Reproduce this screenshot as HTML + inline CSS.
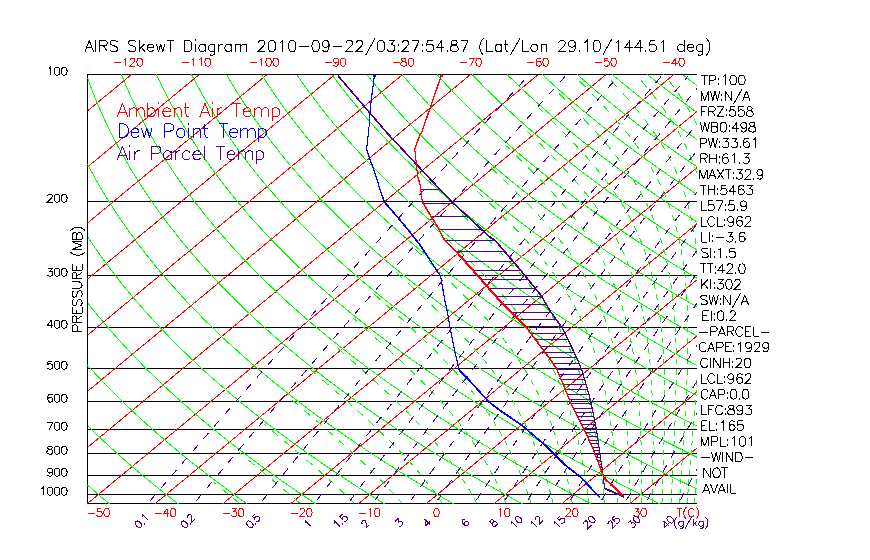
<!DOCTYPE html>
<html><head><meta charset="utf-8"><style>
html,body{margin:0;padding:0;background:#fff;}
svg{display:block;font-family:"Liberation Sans",sans-serif;}
</style></head><body>
<svg width="870" height="560" viewBox="0 0 870 560">
<rect width="870" height="560" fill="#fff"/>
<defs><clipPath id="c"><rect x="87" y="74" width="610" height="430"/></clipPath></defs>
<g clip-path="url(#c)">
<path d="M87 201.5H697M87 275.5H697M87 327.5H697M87 368.5H697M87 401.5H697M87 429.5H697M87 453.5H697M87 475.5H697M87 494.5H697M87 74.5H697M87 503.5H697M87.5 74V504" stroke="#000" stroke-width="1" fill="none" shape-rendering="crispEdges"/>
<path d="M87.5 110.91 131.52 74.5M87.5 167 199.32 74.5M87.5 223.08 267.12 74.5M87.5 279.16 334.92 74.5M87.5 335.25 402.72 74.5M87.5 391.33 470.52 74.5M87.5 447.42 538.32 74.5M87.5 503.5 606.12 74.5M154.09 504.5 673.92 74.5M221.89 504.5 697.5 111.08M289.69 504.5 697.5 167.16M357.49 504.5 697.5 223.25M425.29 504.5 697.5 279.33M493.09 504.5 697.5 335.41M560.89 504.5 697.5 391.5M628.69 504.5 697.5 447.58M696.49 504.5 697.5 503.67" stroke="#ff0000" stroke-width="1" fill="none" shape-rendering="crispEdges"/>
<path d="M87.5 485.02 89.18 486.5 91.45 488.5 93.75 490.5 96.06 492.5 98.38 494.5 100.72 496.5 103.07 498.5 105.44 500.5 107.82 502.5 110.22 504.5M87.5 425.63 88.38 426.5 90.43 428.5 92.5 430.5 94.57 432.5 96.66 434.5 98.77 436.5 100.89 438.5 103.02 440.5 105.17 442.5 107.33 444.5 109.51 446.5 111.7 448.5 113.9 450.5 116.12 452.5 118.36 454.5 120.61 456.5 122.87 458.5 125.15 460.5 127.44 462.5 129.75 464.5 132.07 466.5 134.41 468.5 136.76 470.5 139.13 472.5 141.51 474.5 143.91 476.5 146.32 478.5 148.75 480.5 151.2 482.5 153.66 484.5 156.13 486.5 158.62 488.5 161.12 490.5 163.64 492.5 166.18 494.5 168.73 496.5 171.3 498.5 173.88 500.5 176.48 502.5 179.09 504.5M87.5 365.17 88.71 366.5 90.53 368.5 92.36 370.5 94.21 372.5 96.07 374.5 97.95 376.5 99.84 378.5 101.74 380.5 103.65 382.5 105.58 384.5 107.53 386.5 109.48 388.5 111.45 390.5 113.44 392.5 115.44 394.5 117.45 396.5 119.47 398.5 121.51 400.5 123.57 402.5 125.63 404.5 127.72 406.5 129.81 408.5 131.92 410.5 134.05 412.5 136.19 414.5 138.34 416.5 140.51 418.5 142.69 420.5 144.89 422.5 147.1 424.5 149.32 426.5 151.56 428.5 153.82 430.5 156.09 432.5 158.37 434.5 160.67 436.5 162.98 438.5 165.31 440.5 167.65 442.5 170.01 444.5 172.39 446.5 174.78 448.5 177.18 450.5 179.6 452.5 182.03 454.5 184.48 456.5 186.95 458.5 189.43 460.5 191.92 462.5 194.43 464.5 196.96 466.5 199.5 468.5 202.06 470.5 204.63 472.5 207.22 474.5 209.82 476.5 212.44 478.5 215.08 480.5 217.73 482.5 220.4 484.5 223.08 486.5 225.78 488.5 228.5 490.5 231.23 492.5 233.98 494.5 236.74 496.5 239.53 498.5 242.32 500.5 245.14 502.5 247.97 504.5M87.5 302.66 88.95 304.5 90.53 306.5 92.13 308.5 93.75 310.5 95.37 312.5 97.01 314.5 98.66 316.5 100.32 318.5 102 320.5 103.68 322.5 105.38 324.5 107.1 326.5 108.83 328.5 110.57 330.5 112.32 332.5 114.09 334.5 115.87 336.5 117.66 338.5 119.47 340.5 121.28 342.5 123.12 344.5 124.96 346.5 126.82 348.5 128.7 350.5 130.58 352.5 132.48 354.5 134.4 356.5 136.32 358.5 138.26 360.5 140.22 362.5 142.19 364.5 144.17 366.5 146.16 368.5 148.17 370.5 150.2 372.5 152.23 374.5 154.29 376.5 156.35 378.5 158.43 380.5 160.53 382.5 162.63 384.5 164.76 386.5 166.89 388.5 169.04 390.5 171.21 392.5 173.39 394.5 175.58 396.5 177.79 398.5 180.01 400.5 182.25 402.5 184.5 404.5 186.77 406.5 189.05 408.5 191.35 410.5 193.66 412.5 195.99 414.5 198.33 416.5 200.68 418.5 203.06 420.5 205.44 422.5 207.84 424.5 210.26 426.5 212.69 428.5 215.14 430.5 217.6 432.5 220.08 434.5 222.57 436.5 225.08 438.5 227.6 440.5 230.14 442.5 232.7 444.5 235.27 446.5 237.85 448.5 240.46 450.5 243.07 452.5 245.71 454.5 248.36 456.5 251.02 458.5 253.7 460.5 256.4 462.5 259.11 464.5 261.84 466.5 264.59 468.5 267.35 470.5 270.13 472.5 272.92 474.5 275.74 476.5 278.56 478.5 281.41 480.5 284.27 482.5 287.14 484.5 290.04 486.5 292.95 488.5 295.88 490.5 298.82 492.5 301.78 494.5 304.76 496.5 307.75 498.5 310.76 500.5 313.79 502.5 316.84 504.5M87.5 236.58 88.77 238.5 90.1 240.5 91.45 242.5 92.81 244.5 94.18 246.5 95.56 248.5 96.96 250.5 98.36 252.5 99.78 254.5 101.21 256.5 102.66 258.5 104.11 260.5 105.58 262.5 107.06 264.5 108.55 266.5 110.05 268.5 111.57 270.5 113.1 272.5 114.64 274.5 116.19 276.5 117.76 278.5 119.34 280.5 120.93 282.5 122.53 284.5 124.15 286.5 125.77 288.5 127.42 290.5 129.07 292.5 130.74 294.5 132.42 296.5 134.11 298.5 135.82 300.5 137.54 302.5 139.27 304.5 141.01 306.5 142.77 308.5 144.54 310.5 146.32 312.5 148.12 314.5 149.93 316.5 151.76 318.5 153.59 320.5 155.44 322.5 157.31 324.5 159.19 326.5 161.08 328.5 162.98 330.5 164.9 332.5 166.83 334.5 168.78 336.5 170.74 338.5 172.71 340.5 174.7 342.5 176.7 344.5 178.71 346.5 180.74 348.5 182.78 350.5 184.84 352.5 186.91 354.5 188.99 356.5 191.09 358.5 193.21 360.5 195.33 362.5 197.47 364.5 199.63 366.5 201.8 368.5 203.98 370.5 206.18 372.5 208.4 374.5 210.63 376.5 212.87 378.5 215.13 380.5 217.4 382.5 219.68 384.5 221.99 386.5 224.3 388.5 226.63 390.5 228.98 392.5 231.34 394.5 233.72 396.5 236.11 398.5 238.52 400.5 240.94 402.5 243.37 404.5 245.83 406.5 248.29 408.5 250.78 410.5 253.27 412.5 255.79 414.5 258.32 416.5 260.86 418.5 263.42 420.5 266 422.5 268.59 424.5 271.2 426.5 273.82 428.5 276.46 430.5 279.11 432.5 281.78 434.5 284.47 436.5 287.17 438.5 289.89 440.5 292.63 442.5 295.38 444.5 298.15 446.5 300.93 448.5 303.73 450.5 306.55 452.5 309.38 454.5 312.23 456.5 315.1 458.5 317.98 460.5 320.88 462.5 323.8 464.5 326.73 466.5 329.68 468.5 332.64 470.5 335.63 472.5 338.63 474.5 341.65 476.5 344.68 478.5 347.73 480.5 350.8 482.5 353.89 484.5 356.99 486.5 360.11 488.5 363.25 490.5 366.41 492.5 369.58 494.5 372.77 496.5 375.98 498.5 379.21 500.5 382.45 502.5 385.71 504.5M87.5 164.07 87.72 164.5 88.77 166.5 89.84 168.5 90.91 170.5 91.99 172.5 93.09 174.5 94.19 176.5 95.31 178.5 96.44 180.5 97.58 182.5 98.73 184.5 99.89 186.5 101.06 188.5 102.24 190.5 103.44 192.5 104.65 194.5 105.86 196.5 107.09 198.5 108.33 200.5 109.59 202.5 110.85 204.5 112.12 206.5 113.41 208.5 114.71 210.5 116.02 212.5 117.34 214.5 118.68 216.5 120.02 218.5 121.38 220.5 122.75 222.5 124.13 224.5 125.52 226.5 126.93 228.5 128.35 230.5 129.78 232.5 131.22 234.5 132.67 236.5 134.14 238.5 135.61 240.5 137.1 242.5 138.61 244.5 140.12 246.5 141.65 248.5 143.19 250.5 144.74 252.5 146.3 254.5 147.88 256.5 149.47 258.5 151.07 260.5 152.69 262.5 154.31 264.5 155.95 266.5 157.61 268.5 159.27 270.5 160.95 272.5 162.64 274.5 164.35 276.5 166.06 278.5 167.79 280.5 169.54 282.5 171.29 284.5 173.06 286.5 174.85 288.5 176.64 290.5 178.45 292.5 180.27 294.5 182.11 296.5 183.96 298.5 185.82 300.5 187.7 302.5 189.59 304.5 191.49 306.5 193.41 308.5 195.34 310.5 197.28 312.5 199.24 314.5 201.21 316.5 203.19 318.5 205.19 320.5 207.21 322.5 209.23 324.5 211.27 326.5 213.33 328.5 215.4 330.5 217.48 332.5 219.58 334.5 221.69 336.5 223.81 338.5 225.95 340.5 228.11 342.5 230.28 344.5 232.46 346.5 234.66 348.5 236.87 350.5 239.09 352.5 241.34 354.5 243.59 356.5 245.86 358.5 248.15 360.5 250.45 362.5 252.76 364.5 255.09 366.5 257.44 368.5 259.79 370.5 262.17 372.5 264.56 374.5 266.96 376.5 269.38 378.5 271.82 380.5 274.27 382.5 276.73 384.5 279.22 386.5 281.71 388.5 284.22 390.5 286.75 392.5 289.29 394.5 291.85 396.5 294.43 398.5 297.02 400.5 299.62 402.5 302.24 404.5 304.88 406.5 307.53 408.5 310.2 410.5 312.89 412.5 315.59 414.5 318.31 416.5 321.04 418.5 323.79 420.5 326.55 422.5 329.34 424.5 332.13 426.5 334.95 428.5 337.78 430.5 340.63 432.5 343.49 434.5 346.37 436.5 349.27 438.5 352.18 440.5 355.12 442.5 358.06 444.5 361.03 446.5 364.01 448.5 367.01 450.5 370.02 452.5 373.06 454.5 376.11 456.5 379.17 458.5 382.26 460.5 385.36 462.5 388.48 464.5 391.61 466.5 394.77 468.5 397.94 470.5 401.13 472.5 404.33 474.5 407.56 476.5 410.8 478.5 414.06 480.5 417.34 482.5 420.63 484.5 423.95 486.5 427.28 488.5 430.63 490.5 433.99 492.5 437.38 494.5 440.78 496.5 444.21 498.5 447.65 500.5 451.11 502.5 454.58 504.5M87.5 77.99 87.68 78.5 88.41 80.5 89.14 82.5 89.88 84.5 90.64 86.5 91.4 88.5 92.17 90.5 92.96 92.5 93.75 94.5 94.55 96.5 95.37 98.5 96.19 100.5 97.03 102.5 97.87 104.5 98.72 106.5 99.59 108.5 100.46 110.5 101.35 112.5 102.25 114.5 103.15 116.5 104.07 118.5 105 120.5 105.93 122.5 106.88 124.5 107.84 126.5 108.81 128.5 109.79 130.5 110.78 132.5 111.78 134.5 112.8 136.5 113.82 138.5 114.85 140.5 115.9 142.5 116.95 144.5 118.02 146.5 119.1 148.5 120.19 150.5 121.29 152.5 122.4 154.5 123.52 156.5 124.65 158.5 125.8 160.5 126.95 162.5 128.12 164.5 129.3 166.5 130.48 168.5 131.68 170.5 132.9 172.5 134.12 174.5 135.35 176.5 136.6 178.5 137.86 180.5 139.13 182.5 140.41 184.5 141.7 186.5 143 188.5 144.32 190.5 145.65 192.5 146.99 194.5 148.34 196.5 149.7 198.5 151.08 200.5 152.46 202.5 153.86 204.5 155.27 206.5 156.69 208.5 158.13 210.5 159.58 212.5 161.03 214.5 162.51 216.5 163.99 218.5 165.48 220.5 166.99 222.5 168.51 224.5 170.05 226.5 171.59 228.5 173.15 230.5 174.72 232.5 176.3 234.5 177.9 236.5 179.5 238.5 181.12 240.5 182.76 242.5 184.4 244.5 186.06 246.5 187.73 248.5 189.42 250.5 191.12 252.5 192.83 254.5 194.55 256.5 196.28 258.5 198.03 260.5 199.8 262.5 201.57 264.5 203.36 266.5 205.16 268.5 206.98 270.5 208.81 272.5 210.65 274.5 212.5 276.5 214.37 278.5 216.25 280.5 218.15 282.5 220.06 284.5 221.98 286.5 223.92 288.5 225.87 290.5 227.83 292.5 229.81 294.5 231.8 296.5 233.81 298.5 235.83 300.5 237.86 302.5 239.91 304.5 241.97 306.5 244.04 308.5 246.13 310.5 248.23 312.5 250.35 314.5 252.48 316.5 254.63 318.5 256.79 320.5 258.97 322.5 261.16 324.5 263.36 326.5 265.58 328.5 267.81 330.5 270.06 332.5 272.32 334.5 274.6 336.5 276.89 338.5 279.2 340.5 281.52 342.5 283.86 344.5 286.21 346.5 288.57 348.5 290.95 350.5 293.35 352.5 295.76 354.5 298.19 356.5 300.63 358.5 303.09 360.5 305.56 362.5 308.05 364.5 310.55 366.5 313.07 368.5 315.61 370.5 318.16 372.5 320.72 374.5 323.3 376.5 325.9 378.5 328.51 380.5 331.14 382.5 333.79 384.5 336.45 386.5 339.12 388.5 341.81 390.5 344.52 392.5 347.25 394.5 349.99 396.5 352.74 398.5 355.52 400.5 358.31 402.5 361.11 404.5 363.93 406.5 366.77 408.5 369.63 410.5 372.5 412.5 375.39 414.5 378.29 416.5 381.22 418.5 384.15 420.5 387.11 422.5 390.08 424.5 393.07 426.5 396.08 428.5 399.1 430.5 402.14 432.5 405.2 434.5 408.27 436.5 411.37 438.5 414.48 440.5 417.6 442.5 420.75 444.5 423.91 446.5 427.09 448.5 430.28 450.5 433.5 452.5 436.73 454.5 439.98 456.5 443.25 458.5 446.53 460.5 449.84 462.5 453.16 464.5 456.5 466.5 459.86 468.5 463.23 470.5 466.63 472.5 470.04 474.5 473.47 476.5 476.92 478.5 480.39 480.5 483.87 482.5 487.38 484.5 490.9 486.5 494.44 488.5 498 490.5 501.58 492.5 505.18 494.5 508.8 496.5 512.43 498.5 516.09 500.5 519.76 502.5 523.46 504.5M121.34 74.5 122.15 76.5 122.98 78.5 123.81 80.5 124.66 82.5 125.51 84.5 126.38 86.5 127.25 88.5 128.14 90.5 129.04 92.5 129.94 94.5 130.86 96.5 131.79 98.5 132.73 100.5 133.67 102.5 134.63 104.5 135.6 106.5 136.59 108.5 137.58 110.5 138.58 112.5 139.59 114.5 140.62 116.5 141.65 118.5 142.7 120.5 143.75 122.5 144.82 124.5 145.9 126.5 146.99 128.5 148.09 130.5 149.2 132.5 150.32 134.5 151.45 136.5 152.6 138.5 153.75 140.5 154.92 142.5 156.1 144.5 157.29 146.5 158.49 148.5 159.7 150.5 160.93 152.5 162.16 154.5 163.41 156.5 164.67 158.5 165.94 160.5 167.22 162.5 168.51 164.5 169.82 166.5 171.13 168.5 172.46 170.5 173.8 172.5 175.15 174.5 176.52 176.5 177.89 178.5 179.28 180.5 180.68 182.5 182.09 184.5 183.51 186.5 184.95 188.5 186.4 190.5 187.86 192.5 189.33 194.5 190.81 196.5 192.31 198.5 193.82 200.5 195.34 202.5 196.87 204.5 198.42 206.5 199.98 208.5 201.55 210.5 203.13 212.5 204.73 214.5 206.33 216.5 207.96 218.5 209.59 220.5 211.24 222.5 212.9 224.5 214.57 226.5 216.25 228.5 217.95 230.5 219.66 232.5 221.39 234.5 223.12 236.5 224.87 238.5 226.64 240.5 228.41 242.5 230.2 244.5 232 246.5 233.82 248.5 235.65 250.5 237.49 252.5 239.35 254.5 241.22 256.5 243.1 258.5 245 260.5 246.91 262.5 248.83 264.5 250.77 266.5 252.72 268.5 254.68 270.5 256.66 272.5 258.65 274.5 260.66 276.5 262.68 278.5 264.71 280.5 266.76 282.5 268.82 284.5 270.9 286.5 272.99 288.5 275.09 290.5 277.21 292.5 279.35 294.5 281.49 296.5 283.65 298.5 285.83 300.5 288.02 302.5 290.22 304.5 292.44 306.5 294.68 308.5 296.93 310.5 299.19 312.5 301.47 314.5 303.76 316.5 306.07 318.5 308.39 320.5 310.73 322.5 313.08 324.5 315.45 326.5 317.83 328.5 320.23 330.5 322.64 332.5 325.07 334.5 327.51 336.5 329.97 338.5 332.44 340.5 334.93 342.5 337.43 344.5 339.95 346.5 342.49 348.5 345.04 350.5 347.61 352.5 350.19 354.5 352.79 356.5 355.4 358.5 358.03 360.5 360.68 362.5 363.34 364.5 366.01 366.5 368.71 368.5 371.42 370.5 374.14 372.5 376.88 374.5 379.64 376.5 382.42 378.5 385.21 380.5 388.01 382.5 390.84 384.5 393.68 386.5 396.53 388.5 399.4 390.5 402.29 392.5 405.2 394.5 408.12 396.5 411.06 398.5 414.02 400.5 416.99 402.5 419.98 404.5 422.99 406.5 426.01 408.5 429.06 410.5 432.11 412.5 435.19 414.5 438.28 416.5 441.39 418.5 444.52 420.5 447.67 422.5 450.83 424.5 454.01 426.5 457.21 428.5 460.42 430.5 463.66 432.5 466.91 434.5 470.18 436.5 473.46 438.5 476.77 440.5 480.09 442.5 483.43 444.5 486.79 446.5 490.17 448.5 493.56 450.5 496.97 452.5 500.41 454.5 503.86 456.5 507.32 458.5 510.81 460.5 514.32 462.5 517.84 464.5 521.38 466.5 524.95 468.5 528.53 470.5 532.13 472.5 535.74 474.5 539.38 476.5 543.04 478.5 546.71 480.5 550.41 482.5 554.12 484.5 557.85 486.5 561.61 488.5 565.38 490.5 569.17 492.5 572.98 494.5 576.81 496.5 580.66 498.5 584.53 500.5 588.42 502.5 592.33 504.5M156.41 74.5 157.34 76.5 158.27 78.5 159.22 80.5 160.17 82.5 161.14 84.5 162.12 86.5 163.1 88.5 164.1 90.5 165.11 92.5 166.13 94.5 167.16 96.5 168.21 98.5 169.26 100.5 170.32 102.5 171.4 104.5 172.48 106.5 173.58 108.5 174.69 110.5 175.81 112.5 176.94 114.5 178.08 116.5 179.23 118.5 180.39 120.5 181.57 122.5 182.76 124.5 183.95 126.5 185.16 128.5 186.38 130.5 187.61 132.5 188.86 134.5 190.11 136.5 191.38 138.5 192.66 140.5 193.95 142.5 195.25 144.5 196.56 146.5 197.88 148.5 199.22 150.5 200.57 152.5 201.93 154.5 203.3 156.5 204.68 158.5 206.08 160.5 207.49 162.5 208.91 164.5 210.34 166.5 211.78 168.5 213.24 170.5 214.71 172.5 216.19 174.5 217.68 176.5 219.18 178.5 220.7 180.5 222.23 182.5 223.77 184.5 225.33 186.5 226.89 188.5 228.47 190.5 230.06 192.5 231.67 194.5 233.29 196.5 234.92 198.5 236.56 200.5 238.21 202.5 239.88 204.5 241.56 206.5 243.26 208.5 244.96 210.5 246.68 212.5 248.42 214.5 250.16 216.5 251.92 218.5 253.69 220.5 255.48 222.5 257.28 224.5 259.09 226.5 260.91 228.5 262.75 230.5 264.6 232.5 266.47 234.5 268.35 236.5 270.24 238.5 272.15 240.5 274.07 242.5 276 244.5 277.95 246.5 279.91 248.5 281.88 250.5 283.87 252.5 285.87 254.5 287.88 256.5 289.91 258.5 291.96 260.5 294.02 262.5 296.09 264.5 298.17 266.5 300.27 268.5 302.39 270.5 304.52 272.5 306.66 274.5 308.82 276.5 310.99 278.5 313.17 280.5 315.37 282.5 317.59 284.5 319.82 286.5 322.06 288.5 324.32 290.5 326.59 292.5 328.88 294.5 331.18 296.5 333.5 298.5 335.83 300.5 338.18 302.5 340.54 304.5 342.92 306.5 345.31 308.5 347.72 310.5 350.14 312.5 352.58 314.5 355.04 316.5 357.51 318.5 359.99 320.5 362.49 322.5 365 324.5 367.53 326.5 370.08 328.5 372.64 330.5 375.22 332.5 377.81 334.5 380.42 336.5 383.04 338.5 385.69 340.5 388.34 342.5 391.01 344.5 393.7 346.5 396.41 348.5 399.13 350.5 401.86 352.5 404.62 354.5 407.38 356.5 410.17 358.5 412.97 360.5 415.79 362.5 418.62 364.5 421.48 366.5 424.34 368.5 427.23 370.5 430.13 372.5 433.05 374.5 435.98 376.5 438.93 378.5 441.9 380.5 444.88 382.5 447.89 384.5 450.9 386.5 453.94 388.5 456.99 390.5 460.06 392.5 463.15 394.5 466.26 396.5 469.38 398.5 472.52 400.5 475.68 402.5 478.85 404.5 482.04 406.5 485.25 408.5 488.48 410.5 491.73 412.5 494.99 414.5 498.27 416.5 501.57 418.5 504.89 420.5 508.22 422.5 511.58 424.5 514.95 426.5 518.34 428.5 521.74 430.5 525.17 432.5 528.61 434.5 532.08 436.5 535.56 438.5 539.06 440.5 542.58 442.5 546.11 444.5 549.67 446.5 553.24 448.5 556.84 450.5 560.45 452.5 564.08 454.5 567.73 456.5 571.4 458.5 575.09 460.5 578.8 462.5 582.52 464.5 586.27 466.5 590.04 468.5 593.82 470.5 597.63 472.5 601.45 474.5 605.29 476.5 609.16 478.5 613.04 480.5 616.94 482.5 620.87 484.5 624.81 486.5 628.77 488.5 632.75 490.5 636.76 492.5 640.78 494.5 644.82 496.5 648.89 498.5 652.97 500.5 657.08 502.5 661.2 504.5M191.48 74.5 192.52 76.5 193.56 78.5 194.62 80.5 195.69 82.5 196.77 84.5 197.86 86.5 198.96 88.5 200.07 90.5 201.19 92.5 202.33 94.5 203.47 96.5 204.63 98.5 205.79 100.5 206.97 102.5 208.16 104.5 209.36 106.5 210.58 108.5 211.8 110.5 213.04 112.5 214.28 114.5 215.54 116.5 216.81 118.5 218.09 120.5 219.39 122.5 220.69 124.5 222.01 126.5 223.34 128.5 224.68 130.5 226.03 132.5 227.39 134.5 228.77 136.5 230.16 138.5 231.56 140.5 232.97 142.5 234.39 144.5 235.83 146.5 237.28 148.5 238.74 150.5 240.21 152.5 241.69 154.5 243.19 156.5 244.7 158.5 246.22 160.5 247.75 162.5 249.3 164.5 250.86 166.5 252.43 168.5 254.01 170.5 255.61 172.5 257.22 174.5 258.84 176.5 260.47 178.5 262.12 180.5 263.78 182.5 265.45 184.5 267.14 186.5 268.84 188.5 270.55 190.5 272.27 192.5 274.01 194.5 275.76 196.5 277.52 198.5 279.3 200.5 281.09 202.5 282.89 204.5 284.71 206.5 286.54 208.5 288.38 210.5 290.24 212.5 292.11 214.5 293.99 216.5 295.89 218.5 297.8 220.5 299.72 222.5 301.66 224.5 303.61 226.5 305.58 228.5 307.56 230.5 309.55 232.5 311.55 234.5 313.57 236.5 315.61 238.5 317.66 240.5 319.72 242.5 321.8 244.5 323.89 246.5 325.99 248.5 328.11 250.5 330.24 252.5 332.39 254.5 334.55 256.5 336.73 258.5 338.92 260.5 341.13 262.5 343.35 264.5 345.58 266.5 347.83 268.5 350.09 270.5 352.37 272.5 354.66 274.5 356.97 276.5 359.29 278.5 361.63 280.5 363.98 282.5 366.35 284.5 368.73 286.5 371.13 288.5 373.55 290.5 375.97 292.5 378.42 294.5 380.88 296.5 383.35 298.5 385.84 300.5 388.34 302.5 390.86 304.5 393.4 306.5 395.95 308.5 398.52 310.5 401.1 312.5 403.7 314.5 406.31 316.5 408.94 318.5 411.59 320.5 414.25 322.5 416.93 324.5 419.62 326.5 422.33 328.5 425.06 330.5 427.8 332.5 430.56 334.5 433.33 336.5 436.12 338.5 438.93 340.5 441.75 342.5 444.59 344.5 447.45 346.5 450.32 348.5 453.21 350.5 456.12 352.5 459.04 354.5 461.98 356.5 464.94 358.5 467.91 360.5 470.9 362.5 473.91 364.5 476.94 366.5 479.98 368.5 483.04 370.5 486.11 372.5 489.21 374.5 492.32 376.5 495.45 378.5 498.59 380.5 501.76 382.5 504.94 384.5 508.13 386.5 511.35 388.5 514.58 390.5 517.84 392.5 521.11 394.5 524.39 396.5 527.7 398.5 531.02 400.5 534.36 402.5 537.72 404.5 541.1 406.5 544.49 408.5 547.91 410.5 551.34 412.5 554.79 414.5 558.26 416.5 561.75 418.5 565.25 420.5 568.78 422.5 572.32 424.5 575.88 426.5 579.46 428.5 583.06 430.5 586.68 432.5 590.32 434.5 593.98 436.5 597.65 438.5 601.35 440.5 605.06 442.5 608.8 444.5 612.55 446.5 616.32 448.5 620.11 450.5 623.92 452.5 627.76 454.5 631.61 456.5 635.48 458.5 639.37 460.5 643.28 462.5 647.21 464.5 651.16 466.5 655.12 468.5 659.11 470.5 663.12 472.5 667.15 474.5 671.2 476.5 675.28 478.5 679.37 480.5 683.48 482.5 687.61 484.5 691.76 486.5 695.94 488.5 697.5 489.25M226.56 74.5 227.7 76.5 228.86 78.5 230.03 80.5 231.21 82.5 232.4 84.5 233.6 86.5 234.81 88.5 236.03 90.5 237.27 92.5 238.52 94.5 239.78 96.5 241.05 98.5 242.33 100.5 243.62 102.5 244.93 104.5 246.24 106.5 247.57 108.5 248.91 110.5 250.26 112.5 251.63 114.5 253 116.5 254.39 118.5 255.79 120.5 257.2 122.5 258.63 124.5 260.06 126.5 261.51 128.5 262.97 130.5 264.45 132.5 265.93 134.5 267.43 136.5 268.94 138.5 270.46 140.5 271.99 142.5 273.54 144.5 275.1 146.5 276.67 148.5 278.25 150.5 279.85 152.5 281.46 154.5 283.08 156.5 284.71 158.5 286.36 160.5 288.02 162.5 289.69 164.5 291.38 166.5 293.08 168.5 294.79 170.5 296.51 172.5 298.25 174.5 300 176.5 301.77 178.5 303.54 180.5 305.33 182.5 307.14 184.5 308.95 186.5 310.78 188.5 312.62 190.5 314.48 192.5 316.35 194.5 318.23 196.5 320.13 198.5 322.04 200.5 323.97 202.5 325.9 204.5 327.86 206.5 329.82 208.5 331.8 210.5 333.79 212.5 335.8 214.5 337.82 216.5 339.85 218.5 341.9 220.5 343.97 222.5 346.04 224.5 348.13 226.5 350.24 228.5 352.36 230.5 354.49 232.5 356.64 234.5 358.8 236.5 360.98 238.5 363.17 240.5 365.37 242.5 367.59 244.5 369.83 246.5 372.08 248.5 374.34 250.5 376.62 252.5 378.91 254.5 381.22 256.5 383.54 258.5 385.88 260.5 388.23 262.5 390.6 264.5 392.99 266.5 395.38 268.5 397.8 270.5 400.23 272.5 402.67 274.5 405.13 276.5 407.6 278.5 410.09 280.5 412.6 282.5 415.12 284.5 417.65 286.5 420.2 288.5 422.77 290.5 425.35 292.5 427.95 294.5 430.57 296.5 433.2 298.5 435.84 300.5 438.5 302.5 441.18 304.5 443.88 306.5 446.59 308.5 449.31 310.5 452.05 312.5 454.81 314.5 457.59 316.5 460.38 318.5 463.19 320.5 466.01 322.5 468.85 324.5 471.71 326.5 474.58 328.5 477.47 330.5 480.38 332.5 483.3 334.5 486.24 336.5 489.2 338.5 492.17 340.5 495.16 342.5 498.17 344.5 501.2 346.5 504.24 348.5 507.3 350.5 510.38 352.5 513.47 354.5 516.58 356.5 519.71 358.5 522.85 360.5 526.02 362.5 529.2 364.5 532.4 366.5 535.61 368.5 538.85 370.5 542.1 372.5 545.37 374.5 548.66 376.5 551.96 378.5 555.29 380.5 558.63 382.5 561.99 384.5 565.36 386.5 568.76 388.5 572.17 390.5 575.61 392.5 579.06 394.5 582.53 396.5 586.02 398.5 589.52 400.5 593.05 402.5 596.59 404.5 600.15 406.5 603.73 408.5 607.33 410.5 610.95 412.5 614.59 414.5 618.25 416.5 621.92 418.5 625.62 420.5 629.33 422.5 633.07 424.5 636.82 426.5 640.59 428.5 644.39 430.5 648.2 432.5 652.03 434.5 655.88 436.5 659.75 438.5 663.64 440.5 667.55 442.5 671.48 444.5 675.43 446.5 679.4 448.5 683.39 450.5 687.4 452.5 691.43 454.5 695.48 456.5 697.5 457.49M261.63 74.5 262.89 76.5 264.15 78.5 265.43 80.5 266.72 82.5 268.02 84.5 269.34 86.5 270.66 88.5 272 90.5 273.35 92.5 274.71 94.5 276.08 96.5 277.47 98.5 278.86 100.5 280.27 102.5 281.69 104.5 283.12 106.5 284.57 108.5 286.02 110.5 287.49 112.5 288.97 114.5 290.47 116.5 291.97 118.5 293.49 120.5 295.02 122.5 296.56 124.5 298.12 126.5 299.69 128.5 301.27 130.5 302.86 132.5 304.47 134.5 306.08 136.5 307.72 138.5 309.36 140.5 311.01 142.5 312.68 144.5 314.37 146.5 316.06 148.5 317.77 150.5 319.49 152.5 321.22 154.5 322.97 156.5 324.73 158.5 326.5 160.5 328.29 162.5 330.09 164.5 331.9 166.5 333.73 168.5 335.57 170.5 337.42 172.5 339.28 174.5 341.16 176.5 343.06 178.5 344.96 180.5 346.88 182.5 348.82 184.5 350.77 186.5 352.73 188.5 354.7 190.5 356.69 192.5 358.69 194.5 360.71 196.5 362.74 198.5 364.78 200.5 366.84 202.5 368.92 204.5 371 206.5 373.1 208.5 375.22 210.5 377.35 212.5 379.49 214.5 381.65 216.5 383.82 218.5 386.01 220.5 388.21 222.5 390.42 224.5 392.66 226.5 394.9 228.5 397.16 230.5 399.43 232.5 401.72 234.5 404.03 236.5 406.35 238.5 408.68 240.5 411.03 242.5 413.39 244.5 415.77 246.5 418.16 248.5 420.57 250.5 423 252.5 425.43 254.5 427.89 256.5 430.36 258.5 432.84 260.5 435.34 262.5 437.86 264.5 440.39 266.5 442.94 268.5 445.5 270.5 448.08 272.5 450.67 274.5 453.28 276.5 455.91 278.5 458.55 280.5 461.21 282.5 463.88 284.5 466.57 286.5 469.28 288.5 472 290.5 474.73 292.5 477.49 294.5 480.26 296.5 483.04 298.5 485.85 300.5 488.67 302.5 491.5 304.5 494.35 306.5 497.22 308.5 500.11 310.5 503.01 312.5 505.93 314.5 508.86 316.5 511.82 318.5 514.79 320.5 517.77 322.5 520.77 324.5 523.79 326.5 526.83 328.5 529.89 330.5 532.96 332.5 536.05 334.5 539.15 336.5 542.28 338.5 545.42 340.5 548.58 342.5 551.75 344.5 554.95 346.5 558.16 348.5 561.39 350.5 564.63 352.5 567.9 354.5 571.18 356.5 574.48 358.5 577.8 360.5 581.13 362.5 584.49 364.5 587.86 366.5 591.25 368.5 594.66 370.5 598.09 372.5 601.53 374.5 605 376.5 608.48 378.5 611.98 380.5 615.5 382.5 619.04 384.5 622.59 386.5 626.17 388.5 629.76 390.5 633.38 392.5 637.01 394.5 640.66 396.5 644.33 398.5 648.02 400.5 651.73 402.5 655.46 404.5 659.21 406.5 662.97 408.5 666.76 410.5 670.57 412.5 674.39 414.5 678.24 416.5 682.1 418.5 685.99 420.5 689.89 422.5 693.81 424.5 697.5 426.37M296.7 74.5 298.07 76.5 299.45 78.5 300.84 80.5 302.24 82.5 303.65 84.5 305.08 86.5 306.51 88.5 307.96 90.5 309.43 92.5 310.9 94.5 312.39 96.5 313.89 98.5 315.4 100.5 316.92 102.5 318.45 104.5 320 106.5 321.56 108.5 323.14 110.5 324.72 112.5 326.32 114.5 327.93 116.5 329.55 118.5 331.19 120.5 332.84 122.5 334.5 124.5 336.18 126.5 337.86 128.5 339.56 130.5 341.28 132.5 343 134.5 344.74 136.5 346.49 138.5 348.26 140.5 350.04 142.5 351.83 144.5 353.63 146.5 355.45 148.5 357.28 150.5 359.13 152.5 360.99 154.5 362.86 156.5 364.74 158.5 366.64 160.5 368.56 162.5 370.48 164.5 372.42 166.5 374.37 168.5 376.34 170.5 378.32 172.5 380.32 174.5 382.33 176.5 384.35 178.5 386.38 180.5 388.44 182.5 390.5 184.5 392.58 186.5 394.67 188.5 396.78 190.5 398.9 192.5 401.03 194.5 403.18 196.5 405.35 198.5 407.53 200.5 409.72 202.5 411.93 204.5 414.15 206.5 416.38 208.5 418.64 210.5 420.9 212.5 423.18 214.5 425.48 216.5 427.79 218.5 430.11 220.5 432.45 222.5 434.81 224.5 437.18 226.5 439.56 228.5 441.96 230.5 444.38 232.5 446.81 234.5 449.25 236.5 451.71 238.5 454.19 240.5 456.68 242.5 459.19 244.5 461.71 246.5 464.25 248.5 466.8 250.5 469.37 252.5 471.96 254.5 474.56 256.5 477.17 258.5 479.81 260.5 482.45 262.5 485.12 264.5 487.8 266.5 490.49 268.5 493.21 270.5 495.93 272.5 498.68 274.5 501.44 276.5 504.22 278.5 507.01 280.5 509.82 282.5 512.65 284.5 515.49 286.5 518.35 288.5 521.22 290.5 524.12 292.5 527.02 294.5 529.95 296.5 532.89 298.5 535.85 300.5 538.83 302.5 541.82 304.5 544.83 306.5 547.86 308.5 550.9 310.5 553.97 312.5 557.04 314.5 560.14 316.5 563.25 318.5 566.38 320.5 569.53 322.5 572.7 324.5 575.88 326.5 579.08 328.5 582.3 330.5 585.54 332.5 588.79 334.5 592.06 336.5 595.35 338.5 598.66 340.5 601.99 342.5 605.33 344.5 608.69 346.5 612.07 348.5 615.47 350.5 618.89 352.5 622.32 354.5 625.78 356.5 629.25 358.5 632.74 360.5 636.25 362.5 639.77 364.5 643.32 366.5 646.89 368.5 650.47 370.5 654.07 372.5 657.69 374.5 661.33 376.5 664.99 378.5 668.67 380.5 672.37 382.5 676.09 384.5 679.82 386.5 683.58 388.5 687.35 390.5 691.15 392.5 694.96 394.5 697.5 395.82M331.78 74.5 333.25 76.5 334.74 78.5 336.24 80.5 337.75 82.5 339.28 84.5 340.82 86.5 342.37 88.5 343.93 90.5 345.5 92.5 347.09 94.5 348.69 96.5 350.3 98.5 351.93 100.5 353.57 102.5 355.22 104.5 356.88 106.5 358.56 108.5 360.25 110.5 361.95 112.5 363.67 114.5 365.39 116.5 367.14 118.5 368.89 120.5 370.66 122.5 372.44 124.5 374.23 126.5 376.04 128.5 377.86 130.5 379.69 132.5 381.54 134.5 383.4 136.5 385.27 138.5 387.16 140.5 389.06 142.5 390.98 144.5 392.9 146.5 394.85 148.5 396.8 150.5 398.77 152.5 400.75 154.5 402.75 156.5 404.76 158.5 406.78 160.5 408.82 162.5 410.88 164.5 412.94 166.5 415.02 168.5 417.12 170.5 419.23 172.5 421.35 174.5 423.49 176.5 425.64 178.5 427.81 180.5 429.99 182.5 432.18 184.5 434.39 186.5 436.62 188.5 438.85 190.5 441.11 192.5 443.38 194.5 445.66 196.5 447.96 198.5 450.27 200.5 452.6 202.5 454.94 204.5 457.29 206.5 459.67 208.5 462.05 210.5 464.46 212.5 466.87 214.5 469.31 216.5 471.75 218.5 474.22 220.5 476.7 222.5 479.19 224.5 481.7 226.5 484.22 228.5 486.76 230.5 489.32 232.5 491.89 234.5 494.48 236.5 497.08 238.5 499.7 240.5 502.34 242.5 504.99 244.5 507.65 246.5 510.33 248.5 513.03 250.5 515.75 252.5 518.48 254.5 521.23 256.5 523.99 258.5 526.77 260.5 529.56 262.5 532.38 264.5 535.2 266.5 538.05 268.5 540.91 270.5 543.79 272.5 546.68 274.5 549.6 276.5 552.52 278.5 555.47 280.5 558.43 282.5 561.41 284.5 564.41 286.5 567.42 288.5 570.45 290.5 573.5 292.5 576.56 294.5 579.64 296.5 582.74 298.5 585.86 300.5 588.99 302.5 592.14 304.5 595.31 306.5 598.5 308.5 601.7 310.5 604.92 312.5 608.16 314.5 611.42 316.5 614.69 318.5 617.98 320.5 621.29 322.5 624.62 324.5 627.97 326.5 631.33 328.5 634.72 330.5 638.12 332.5 641.54 334.5 644.97 336.5 648.43 338.5 651.91 340.5 655.4 342.5 658.91 344.5 662.44 346.5 665.99 348.5 669.56 350.5 673.14 352.5 676.75 354.5 680.37 356.5 684.02 358.5 687.68 360.5 691.36 362.5 695.06 364.5 697.5 365.81M366.85 74.5 368.44 76.5 370.04 78.5 371.65 80.5 373.27 82.5 374.91 84.5 376.56 86.5 378.22 88.5 379.89 90.5 381.58 92.5 383.28 94.5 385 96.5 386.72 98.5 388.46 100.5 390.22 102.5 391.98 104.5 393.76 106.5 395.55 108.5 397.36 110.5 399.18 112.5 401.01 114.5 402.86 116.5 404.72 118.5 406.59 120.5 408.47 122.5 410.37 124.5 412.29 126.5 414.21 128.5 416.15 130.5 418.11 132.5 420.08 134.5 422.06 136.5 424.05 138.5 426.06 140.5 428.08 142.5 430.12 144.5 432.17 146.5 434.24 148.5 436.32 150.5 438.41 152.5 440.52 154.5 442.64 156.5 444.78 158.5 446.93 160.5 449.09 162.5 451.27 164.5 453.46 166.5 455.67 168.5 457.89 170.5 460.13 172.5 462.38 174.5 464.65 176.5 466.93 178.5 469.23 180.5 471.54 182.5 473.86 184.5 476.2 186.5 478.56 188.5 480.93 190.5 483.32 192.5 485.72 194.5 488.13 196.5 490.56 198.5 493.01 200.5 495.47 202.5 497.95 204.5 500.44 206.5 502.95 208.5 505.47 210.5 508.01 212.5 510.56 214.5 513.13 216.5 515.72 218.5 518.32 220.5 520.94 222.5 523.57 224.5 526.22 226.5 528.89 228.5 531.57 230.5 534.26 232.5 536.98 234.5 539.71 236.5 542.45 238.5 545.21 240.5 547.99 242.5 550.78 244.5 553.59 246.5 556.42 248.5 559.26 250.5 562.12 252.5 565 254.5 567.89 256.5 570.8 258.5 573.73 260.5 576.67 262.5 579.63 264.5 582.61 266.5 585.6 268.5 588.62 270.5 591.64 272.5 594.69 274.5 597.75 276.5 600.83 278.5 603.93 280.5 607.04 282.5 610.17 284.5 613.32 286.5 616.49 288.5 619.67 290.5 622.88 292.5 626.1 294.5 629.33 296.5 632.59 298.5 635.86 300.5 639.15 302.5 642.46 304.5 645.79 306.5 649.13 308.5 652.49 310.5 655.88 312.5 659.27 314.5 662.69 316.5 666.13 318.5 669.58 320.5 673.05 322.5 676.55 324.5 680.06 326.5 683.58 328.5 687.13 330.5 690.7 332.5 694.28 334.5 697.5 336.29M401.92 74.5 403.62 76.5 405.33 78.5 407.05 80.5 408.79 82.5 410.54 84.5 412.3 86.5 414.07 88.5 415.86 90.5 417.66 92.5 419.48 94.5 421.3 96.5 423.14 98.5 425 100.5 426.87 102.5 428.75 104.5 430.64 106.5 432.55 108.5 434.47 110.5 436.41 112.5 438.36 114.5 440.32 116.5 442.3 118.5 444.29 120.5 446.29 122.5 448.31 124.5 450.34 126.5 452.39 128.5 454.45 130.5 456.52 132.5 458.61 134.5 460.71 136.5 462.83 138.5 464.96 140.5 467.11 142.5 469.27 144.5 471.44 146.5 473.63 148.5 475.83 150.5 478.05 152.5 480.28 154.5 482.53 156.5 484.79 158.5 487.07 160.5 489.36 162.5 491.66 164.5 493.98 166.5 496.32 168.5 498.67 170.5 501.04 172.5 503.42 174.5 505.81 176.5 508.22 178.5 510.65 180.5 513.09 182.5 515.55 184.5 518.02 186.5 520.5 188.5 523.01 190.5 525.52 192.5 528.06 194.5 530.61 196.5 533.17 198.5 535.75 200.5 538.35 202.5 540.96 204.5 543.59 206.5 546.23 208.5 548.89 210.5 551.56 212.5 554.26 214.5 556.96 216.5 559.69 218.5 562.43 220.5 565.18 222.5 567.95 224.5 570.74 226.5 573.55 228.5 576.37 230.5 579.21 232.5 582.06 234.5 584.93 236.5 587.82 238.5 590.72 240.5 593.64 242.5 596.58 244.5 599.54 246.5 602.51 248.5 605.49 250.5 608.5 252.5 611.52 254.5 614.56 256.5 617.62 258.5 620.69 260.5 623.78 262.5 626.89 264.5 630.02 266.5 633.16 268.5 636.32 270.5 639.5 272.5 642.69 274.5 645.91 276.5 649.14 278.5 652.39 280.5 655.65 282.5 658.94 284.5 662.24 286.5 665.56 288.5 668.9 290.5 672.26 292.5 675.63 294.5 679.02 296.5 682.44 298.5 685.87 300.5 689.31 302.5 692.78 304.5 696.26 306.5 697.5 307.21M437 74.5 438.8 76.5 440.62 78.5 442.46 80.5 444.3 82.5 446.16 84.5 448.04 86.5 449.92 88.5 451.83 90.5 453.74 92.5 455.67 94.5 457.61 96.5 459.56 98.5 461.53 100.5 463.52 102.5 465.51 104.5 467.52 106.5 469.55 108.5 471.58 110.5 473.64 112.5 475.7 114.5 477.78 116.5 479.88 118.5 481.99 120.5 484.11 122.5 486.25 124.5 488.4 126.5 490.56 128.5 492.74 130.5 494.94 132.5 497.15 134.5 499.37 136.5 501.61 138.5 503.86 140.5 506.13 142.5 508.41 144.5 510.71 146.5 513.02 148.5 515.35 150.5 517.69 152.5 520.05 154.5 522.42 156.5 524.81 158.5 527.21 160.5 529.63 162.5 532.06 164.5 534.51 166.5 536.97 168.5 539.45 170.5 541.94 172.5 544.45 174.5 546.97 176.5 549.51 178.5 552.07 180.5 554.64 182.5 557.23 184.5 559.83 186.5 562.45 188.5 565.08 190.5 567.73 192.5 570.4 194.5 573.08 196.5 575.78 198.5 578.49 200.5 581.22 202.5 583.97 204.5 586.73 206.5 589.51 208.5 592.31 210.5 595.12 212.5 597.95 214.5 600.79 216.5 603.65 218.5 606.53 220.5 609.43 222.5 612.34 224.5 615.26 226.5 618.21 228.5 621.17 230.5 624.15 232.5 627.14 234.5 630.16 236.5 633.19 238.5 636.23 240.5 639.3 242.5 642.38 244.5 645.48 246.5 648.59 248.5 651.73 250.5 654.88 252.5 658.04 254.5 661.23 256.5 664.43 258.5 667.65 260.5 670.89 262.5 674.15 264.5 677.42 266.5 680.72 268.5 684.03 270.5 687.35 272.5 690.7 274.5 694.06 276.5 697.45 278.5 697.5 278.53M472.07 74.5 473.99 76.5 475.92 78.5 477.86 80.5 479.82 82.5 481.79 84.5 483.78 86.5 485.78 88.5 487.79 90.5 489.82 92.5 491.86 94.5 493.91 96.5 495.98 98.5 498.07 100.5 500.16 102.5 502.28 104.5 504.4 106.5 506.54 108.5 508.7 110.5 510.87 112.5 513.05 114.5 515.25 116.5 517.46 118.5 519.69 120.5 521.93 122.5 524.18 124.5 526.45 126.5 528.74 128.5 531.04 130.5 533.35 132.5 535.68 134.5 538.03 136.5 540.39 138.5 542.76 140.5 545.15 142.5 547.56 144.5 549.98 146.5 552.41 148.5 554.87 150.5 557.33 152.5 559.81 154.5 562.31 156.5 564.82 158.5 567.35 160.5 569.89 162.5 572.45 164.5 575.03 166.5 577.62 168.5 580.22 170.5 582.84 172.5 585.48 174.5 588.14 176.5 590.8 178.5 593.49 180.5 596.19 182.5 598.91 184.5 601.64 186.5 604.39 188.5 607.16 190.5 609.94 192.5 612.74 194.5 615.56 196.5 618.39 198.5 621.24 200.5 624.1 202.5 626.98 204.5 629.88 206.5 632.79 208.5 635.73 210.5 638.67 212.5 641.64 214.5 644.62 216.5 647.62 218.5 650.64 220.5 653.67 222.5 656.72 224.5 659.79 226.5 662.87 228.5 665.97 230.5 669.09 232.5 672.23 234.5 675.38 236.5 678.56 238.5 681.74 240.5 684.95 242.5 688.18 244.5 691.42 246.5 694.68 248.5 697.5 250.22M507.14 74.5 509.17 76.5 511.21 78.5 513.27 80.5 515.34 82.5 517.42 84.5 519.52 86.5 521.63 88.5 523.76 90.5 525.9 92.5 528.05 94.5 530.22 96.5 532.4 98.5 534.6 100.5 536.81 102.5 539.04 104.5 541.28 106.5 543.54 108.5 545.81 110.5 548.09 112.5 550.39 114.5 552.71 116.5 555.04 118.5 557.38 120.5 559.74 122.5 562.12 124.5 564.51 126.5 566.91 128.5 569.33 130.5 571.77 132.5 574.22 134.5 576.69 136.5 579.17 138.5 581.67 140.5 584.18 142.5 586.71 144.5 589.25 146.5 591.81 148.5 594.38 150.5 596.97 152.5 599.58 154.5 602.2 156.5 604.84 158.5 607.49 160.5 610.16 162.5 612.85 164.5 615.55 166.5 618.27 168.5 621 170.5 623.75 172.5 626.52 174.5 629.3 176.5 632.1 178.5 634.91 180.5 637.74 182.5 640.59 184.5 643.46 186.5 646.34 188.5 649.24 190.5 652.15 192.5 655.08 194.5 658.03 196.5 661 198.5 663.98 200.5 666.98 202.5 669.99 204.5 673.03 206.5 676.08 208.5 679.14 210.5 682.23 212.5 685.33 214.5 688.45 216.5 691.59 218.5 694.74 220.5 697.5 222.24M542.22 74.5 544.36 76.5 546.51 78.5 548.67 80.5 550.85 82.5 553.05 84.5 555.26 86.5 557.48 88.5 559.72 90.5 561.97 92.5 564.24 94.5 566.52 96.5 568.82 98.5 571.13 100.5 573.46 102.5 575.8 104.5 578.16 106.5 580.53 108.5 582.92 110.5 585.32 112.5 587.74 114.5 590.17 116.5 592.62 118.5 595.08 120.5 597.56 122.5 600.06 124.5 602.56 126.5 605.09 128.5 607.63 130.5 610.19 132.5 612.76 134.5 615.34 136.5 617.95 138.5 620.57 140.5 623.2 142.5 625.85 144.5 628.52 146.5 631.2 148.5 633.9 150.5 636.61 152.5 639.34 154.5 642.09 156.5 644.85 158.5 647.63 160.5 650.43 162.5 653.24 164.5 656.07 166.5 658.91 168.5 661.78 170.5 664.65 172.5 667.55 174.5 670.46 176.5 673.39 178.5 676.33 180.5 679.29 182.5 682.27 184.5 685.27 186.5 688.28 188.5 691.31 190.5 694.36 192.5 697.42 194.5 697.5 194.55M577.29 74.5 579.54 76.5 581.8 78.5 584.08 80.5 586.37 82.5 588.68 84.5 591 86.5 593.33 88.5 595.69 90.5 598.05 92.5 600.43 94.5 602.83 96.5 605.24 98.5 607.67 100.5 610.11 102.5 612.57 104.5 615.04 106.5 617.53 108.5 620.03 110.5 622.55 112.5 625.09 114.5 627.64 116.5 630.2 118.5 632.78 120.5 635.38 122.5 637.99 124.5 640.62 126.5 643.26 128.5 645.92 130.5 648.6 132.5 651.29 134.5 654 136.5 656.73 138.5 659.47 140.5 662.22 142.5 665 144.5 667.79 146.5 670.59 148.5 673.41 150.5 676.25 152.5 679.11 154.5 681.98 156.5 684.87 158.5 687.77 160.5 690.7 162.5 693.63 164.5 696.59 166.5 697.5 167.11M612.36 74.5 614.72 76.5 617.1 78.5 619.48 80.5 621.89 82.5 624.31 84.5 626.74 86.5 629.19 88.5 631.65 90.5 634.13 92.5 636.63 94.5 639.14 96.5 641.66 98.5 644.2 100.5 646.76 102.5 649.33 104.5 651.92 106.5 654.52 108.5 657.14 110.5 659.78 112.5 662.43 114.5 665.1 116.5 667.78 118.5 670.48 120.5 673.2 122.5 675.93 124.5 678.68 126.5 681.44 128.5 684.22 130.5 687.02 132.5 689.83 134.5 692.66 136.5 695.51 138.5 697.5 139.89M647.44 74.5 649.91 76.5 652.39 78.5 654.89 80.5 657.4 82.5 659.93 84.5 662.48 86.5 665.04 88.5 667.62 90.5 670.21 92.5 672.82 94.5 675.44 96.5 678.08 98.5 680.74 100.5 683.41 102.5 686.1 104.5 688.8 106.5 691.52 108.5 694.26 110.5 697.01 112.5 697.5 112.86M682.51 74.5 685.09 76.5 687.68 78.5 690.29 80.5 692.92 82.5 695.56 84.5 697.5 85.96" stroke="#00ff00" stroke-width="1" fill="none" shape-rendering="crispEdges"/>
<path d="M239.2 503.1 237.28 501.53 235.36 499.97 233.44 498.4M227.65 493.68 225.71 492.1 223.78 490.52 221.85 488.94M216.04 484.18 214.1 482.59M299.7 503.1 297.88 501.53 296.06 499.97 294.23 498.4M288.69 493.68 286.83 492.1 284.96 490.52 283.09 488.94M277.42 484.18 275.52 482.59 273.61 481 271.7 479.41M265.94 474.61 264 473 262.07 471.4 260.14 469.8M254.31 464.96 252.36 463.34 250.41 461.73 248.46 460.11M242.6 455.24 240.64 453.61 238.69 451.98M354.23 503.1 352.62 501.53 351 499.97 349.38 498.4M344.41 493.68 342.72 492.1 341.03 490.52 339.32 488.94M334.14 484.18 332.38 482.59 330.62 481 328.85 479.41M323.46 474.61 321.64 473 319.82 471.4 317.98 469.8M312.43 464.96 310.56 463.34 308.68 461.73 306.8 460.11M301.1 455.24 299.18 453.61 297.27 451.98 295.35 450.35M289.54 445.43 287.6 443.79 285.65 442.15 283.7 440.5M277.83 435.56 275.86 433.9 273.9 432.24 271.93 430.59M266.02 425.6 264.05 423.93M401.75 503.1 400.41 501.53 399.05 499.97 397.68 498.4M393.47 493.68 392.04 492.1 390.59 490.52 389.13 488.94M384.67 484.18 383.15 482.59 381.61 481 380.07 479.41M375.34 474.61 373.73 473 372.12 471.4 370.49 469.8M365.51 464.96 363.82 463.34 362.12 461.73 360.41 460.11M355.2 455.24 353.44 453.61 351.67 451.98 349.89 450.35M344.47 445.43 342.64 443.79 340.8 442.15 338.95 440.5M333.35 435.56 331.46 433.9 329.57 432.24 327.67 430.59M321.93 425.6 320 423.93 318.06 422.26 316.12 420.59M310.27 415.56 308.31 413.88 306.34 412.19 304.38 410.51M298.45 405.44 296.47 403.75 294.49 402.05 292.51 400.35M442.32 503.1 441.23 501.53 440.13 499.97 439.03 498.4M435.61 493.68 434.45 492.1 433.27 490.52 432.07 488.94M428.4 484.18 427.15 482.59 425.88 481 424.6 479.41M420.66 474.61 419.32 473 417.96 471.4 416.59 469.8M412.38 464.96 410.94 463.34 409.49 461.73 408.03 460.11M403.54 455.24 402.01 453.61 400.47 451.98 398.91 450.35M394.15 445.43 392.53 443.79 390.89 442.15 389.25 440.5M384.22 435.56 382.52 433.9 380.8 432.24 379.07 430.59M373.8 425.6 372.02 423.93 370.22 422.26 368.42 420.59M362.93 415.56 361.08 413.88 359.22 412.19 357.35 410.51M351.68 405.44 349.77 403.75 347.85 402.05 345.93 400.35M340.12 395.25 338.16 393.54 336.21 391.83 334.25 390.12M328.33 384.97 326.35 383.24 324.36 381.52 322.38 379.8M316.4 374.61 314.4 372.87 312.4 371.13 310.41 369.4M476.72 503.1 475.87 501.53 475 499.97 474.13 498.4M471.43 493.68 470.5 492.1 469.57 490.52 468.62 488.94M465.7 484.18 464.69 482.59 463.68 481 462.66 479.41M459.49 474.61 458.41 473 457.31 471.4 456.21 469.8M452.79 464.96 451.62 463.34 450.43 461.73 449.23 460.11M445.54 455.24 444.28 453.61 443 451.98 441.71 450.35M437.73 445.43 436.37 443.79 435 442.15 433.61 440.5M429.34 435.56 427.88 433.9 426.41 432.24 424.92 430.59M420.36 425.6 418.81 423.93 417.24 422.26 415.66 420.59M410.81 415.56 409.16 413.88 407.5 412.19 405.82 410.51M400.7 405.44 398.96 403.75 397.21 402.05 395.45 400.35M390.08 395.25 388.26 393.54 386.44 391.83 384.6 390.12M379.01 384.97 377.13 383.24 375.23 381.52 373.33 379.8M367.57 374.61 365.63 372.87 363.69 371.13 361.74 369.4M355.84 364.17 353.86 362.41 351.88 360.66 349.89 358.91M343.9 353.64 341.9 351.88 339.9 350.11 337.89 348.35M506.01 503.1 505.34 501.53 504.67 499.97 503.99 498.4M501.89 493.68 501.17 492.1 500.44 490.52 499.7 488.94M497.42 484.18 496.63 482.59 495.84 481 495.04 479.41M492.55 474.61 491.7 473 490.84 471.4 489.97 469.8M487.26 464.96 486.34 463.34 485.4 461.73 484.44 460.11M481.5 455.24 480.49 453.61 479.47 451.98 478.44 450.35M475.24 445.43 474.14 443.79 473.03 442.15 471.9 440.5M468.43 435.56 467.24 433.9 466.03 432.24 464.81 430.59M461.04 425.6 459.75 423.93 458.45 422.26 457.13 420.59M453.06 415.56 451.67 413.88 450.26 412.19 448.83 410.51M444.46 405.44 442.96 403.75 441.45 402.05 439.92 400.35M435.24 395.25 433.64 393.54 432.03 391.83 430.4 390.12M425.42 384.97 423.73 383.24 422.02 381.52 420.3 379.8M415.04 374.61 413.26 372.87 411.46 371.13 409.65 369.4M404.15 364.17 402.29 362.41 400.42 360.66 398.54 358.91M392.83 353.64 390.9 351.88 388.97 350.11 387.03 348.35M381.15 343.03 379.18 341.25 377.2 339.47 375.22 337.7M369.23 332.34 367.22 330.55 365.22 328.75 363.21 326.96M357.16 321.56 355.13 319.75 353.11 317.95M531.16 503.1 530.65 501.53 530.14 499.97 529.61 498.4M528 493.68 527.44 492.1 526.88 490.52 526.31 488.94M524.55 484.18 523.95 482.59 523.34 481 522.72 479.41M520.8 474.61 520.14 473 519.47 471.4 518.79 469.8M516.69 464.96 515.97 463.34 515.24 461.73 514.5 460.11M512.21 455.24 511.42 453.61 510.62 451.98 509.81 450.35M507.3 445.43 506.44 443.79 505.56 442.15 504.67 440.5M501.93 435.56 500.98 433.9 500.02 432.24 499.05 430.59M496.05 425.6 495.01 423.93 493.96 422.26 492.9 420.59M489.62 415.56 488.49 413.88 487.34 412.19 486.18 410.51M482.6 405.44 481.37 403.75 480.12 402.05 478.86 400.35M474.96 395.25 473.63 393.54 472.28 391.83 470.91 390.12M466.69 384.97 465.24 383.24 463.78 381.52 462.31 379.8M457.76 374.61 456.21 372.87 454.64 371.13 453.06 369.4M448.2 364.17 446.54 362.41 444.87 360.66 443.18 358.91M438.02 353.64 436.27 351.88 434.5 350.11 432.72 348.35M427.29 343.03 425.45 341.25 423.6 339.47 421.73 337.7M416.07 332.34 414.16 330.55 412.23 328.75 410.3 326.96M404.45 321.56 402.48 319.75 400.51 317.95 398.53 316.14M392.54 310.7 390.53 308.88 388.52 307.05 386.51 305.23M380.44 299.75 378.4 297.91 376.37 296.08 374.34 294.24M553 503.1 552.61 501.53 552.22 499.97 551.82 498.4M550.6 493.68 550.18 492.1 549.75 490.52 549.32 488.94M547.98 484.18 547.52 482.59 547.06 481 546.58 479.41M545.12 474.61 544.62 473 544.11 471.4 543.59 469.8M541.99 464.96 541.44 463.34 540.88 461.73 540.31 460.11M538.55 455.24 537.95 453.61 537.33 451.98 536.71 450.35M534.78 445.43 534.11 443.79 533.43 442.15 532.75 440.5M530.62 435.56 529.88 433.9 529.14 432.24 528.38 430.59M526.04 425.6 525.23 423.93 524.41 422.26 523.58 420.59M521 415.56 520.11 413.88 519.21 412.19 518.29 410.51M515.45 405.44 514.47 403.75 513.47 402.05 512.46 400.35M509.34 395.25 508.26 393.54 507.17 391.83 506.06 390.12M502.63 384.97 501.45 383.24 500.26 381.52 499.04 379.8M495.29 374.61 494 372.87 492.7 371.13 491.37 369.4M487.29 364.17 485.88 362.41 484.47 360.66 483.03 358.91M478.6 353.64 477.09 351.88 475.55 350.11 474 348.35M469.24 343.03 467.61 341.25 465.97 339.47 464.31 337.7M459.23 332.34 457.5 330.55 455.75 328.75 453.99 326.96M448.61 321.56 446.79 319.75 444.95 317.95 443.1 316.14M437.47 310.7 435.56 308.88 433.65 307.05 431.73 305.23M425.89 299.75 423.92 297.91 421.94 296.08 419.96 294.24M413.97 288.71 411.96 286.86 409.95 285.01 407.93 283.16M401.84 277.59 399.8 275.72 397.76 273.86 395.73 271.99M572.16 503.1 571.87 501.53 571.58 499.97 571.29 498.4M570.38 493.68 570.06 492.1 569.74 490.52 569.42 488.94M568.43 484.18 568.08 482.59 567.73 481 567.38 479.41M566.29 474.61 565.91 473 565.53 471.4 565.14 469.8M563.94 464.96 563.52 463.34 563.1 461.73 562.68 460.11M561.35 455.24 560.89 453.61 560.43 451.98 559.96 450.35M558.5 445.43 557.99 443.79 557.48 442.15 556.96 440.5M555.34 435.56 554.78 433.9 554.21 432.24 553.64 430.59M551.84 425.6 551.23 423.93 550.6 422.26 549.96 420.59M547.97 415.56 547.28 413.88 546.59 412.19 545.88 410.51M543.68 405.44 542.92 403.75 542.14 402.05 541.36 400.35M538.91 395.25 538.07 393.54 537.21 391.83 536.34 390.12M533.64 384.97 532.7 383.24 531.75 381.52 530.79 379.8M527.79 374.61 526.76 372.87 525.71 371.13 524.65 369.4M521.34 364.17 520.2 362.41 519.05 360.66 517.87 358.91M514.23 353.64 512.98 351.88 511.71 350.11 510.42 348.35M506.44 343.03 505.07 341.25 503.68 339.47 502.28 337.7M497.94 332.34 496.45 330.55 494.94 328.75 493.42 326.96M488.72 321.56 487.12 319.75 485.5 317.95 483.86 316.14M478.82 310.7 477.11 308.88 475.38 307.05 473.63 305.23M468.28 299.75 466.47 297.91 464.64 296.08 462.8 294.24M457.18 288.71 455.27 286.86 453.36 285.01 451.44 283.16M445.6 277.59 443.63 275.72 441.65 273.86 439.67 271.99M433.67 266.37 431.65 264.49 429.63 262.61 427.6 260.73M421.49 255.07 419.45 253.18 417.4 251.28 415.36 249.39M589.15 503.1 588.94 501.53 588.73 499.97 588.52 498.4M587.86 493.68 587.63 492.1 587.4 490.52 587.17 488.94M586.45 484.18 586.2 482.59 585.95 481 585.69 479.41M584.89 474.61 584.62 473 584.34 471.4 584.06 469.8M583.18 464.96 582.88 463.34 582.57 461.73 582.25 460.11M581.28 455.24 580.94 453.61 580.6 451.98 580.25 450.35M579.17 445.43 578.8 443.79 578.42 442.15 578.03 440.5M576.83 435.56 576.41 433.9 575.99 432.24 575.56 430.59M574.22 425.6 573.75 423.93 573.28 422.26 572.8 420.59M571.3 415.56 570.79 413.88 570.26 412.19 569.72 410.51M568.05 405.44 567.47 403.75 566.88 402.05 566.29 400.35M564.42 395.25 563.77 393.54 563.12 391.83 562.45 390.12M560.36 384.97 559.64 383.24 558.91 381.52 558.16 379.8M555.83 374.61 555.03 372.87 554.21 371.13 553.37 369.4M550.78 364.17 549.88 362.41 548.97 360.66 548.04 358.91M545.14 353.64 544.15 351.88 543.13 350.11 542.1 348.35M538.88 343.03 537.78 341.25 536.65 339.47 535.5 337.7M531.95 332.34 530.72 330.55 529.48 328.75 528.22 326.96M524.3 321.56 522.96 319.75 521.59 317.95 520.2 316.14M515.92 310.7 514.45 308.88 512.96 307.05 511.45 305.23M506.79 299.75 505.2 297.91 503.59 296.08 501.96 294.24M496.95 288.71 495.24 286.86 493.51 285.01 491.77 283.16M486.43 277.59 484.61 275.72 482.79 273.86 480.94 271.99M475.32 266.37 473.41 264.49 471.5 262.61 469.57 260.73M463.71 255.07 461.74 253.18 459.75 251.28 457.76 249.39M451.74 243.68 449.71 241.77 447.68 239.86 445.65 237.95M439.51 232.2 437.46 230.27 435.4 228.35 433.35 226.42M604.34 503.1 604.2 501.53 604.05 499.97 603.91 498.4M603.46 493.68 603.3 492.1 603.15 490.52 602.99 488.94M602.49 484.18 602.32 482.59 602.14 481 601.97 479.41M601.41 474.61 601.22 473 601.03 471.4 600.83 469.8M600.21 464.96 600 463.34 599.78 461.73 599.56 460.11M598.87 455.24 598.63 453.61 598.39 451.98 598.14 450.35M597.37 445.43 597.1 443.79 596.83 442.15 596.55 440.5M595.69 435.56 595.39 433.9 595.08 432.24 594.77 430.59M593.79 425.6 593.46 423.93 593.11 422.26 592.76 420.59M591.66 415.56 591.28 413.88 590.9 412.19 590.5 410.51M589.27 405.44 588.84 403.75 588.4 402.05 587.96 400.35M586.57 395.25 586.08 393.54 585.59 391.83 585.09 390.12M583.52 384.97 582.98 383.24 582.42 381.52 581.86 379.8M580.09 374.61 579.48 372.87 578.85 371.13 578.22 369.4M576.23 364.17 575.54 362.41 574.84 360.66 574.12 358.91M571.88 353.64 571.11 351.88 570.31 350.11 569.51 348.35M567 343.03 566.13 341.25 565.24 339.47 564.34 337.7M561.52 332.34 560.54 330.55 559.55 328.75 558.54 326.96M555.39 321.56 554.3 319.75 553.2 317.95 552.07 316.14M548.57 310.7 547.36 308.88 546.13 307.05 544.88 305.23M541 299.75 539.67 297.91 538.31 296.08 536.93 294.24M532.67 288.71 531.21 286.86 529.72 285.01 528.22 283.16M523.57 277.59 521.98 275.72 520.36 273.86 518.73 271.99M513.71 266.37 512 264.49 510.27 262.61 508.52 260.73M503.16 255.07 501.34 253.18 499.5 251.28 497.65 249.39M492 243.68 490.08 241.77 488.15 239.86 486.22 237.95M480.33 232.2 478.34 230.27 476.34 228.35 474.34 226.42M468.28 220.63 466.24 218.69 464.2 216.75 462.16 214.8M455.99 208.96 453.93 207.01 451.86 205.05M618.04 503.1 617.95 501.53 617.87 499.97 617.78 498.4M617.5 493.68 617.4 492.1 617.3 490.52 617.2 488.94M616.89 484.18 616.78 482.59 616.67 481 616.56 479.41M616.2 474.61 616.08 473 615.96 471.4 615.83 469.8M615.43 464.96 615.29 463.34 615.15 461.73 615 460.11M614.55 455.24 614.39 453.61 614.23 451.98 614.06 450.35M613.54 445.43 613.36 443.79 613.18 442.15 612.99 440.5M612.4 435.56 612.19 433.9 611.98 432.24 611.77 430.59M611.09 425.6 610.86 423.93 610.62 422.26 610.37 420.59M609.6 415.56 609.33 413.88 609.06 412.19 608.78 410.51M607.9 405.44 607.59 403.75 607.28 402.05 606.96 400.35M605.96 395.25 605.61 393.54 605.25 391.83 604.89 390.12M603.75 384.97 603.35 383.24 602.94 381.52 602.53 379.8M601.23 374.61 600.77 372.87 600.31 371.13 599.84 369.4M598.35 364.17 597.84 362.41 597.31 360.66 596.77 358.91M595.09 353.64 594.5 351.88 593.9 350.11 593.29 348.35M591.37 343.03 590.71 341.25 590.03 339.47 589.34 337.7M587.16 332.34 586.41 330.55 585.64 328.75 584.85 326.96M582.4 321.56 581.54 319.75 580.67 317.95 579.79 316.14M577.02 310.7 576.06 308.88 575.08 307.05 574.08 305.23M570.96 299.75 569.88 297.91 568.79 296.08 567.67 294.24M564.18 288.71 562.98 286.86 561.75 285.01 560.51 283.16M556.63 277.59 555.3 275.72 553.94 273.86 552.56 271.99M548.29 266.37 546.81 264.49 545.32 262.61 543.81 260.73M539.14 255.07 537.53 253.18 535.91 251.28 534.27 249.39M529.21 243.68 527.48 241.77 525.73 239.86 523.97 237.95M518.56 232.2 516.72 230.27 514.87 228.35 513 226.42M507.3 220.63 505.36 218.69 503.42 216.75 501.47 214.8M495.52 208.96 493.52 207.01 491.51 205.05 489.49 203.09M483.39 197.2 481.34 195.23 479.28 193.26 477.23 191.29M630.48 503.1 630.44 501.53 630.4 499.97 630.36 498.4M630.22 493.68 630.18 492.1 630.13 490.52 630.08 488.94M629.92 484.18 629.86 482.59 629.8 481 629.75 479.41M629.56 474.61 629.49 473 629.42 471.4 629.35 469.8M629.13 464.96 629.05 463.34 628.97 461.73 628.89 460.11M628.63 455.24 628.54 453.61 628.44 451.98 628.34 450.35M628.04 445.43 627.93 443.79 627.81 442.15 627.7 440.5M627.34 435.56 627.21 433.9 627.08 432.24 626.94 430.59M626.51 425.6 626.36 423.93 626.21 422.26 626.05 420.59M625.55 415.56 625.37 413.88 625.19 412.19 625 410.51M624.42 405.44 624.21 403.75 624 402.05 623.78 400.35M623.1 395.25 622.86 393.54 622.62 391.83 622.36 390.12M621.57 384.97 621.29 383.24 621.01 381.52 620.71 379.8M619.79 374.61 619.47 372.87 619.14 371.13 618.8 369.4M617.74 364.17 617.36 362.41 616.98 360.66 616.59 358.91M615.36 353.64 614.93 351.88 614.49 350.11 614.04 348.35M612.63 343.03 612.13 341.25 611.63 339.47 611.11 337.7M609.49 332.34 608.92 330.55 608.34 328.75 607.74 326.96M605.88 321.56 605.23 319.75 604.57 317.95 603.89 316.14M601.76 310.7 601.02 308.88 600.26 307.05 599.48 305.23M597.06 299.75 596.21 297.91 595.35 296.08 594.47 294.24M591.72 288.71 590.76 286.86 589.78 285.01 588.79 283.16M585.67 277.59 584.59 275.72 583.49 273.86 582.37 271.99M578.87 266.37 577.66 264.49 576.42 262.61 575.17 260.73M571.26 255.07 569.91 253.18 568.54 251.28 567.15 249.39M562.82 243.68 561.33 241.77 559.82 239.86 558.29 237.95M553.56 232.2 551.93 230.27 550.28 228.35 548.62 226.42M543.49 220.63 541.74 218.69 539.97 216.75 538.18 214.8M532.7 208.96 530.83 207.01 528.95 205.05 527.06 203.09M521.28 197.2 519.33 195.23 517.36 193.26 515.38 191.29M509.38 185.35 507.36 183.37 505.33 181.38 503.29 179.39M497.13 173.41 495.07 171.4 493 169.4 490.93 167.4M641.86 503.1 641.86 501.53 641.85 499.97 641.85 498.4M641.84 493.68 641.83 492.1 641.82 490.52 641.81 488.94M641.78 484.18 641.77 482.59 641.76 481 641.75 479.41M641.7 474.61 641.68 473 641.66 471.4 641.64 469.8M641.57 464.96 641.54 463.34 641.51 461.73 641.48 460.11M641.38 455.24 641.34 453.61 641.3 451.98 641.26 450.35M641.13 445.43 641.08 443.79 641.02 442.15 640.97 440.5M640.79 435.56 640.73 433.9 640.66 432.24 640.6 430.59M640.37 425.6 640.29 423.93 640.21 422.26 640.12 420.59M639.84 415.56 639.74 413.88 639.64 412.19 639.53 410.51M639.18 405.44 639.06 403.75 638.93 402.05 638.8 400.35M638.38 395.25 638.23 393.54 638.08 391.83 637.92 390.12M637.41 384.97 637.23 383.24 637.05 381.52 636.86 379.8M636.25 374.61 636.03 372.87 635.81 371.13 635.59 369.4M634.86 364.17 634.61 362.41 634.35 360.66 634.08 358.91M633.23 353.64 632.93 351.88 632.62 350.11 632.3 348.35M631.3 343.03 630.95 341.25 630.59 339.47 630.21 337.7M629.04 332.34 628.63 330.55 628.21 328.75 627.78 326.96M626.41 321.56 625.93 319.75 625.44 317.95 624.94 316.14M623.35 310.7 622.79 308.88 622.23 307.05 621.64 305.23M619.81 299.75 619.17 297.91 618.51 296.08 617.84 294.24M615.72 288.71 614.99 286.86 614.23 285.01 613.46 283.16M611.03 277.59 610.19 275.72 609.32 273.86 608.44 271.99M605.67 266.37 604.7 264.49 603.72 262.61 602.71 260.73M599.57 255.07 598.47 253.18 597.36 251.28 596.22 249.39M592.67 243.68 591.44 241.77 590.18 239.86 588.91 237.95M584.93 232.2 583.56 230.27 582.16 228.35 580.74 226.42M576.33 220.63 574.81 218.69 573.27 216.75 571.71 214.8M566.87 208.96 565.21 207.01 563.53 205.05 561.84 203.09M556.6 197.2 554.82 195.23 553.01 193.26 551.19 191.29M545.61 185.35 543.71 183.37 541.8 181.38 539.88 179.39M534.01 173.41 532.02 171.4 530.03 169.4 528.03 167.4M521.95 161.37 519.9 159.35 517.85 157.33 515.8 155.31M509.59 149.23 507.51 147.2 505.43 145.16M652.32 503.1 652.35 501.53 652.38 499.97 652.41 498.4M652.5 493.68 652.52 492.1 652.55 490.52 652.58 488.94M652.66 484.18 652.68 482.59 652.71 481 652.73 479.41M652.8 474.61 652.82 473 652.84 471.4 652.86 469.8M652.92 464.96 652.93 463.34 652.95 461.73 652.96 460.11M653 455.24 653.01 453.61 653.01 451.98 653.02 450.35M653.03 445.43 653.03 443.79 653.03 442.15 653.03 440.5M653.01 435.56 653 433.9 652.99 432.24 652.97 430.59M652.92 425.6 652.9 423.93 652.87 422.26 652.85 420.59M652.75 415.56 652.72 413.88 652.68 412.19 652.63 410.51M652.49 405.44 652.43 403.75 652.38 402.05 652.32 400.35M652.11 395.25 652.04 393.54 651.96 391.83 651.88 390.12M651.61 384.97 651.51 383.24 651.41 381.52 651.3 379.8M650.96 374.61 650.83 372.87 650.7 371.13 650.56 369.4M650.13 364.17 649.97 362.41 649.81 360.66 649.64 358.91M649.1 353.64 648.9 351.88 648.7 350.11 648.5 348.35M647.84 343.03 647.6 341.25 647.36 339.47 647.11 337.7M646.31 332.34 646.03 330.55 645.74 328.75 645.44 326.96M644.49 321.56 644.15 319.75 643.8 317.95 643.44 316.14M642.31 310.7 641.91 308.88 641.5 307.05 641.08 305.23M639.74 299.75 639.27 297.91 638.79 296.08 638.29 294.24M636.73 288.71 636.17 286.86 635.61 285.01 635.03 283.16M633.2 277.59 632.56 275.72 631.9 273.86 631.23 271.99M629.1 266.37 628.36 264.49 627.59 262.61 626.81 260.73M624.36 255.07 623.5 253.18 622.62 251.28 621.73 249.39M618.91 243.68 617.92 241.77 616.92 239.86 615.89 237.95M612.68 232.2 611.56 230.27 610.41 228.35 609.25 226.42M605.61 220.63 604.34 218.69 603.06 216.75 601.75 214.8M597.66 208.96 596.25 207.01 594.81 205.05 593.35 203.09M588.82 197.2 587.26 195.23 585.67 193.26 584.07 191.29M579.1 185.35 577.4 183.37 575.68 181.38 573.93 179.39M568.57 173.41 566.74 171.4 564.89 169.4 563.03 167.4M557.33 161.37 555.39 159.35 553.44 157.33 551.48 155.31M545.51 149.23 543.5 147.2 541.47 145.16 539.44 143.13M533.29 137 531.22 134.95 529.15 132.9 527.07 130.85M661.98 503.1 662.04 501.53 662.1 499.97 662.16 498.4M662.33 493.68 662.39 492.1 662.45 490.52 662.5 488.94M662.68 484.18 662.73 482.59 662.79 481 662.85 479.41M663.02 474.61 663.07 473 663.13 471.4 663.18 469.8M663.34 464.96 663.39 463.34 663.45 461.73 663.5 460.11M663.65 455.24 663.7 453.61 663.74 451.98 663.79 450.35M663.93 445.43 663.97 443.79 664.01 442.15 664.05 440.5M664.17 435.56 664.2 433.9 664.24 432.24 664.27 430.59M664.36 425.6 664.39 423.93 664.41 422.26 664.44 420.59M664.5 415.56 664.51 413.88 664.53 412.19 664.54 410.51M664.56 405.44 664.57 403.75 664.57 402.05 664.57 400.35M664.55 395.25 664.54 393.54 664.52 391.83 664.5 390.12M664.43 384.97 664.4 383.24 664.37 381.52 664.33 379.8M664.2 374.61 664.15 372.87 664.1 371.13 664.04 369.4M663.83 364.17 663.76 362.41 663.68 360.66 663.59 358.91M663.31 353.64 663.21 351.88 663.1 350.11 662.98 348.35M662.61 343.03 662.47 341.25 662.32 339.47 662.18 337.7M661.69 332.34 661.51 330.55 661.33 328.75 661.14 326.96M660.53 321.56 660.31 319.75 660.08 317.95 659.85 316.14M659.09 310.7 658.82 308.88 658.54 307.05 658.25 305.23M657.33 299.75 657 297.91 656.67 296.08 656.32 294.24M655.21 288.71 654.81 286.86 654.41 285.01 653.99 283.16M652.66 277.59 652.19 275.72 651.71 273.86 651.22 271.99M649.64 266.37 649.09 264.49 648.52 262.61 647.93 260.73M646.08 255.07 645.43 253.18 644.76 251.28 644.07 249.39M641.91 243.68 641.15 241.77 640.37 239.86 639.57 237.95M637.05 232.2 636.17 230.27 635.27 228.35 634.35 226.42M631.44 220.63 630.43 218.69 629.39 216.75 628.33 214.8M625 208.96 623.85 207.01 622.66 205.05 621.46 203.09M617.69 197.2 616.38 195.23 615.04 193.26 613.68 191.29M609.45 185.35 607.99 183.37 606.5 181.38 604.99 179.39M600.29 173.41 598.68 171.4 597.04 169.4 595.38 167.4M590.25 161.37 588.49 159.35 586.72 157.33 584.92 155.31M579.4 149.23 577.52 147.2 575.63 145.16 573.72 143.13M567.88 137 565.9 134.95 563.91 132.9 561.91 130.85M555.84 124.67 553.79 122.6 551.73 120.54 549.67 118.47M543.45 112.24 541.36 110.16 539.27 108.08M670.95 503.1 671.03 501.53 671.11 499.97 671.2 498.4M671.45 493.68 671.53 492.1 671.61 490.52 671.7 488.94M671.95 484.18 672.03 482.59 672.12 481 672.2 479.41M672.46 474.61 672.54 473 672.63 471.4 672.71 469.8M672.97 464.96 673.05 463.34 673.13 461.73 673.22 460.11M673.46 455.24 673.55 453.61 673.63 451.98 673.71 450.35M673.95 445.43 674.03 443.79 674.11 442.15 674.18 440.5M674.41 435.56 674.49 433.9 674.56 432.24 674.63 430.59M674.85 425.6 674.92 423.93 674.98 422.26 675.05 420.59M675.24 415.56 675.3 413.88 675.36 412.19 675.42 410.51M675.59 405.44 675.64 403.75 675.69 402.05 675.74 400.35M675.88 395.25 675.92 393.54 675.96 391.83 675.99 390.12M676.09 384.97 676.12 383.24 676.14 381.52 676.16 379.8M676.22 374.61 676.23 372.87 676.24 371.13 676.24 369.4M676.24 364.17 676.23 362.41 676.22 360.66 676.2 358.91M676.14 353.64 676.11 351.88 676.07 350.11 676.03 348.35M675.89 343.03 675.84 341.25 675.78 339.47 675.71 337.7M675.48 332.34 675.4 330.55 675.31 328.75 675.21 326.96M674.88 321.56 674.76 319.75 674.63 317.95 674.5 316.14M674.05 310.7 673.89 308.88 673.72 307.05 673.55 305.23M672.97 299.75 672.76 297.91 672.54 296.08 672.32 294.24M671.59 288.71 671.33 286.86 671.05 285.01 670.77 283.16M669.87 277.59 669.54 275.72 669.21 273.86 668.86 271.99M667.75 266.37 667.36 264.49 666.95 262.61 666.53 260.73M665.19 255.07 664.71 253.18 664.22 251.28 663.72 249.39M662.11 243.68 661.55 241.77 660.96 239.86 660.36 237.95M658.46 232.2 657.79 230.27 657.1 228.35 656.39 226.42M654.15 220.63 653.36 218.69 652.55 216.75 651.73 214.8M649.11 208.96 648.19 207.01 647.25 205.05 646.29 203.09M643.26 197.2 642.2 195.23 641.12 193.26 640.01 191.29M636.54 185.35 635.33 183.37 634.09 181.38 632.83 179.39M628.89 173.41 627.52 171.4 626.12 169.4 624.7 167.4M620.28 161.37 618.75 159.35 617.2 157.33 615.62 155.31M610.73 149.23 609.05 147.2 607.35 145.16 605.62 143.13M600.31 137 598.49 134.95 596.65 132.9 594.79 130.85M589.11 124.67 587.17 122.6 585.22 120.54 583.26 118.47M577.28 112.24 575.26 110.16 573.23 108.08 571.19 105.99M565.02 99.72 562.94 97.62 560.86 95.52 558.78 93.42M679.31 503.1 679.41 501.53 679.51 499.97 679.62 498.4M679.93 493.68 680.04 492.1 680.14 490.52 680.25 488.94M680.57 484.18 680.68 482.59 680.79 481 680.9 479.41M681.23 474.61 681.34 473 681.45 471.4 681.56 469.8M681.89 464.96 682 463.34 682.11 461.73 682.22 460.11M682.55 455.24 682.67 453.61 682.78 451.98 682.89 450.35M683.22 445.43 683.33 443.79 683.44 442.15 683.55 440.5M683.87 435.56 683.98 433.9 684.09 432.24 684.2 430.59M684.51 425.6 684.62 423.93 684.72 422.26 684.83 420.59M685.13 415.56 685.23 413.88 685.33 412.19 685.43 410.51M685.72 405.44 685.81 403.75 685.9 402.05 685.99 400.35M686.26 395.25 686.35 393.54 686.43 391.83 686.51 390.12M686.75 384.97 686.83 383.24 686.9 381.52 686.98 379.8M687.18 374.61 687.25 372.87 687.31 371.13 687.37 369.4M687.53 364.17 687.58 362.41 687.63 360.66 687.67 358.91M687.79 353.64 687.82 351.88 687.85 350.11 687.88 348.35M687.94 343.03 687.95 341.25 687.96 339.47 687.96 337.7M687.95 332.34 687.94 330.55 687.92 328.75 687.9 326.96M687.82 321.56 687.78 319.75 687.73 317.95 687.68 316.14M687.5 310.7 687.43 308.88 687.35 307.05 687.27 305.23M686.98 299.75 686.87 297.91 686.75 296.08 686.63 294.24M686.22 288.71 686.07 286.86 685.91 285.01 685.74 283.16M685.18 277.59 684.98 275.72 684.77 273.86 684.55 271.99M683.83 266.37 683.56 264.49 683.29 262.61 683.01 260.73M682.1 255.07 681.77 253.18 681.43 251.28 681.08 249.39M679.95 243.68 679.55 241.77 679.13 239.86 678.7 237.95M677.32 232.2 676.83 230.27 676.33 228.35 675.8 226.42M674.14 220.63 673.55 218.69 672.94 216.75 672.32 214.8M670.33 208.96 669.63 207.01 668.91 205.05 668.16 203.09M665.81 197.2 664.98 195.23 664.14 193.26 663.26 191.29M660.51 185.35 659.54 183.37 658.55 181.38 657.54 179.39M654.34 173.41 653.22 171.4 652.08 169.4 650.91 167.4M647.24 161.37 645.96 159.35 644.66 157.33 643.33 155.31M639.17 149.23 637.73 147.2 636.26 145.16 634.76 143.13M630.11 137 628.51 134.95 626.88 132.9 625.23 130.85M620.11 124.67 618.36 122.6 616.58 120.54 614.78 118.47M609.26 112.24 607.37 110.16 605.47 108.08 603.55 105.99M597.69 99.72 595.7 97.62 593.7 95.52 591.68 93.42M585.57 87.09 583.51 84.98 581.44 82.86 579.37 80.74M573.11 74.37 571.01 72.23M687.12 503.1 687.24 501.53 687.36 499.97 687.49 498.4M687.86 493.68 687.98 492.1 688.11 490.52 688.23 488.94M688.62 484.18 688.75 482.59 688.88 481 689.01 479.41M689.4 474.61 689.53 473 689.66 471.4 689.8 469.8M690.2 464.96 690.33 463.34 690.47 461.73 690.6 460.11M691.01 455.24 691.14 453.61 691.28 451.98 691.42 450.35M691.83 445.43 691.96 443.79 692.1 442.15 692.24 440.5M692.65 435.56 692.78 433.9 692.92 432.24 693.06 430.59M693.47 425.6 693.6 423.93 693.74 422.26 693.87 420.59M694.27 415.56 694.41 413.88 694.54 412.19 694.67 410.51M695.06 405.44 695.19 403.75 695.32 402.05 695.45 400.35M695.83 395.25 695.96 393.54 696.08 391.83 696.2 390.12M696.56 384.97 696.68 383.24 696.8 381.52 696.91 379.8M697.25 374.61 697.36 372.87 697.47 371.13 697.57 369.4M697.18 255.07 696.97 253.18 696.76 251.28 696.54 249.39M695.81 243.68 695.54 241.77 695.27 239.86 694.98 237.95M694.04 232.2 693.7 230.27 693.35 228.35 692.99 226.42M691.81 220.63 691.39 218.69 690.96 216.75 690.51 214.8M689.06 208.96 688.54 207.01 688.01 205.05 687.46 203.09M685.7 197.2 685.08 195.23 684.44 193.26 683.78 191.29M681.67 185.35 680.92 183.37 680.15 181.38 679.37 179.39M676.86 173.41 675.98 171.4 675.07 169.4 674.15 167.4M671.21 161.37 670.18 159.35 669.12 157.33 668.04 155.31M664.63 149.23 663.43 147.2 662.22 145.16 660.97 143.13M657.06 137 655.7 134.95 654.31 132.9 652.9 130.85M648.48 124.67 646.95 122.6 645.4 120.54 643.82 118.47M638.91 112.24 637.22 110.16 635.5 108.08 633.76 105.99M628.4 99.72 626.57 97.62 624.71 95.52 622.84 93.42M617.1 87.09 615.14 84.98 613.18 82.86 611.2 80.74M605.16 74.37 603.12 72.23 601.07 70.1 599.02 67.97M694.45 503.1 694.59 501.53 694.73 499.97 694.87 498.4M695.29 493.68 695.43 492.1 695.57 490.52 695.72 488.94M696.15 484.18 696.3 482.59 696.45 481 696.6 479.41M697.04 474.61 697.2 473 697.35 471.4 697.5 469.8M696.77 173.41 696.1 171.4 695.41 169.4 694.7 167.4M692.42 161.37 691.62 159.35 690.79 157.33 689.94 155.31M687.24 149.23 686.29 147.2 685.32 145.16 684.31 143.13M681.14 137 680.03 134.95 678.89 132.9 677.73 130.85M674.05 124.67 672.77 122.6 671.46 120.54 670.12 118.47M665.93 112.24 664.47 110.16 662.99 108.08 661.47 105.99M656.76 99.72 655.14 97.62 653.48 95.52 651.81 93.42M646.61 87.09 644.83 84.98 643.02 82.86 641.2 80.74M635.58 74.37 633.66 72.23 631.73 70.1 629.78 67.97M696.88 124.67 695.84 122.6 694.78 120.54 693.69 118.47M690.23 112.24 689.02 110.16 687.79 108.08 686.52 105.99M682.54 99.72 681.15 97.62 679.73 95.52 678.28 93.42M673.76 87.09 672.2 84.98 670.6 82.86 668.98 80.74M663.95 74.37 662.22 72.23 660.46 70.1 658.68 67.97" stroke="#00ff00" stroke-width="1" fill="none" shape-rendering="crispEdges"/>
<path d="M150.26 500.62 150.37 500.5 153.79 496.5 155.46 494.54M160.86 488.24 164.07 484.5 166.07 482.17M171.48 475.87 174.37 472.5 176.69 469.8M182.11 463.52 184.71 460.5 187.33 457.46M192.75 451.17 195.06 448.5 197.99 445.12M203.42 438.84 205.45 436.5 208.66 432.8M214.09 426.53 215.85 424.5 219.33 420.5 219.34 420.49M224.79 414.22 226.29 412.5 229.77 408.5 230.04 408.19M235.49 401.93 236.75 400.5 240.24 396.5 240.75 395.91M246.22 389.66 247.23 388.5 250.73 384.5 251.48 383.64M256.95 377.39 257.73 376.5 261.24 372.5 262.23 371.38M267.7 365.14 268.26 364.5 271.78 360.5 272.98 359.13M278.47 352.9 278.82 352.5 282.34 348.5 283.75 346.9M289.24 340.67 289.39 340.5 292.93 336.5 294.54 334.67M300.03 328.45 303.53 324.5 305.34 322.46M310.84 316.25 314.17 312.5 316.15 310.27M321.66 304.06 324.82 300.5 326.97 298.08M332.49 291.88 335.5 288.5 337.81 285.9M343.33 279.71 346.2 276.5 348.66 273.74M354.19 267.55 356.92 264.5 359.52 261.59M365.06 255.4 367.66 252.5 370.4 249.45M375.94 243.27 378.43 240.5 381.29 237.32M386.84 231.14 389.21 228.5 392.19 225.2M397.74 219.03 400.02 216.5 403.1 213.09M408.66 206.93 410.85 204.5 414.02 200.99M419.59 194.83 421.7 192.5 424.96 188.9M430.53 182.75 432.57 180.5 435.91 176.83M441.49 170.68 443.47 168.5 446.87 164.76M452.45 158.62 454.38 156.5 457.84 152.7M463.43 146.57 465.31 144.5 468.82 140.66M474.41 134.53 476.27 132.5 479.81 128.62M485.41 122.5 487.24 120.5 490.81 116.6M496.42 110.48 498.23 108.5 501.83 104.58M507.44 98.47 509.25 96.5 512.85 92.58M518.47 86.47 520.28 84.5 523.89 80.58M196.47 500.58 196.53 500.5 199.86 496.5 201.58 494.42M206.89 488.05 209.85 484.5 212.02 481.9M217.34 475.53 219.87 472.5 222.47 469.39M227.8 463.03 229.92 460.5 232.94 456.9M238.28 450.54 239.99 448.5 243.36 444.5 243.43 444.42M248.77 438.07 250.1 436.5 253.47 432.5 253.93 431.96M259.29 425.62 260.23 424.5 263.62 420.5 264.45 419.51M269.82 413.18 270.39 412.5 273.79 408.5 274.99 407.08M280.37 400.75 280.58 400.5 283.98 396.5 285.55 394.66M290.93 388.34 294.2 384.5 296.12 382.25M301.51 375.94 304.45 372.5 306.71 369.86M312.11 363.56 314.73 360.5 317.32 357.48M322.72 351.18 325.03 348.5 327.94 345.12M333.35 338.83 335.36 336.5 338.58 332.77M344 326.48 345.71 324.5 349.17 320.5 349.23 320.43M354.66 314.15 356.09 312.5 359.56 308.5 359.9 308.11M365.34 301.84 366.49 300.5 369.97 296.5 370.58 295.79M376.03 289.53 376.92 288.5 380.4 284.5 381.28 283.5M386.73 277.24 387.38 276.5 390.87 272.5 391.99 271.21M397.45 264.96 397.85 264.5 401.35 260.5 402.72 258.94M408.19 252.69 408.36 252.5 411.86 248.5 413.46 246.68M418.93 240.44 422.39 236.5 424.21 234.43M429.7 228.2 432.95 224.5 434.98 222.19M440.47 215.97 443.53 212.5 445.77 209.97M451.26 203.75 454.14 200.5 456.56 197.76M462.07 191.54 464.76 188.5 467.37 185.56M472.88 179.35 475.41 176.5 478.2 173.37M483.71 167.17 486.09 164.5 489.03 161.19M494.55 155 496.78 152.5 499.88 149.03M505.41 142.84 507.5 140.5 510.74 136.87M516.28 130.69 518.24 128.5 521.62 124.73M527.16 118.55 529 116.5 532.5 112.6M538.05 106.43 539.78 104.5 543.38 100.5 543.4 100.48M548.96 94.31 550.59 92.5 554.2 88.5 554.31 88.37M559.87 82.21 561.42 80.5 565.03 76.5M262.53 500.51 262.53 500.5 265.71 496.5 267.51 494.25M272.68 487.75 275.28 484.5 277.67 481.5M282.85 475.02 284.87 472.5 287.86 468.78M293.05 462.3 294.5 460.5 297.72 456.5 298.06 456.07M303.27 449.6 304.16 448.5 307.39 444.5 308.29 443.38M313.51 436.92 313.85 436.5 317.09 432.5 318.55 430.7M323.77 424.26 326.83 420.5 328.82 418.05M334.06 411.61 336.59 408.5 339.11 405.41M344.36 398.98 346.39 396.5 349.42 392.79M354.68 386.37 356.21 384.5 359.5 380.5 359.76 380.18M365.03 373.77 366.07 372.5 369.36 368.5 370.11 367.59M375.39 361.19 375.96 360.5 379.26 356.5 380.49 355.02M385.77 348.62 385.88 348.5 389.19 344.5 390.88 342.46M396.18 336.07 399.14 332.5 401.29 329.92M406.6 323.54 409.13 320.5 411.72 317.39M417.04 311.02 419.14 308.5 422.17 304.88M427.5 298.52 429.19 296.5 432.54 292.5 432.63 292.39M437.97 286.03 439.26 284.5 442.62 280.5 443.12 279.91M448.46 273.56 449.36 272.5 452.73 268.5 453.62 267.44M458.98 261.1 459.48 260.5 462.86 256.5 464.14 254.99M469.5 248.66 469.64 248.5 473.03 244.5 474.68 242.55M480.05 236.23 483.22 232.5 485.23 230.13M490.61 223.81 493.43 220.5 495.8 217.72M501.19 211.41 503.68 208.5 506.39 205.33M511.79 199.02 513.95 196.5 516.99 192.95M522.4 186.65 524.24 184.5 527.61 180.58M533.02 174.29 534.57 172.5 538.01 168.5 538.24 168.23M543.67 161.95 544.91 160.5 548.37 156.5 548.89 155.89M554.32 149.61 555.29 148.5 558.75 144.5 559.56 143.56M565 137.29 565.68 136.5 569.15 132.5 570.24 131.25M575.68 124.99 576.11 124.5 579.59 120.5 580.94 118.95M586.39 112.69 586.55 112.5 590.04 108.5 591.64 106.66M597.1 100.41 600.52 96.5 602.37 94.39M607.84 88.14 611.03 84.5 613.11 82.13M316.7 500.45 319.72 496.5 321.56 494.09M326.61 487.5 328.91 484.5 331.48 481.16M336.54 474.58 338.15 472.5 341.23 468.5 341.43 468.25M346.5 461.68 347.41 460.5 350.51 456.5 351.4 455.35M356.49 448.8 356.72 448.5 359.83 444.5 361.4 442.48M366.5 435.93 369.18 432.5 371.43 429.63M376.54 423.09 378.57 420.5 381.48 416.79M386.6 410.27 387.99 408.5 391.14 404.5 391.55 403.98M396.69 397.46 397.45 396.5 400.61 392.5 401.65 391.18M406.8 384.68 406.94 384.5 410.11 380.5 411.77 378.41M416.93 371.91 419.64 368.5 421.91 365.65M427.09 359.16 429.21 356.5 432.08 352.91M437.27 346.43 438.81 344.5 442.02 340.5 442.27 340.19M447.47 333.72 448.45 332.5 451.66 328.5 452.48 327.48M457.69 321.02 458.11 320.5 461.34 316.5 462.72 314.8M467.94 308.34 471.05 304.5 472.97 302.13M478.2 295.68 480.79 292.5 483.25 289.47M488.49 283.04 490.56 280.5 493.55 276.84M498.8 270.41 500.36 268.5 503.64 264.5 503.86 264.22M509.13 257.8 510.19 256.5 513.48 252.5 514.2 251.62M519.47 245.21 520.06 244.5 523.35 240.5 524.56 239.03M529.84 232.63 529.95 232.5 533.25 228.5 534.94 226.46M540.23 220.07 543.18 216.5 545.33 213.91M550.63 207.52 553.14 204.5 555.75 201.37M561.06 194.99 563.13 192.5 566.18 188.85M571.5 182.48 573.15 180.5 576.5 176.5 576.63 176.34M581.96 169.98 583.2 168.5 586.56 164.5 587.1 163.85M592.44 157.49 593.28 156.5 596.64 152.5 597.59 151.37M602.94 145.02 603.38 144.5 606.75 140.5 608.1 138.91M613.45 132.57 613.51 132.5 616.89 128.5 618.62 126.46M623.99 120.12 627.06 116.5 629.16 114.02M634.54 107.7 637.25 104.5 639.72 101.6M645.1 95.29 647.48 92.5 650.29 89.2M655.68 82.89 657.72 80.5 660.88 76.81M350.23 500.41 353.14 496.5 355.01 493.99M359.98 487.34 362.1 484.5 364.77 480.94M369.75 474.3 371.11 472.5 374.12 468.5 374.56 467.91M379.56 461.28 380.15 460.5 383.17 456.5 384.38 454.9M389.39 448.28 392.26 444.5 394.23 441.91M399.26 435.3 401.39 432.5 404.11 428.94M409.15 422.35 410.56 420.5 413.62 416.5 414.01 415.99M419.06 409.41 419.76 408.5 422.84 404.5 423.94 403.07M429.01 396.49 432.09 392.5 433.9 390.16M438.98 383.6 441.38 380.5 443.88 377.28M448.97 370.72 450.7 368.5 453.82 364.5 453.89 364.41M458.99 357.87 460.06 356.5 463.19 352.5 463.92 351.56M469.04 345.03 469.46 344.5 472.59 340.5 473.98 338.74M479.11 332.21 482.03 328.5 484.06 325.93M489.2 319.42 491.51 316.5 494.17 313.14M499.32 306.64 501.02 304.5 504.19 300.5 504.3 300.37M509.46 293.88 510.56 292.5 513.75 288.5 514.45 287.62M519.63 281.13 520.13 280.5 523.33 276.5 524.62 274.88M529.81 268.41 532.95 264.5 534.82 262.17M540.02 255.7 542.6 252.5 545.04 249.47M550.25 243.01 552.28 240.5 555.28 236.79M560.51 230.34 562 228.5 565.24 224.5 565.55 224.13M570.78 217.68 571.74 216.5 575 212.5 575.83 211.48M581.07 205.05 581.52 204.5 584.79 200.5 586.13 198.85M591.39 192.42 594.6 188.5 596.46 186.24M601.72 179.82 604.45 176.5 606.8 173.64M612.08 167.23 614.33 164.5 617.17 161.06M622.45 154.66 624.24 152.5 627.55 148.5 627.55 148.49M632.85 142.1 634.17 140.5 637.49 136.5 637.95 135.95M643.26 129.56 644.14 128.5 647.47 124.5 648.38 123.41M653.69 117.04 654.14 116.5 657.48 112.5 658.82 110.89M664.14 104.53 664.16 104.5 667.51 100.5 669.27 98.39M674.61 92.03 677.57 88.5 679.75 85.91M685.09 79.55 687.66 76.5M374.9 500.38 377.73 496.5 379.62 493.92M384.53 487.22 386.52 484.5 389.26 480.77M394.18 474.09 395.35 472.5 398.3 468.5 398.93 467.65M403.87 460.98 404.22 460.5 407.19 456.5 408.63 454.55M413.58 447.89 416.11 444.5 418.36 441.48M423.33 434.83 425.07 432.5 428.07 428.5 428.13 428.42M433.11 421.79 434.07 420.5 437.08 416.5 437.92 415.39M442.91 408.77 443.11 408.5 446.14 404.5 447.74 402.38M452.75 395.77 455.23 392.5 457.59 389.4M462.61 382.79 464.36 380.5 467.41 376.5 467.46 376.43M472.5 369.83 473.52 368.5 476.59 364.5 477.37 363.48M482.42 356.9 482.72 356.5 485.8 352.5 487.3 350.56M492.36 343.98 495.05 340.5 497.25 337.65M502.33 331.09 504.34 328.5 507.24 324.77M512.33 318.21 513.66 316.5 516.78 312.5 517.25 311.9M522.35 305.36 523.02 304.5 526.15 300.5 527.28 299.06M532.4 292.52 532.41 292.5 535.55 288.5 537.34 286.23M542.47 279.7 544.99 276.5 547.42 273.42M552.56 266.91 554.47 264.5 557.53 260.63M562.68 254.13 563.97 252.5 567.15 248.5 567.66 247.86M572.82 241.37 573.51 240.5 576.7 236.5 577.81 235.11M582.99 228.62 583.09 228.5 586.29 224.5 587.99 222.38M593.18 215.9 595.91 212.5 598.18 209.66M603.39 203.19 605.56 200.5 608.4 196.96M613.62 190.51 615.24 188.5 618.47 184.5 618.65 184.28M623.87 177.83 624.95 176.5 628.2 172.5 628.91 171.62M634.14 165.18 634.7 164.5 637.95 160.5 639.19 158.97M644.44 152.54 644.47 152.5 647.74 148.5 649.5 146.34M654.75 139.92 657.55 136.5 659.82 133.73M665.09 127.32 667.4 124.5 670.17 121.14M675.44 114.73 677.28 112.5 680.53 108.56M685.82 102.16 687.19 100.5 690.5 96.5 690.92 95.99M696.21 89.6 697.12 88.5 697.5 88.05M410.97 500.34 413.69 496.5 415.6 493.81M420.41 487.04 422.22 484.5 425.05 480.53M429.88 473.78 430.79 472.5 433.66 468.5 434.54 467.27M439.38 460.53 439.4 460.5 442.29 456.5 444.06 454.04M448.92 447.32 450.96 444.5 453.61 440.84M458.49 434.12 459.67 432.5 462.59 428.5 463.2 427.66M468.1 420.95 468.43 420.5 471.35 416.5 472.82 414.5M477.73 407.81 480.17 404.5 482.48 401.36M487.4 394.68 489.02 392.5 491.98 388.5 492.16 388.25M497.1 381.59 497.91 380.5 500.88 376.5 501.87 375.16M506.83 368.51 506.84 368.5 509.82 364.5 511.62 362.1M516.59 355.45 518.81 352.5 521.4 349.05M526.38 342.42 527.83 340.5 530.85 336.5 531.2 336.03M536.2 329.41 536.89 328.5 539.92 324.5 541.03 323.03M546.05 316.42 549.03 312.5 550.89 310.05M555.93 303.45 558.18 300.5 560.78 297.1M565.83 290.51 567.37 288.5 570.44 284.5 570.7 284.16M575.76 277.58 576.59 276.5 579.67 272.5 580.64 271.24M585.71 264.67 585.85 264.5 588.94 260.5 590.61 258.35M595.7 251.79 598.25 248.5 600.6 245.47M605.7 238.92 607.59 236.5 610.62 232.61M615.74 226.08 616.97 224.5 620.1 220.5 620.67 219.78M625.79 213.25 626.38 212.5 629.53 208.5 630.74 206.96M635.88 200.44 638.98 196.5 640.83 194.16M645.98 187.65 648.48 184.5 650.95 181.38M656.11 174.88 658 172.5 661.09 168.62M666.26 162.13 667.56 160.5 670.75 156.5 671.25 155.88M676.44 149.39 677.15 148.5 680.36 144.5 681.44 143.15M686.63 136.68 686.78 136.5 689.99 132.5 691.65 130.44M696.85 123.98 697.5 123.18M437.53 500.3 440.16 496.5 442.08 493.73M446.81 486.91 448.49 484.5 451.28 480.5 451.39 480.34M456.14 473.54 456.87 472.5 459.67 468.5 460.73 466.99M465.5 460.2 468.11 456.5 470.11 453.66M474.91 446.88 476.59 444.5 479.43 440.5 479.53 440.36M484.34 433.59 485.12 432.5 487.97 428.5 488.99 427.08M493.82 420.33 496.56 416.5 498.48 413.83M503.32 407.09 505.19 404.5 508 400.6M512.87 393.87 513.86 392.5 516.76 388.5 517.56 387.4M522.44 380.68 522.57 380.5 525.49 376.5 527.15 374.22M532.05 367.52 534.26 364.5 536.78 361.06M541.69 354.37 543.07 352.5 546.01 348.5 546.43 347.93M551.36 341.25 551.92 340.5 554.88 336.5 556.12 334.82M561.07 328.15 563.78 324.5 565.84 321.73M570.8 315.08 572.73 312.5 575.59 308.67M580.56 302.03 581.71 300.5 584.71 296.5 585.37 295.63M590.36 289 590.73 288.5 593.75 284.5 595.17 282.61M600.18 275.99 602.82 272.5 605.01 269.61M610.03 263 611.93 260.5 614.87 256.64M619.91 250.04 621.08 248.5 624.14 244.5 624.77 243.68M629.81 237.09 630.27 236.5 633.34 232.5 634.68 230.75M639.74 224.17 642.57 220.5 644.63 217.83M649.7 211.26 651.84 208.5 654.6 204.94M659.69 198.38 661.15 196.5 664.26 192.5 664.6 192.06M669.7 185.52 670.49 184.5 673.61 180.5 674.62 179.21M679.73 172.67 679.87 172.5 683 168.5 684.67 166.37M689.79 159.85 692.42 156.5 694.74 153.56M476.36 500.26 478.86 496.5 480.8 493.6M485.42 486.71 486.9 484.5 489.6 480.5 489.89 480.07M494.53 473.19 494.99 472.5 497.7 468.5 499.01 466.57M503.68 459.7 505.86 456.5 508.18 453.09M512.87 446.24 514.06 444.5 516.81 440.5 517.4 439.64M522.1 432.8 522.31 432.5 525.07 428.5 526.65 426.22M531.37 419.4 533.38 416.5 535.94 412.83M540.68 406.02 541.74 404.5 544.54 400.5 545.27 399.46M550.03 392.66 550.15 392.5 552.96 388.5 554.63 386.12M559.42 379.34 561.42 376.5 564.04 372.81M568.84 366.04 569.93 364.5 572.78 360.5 573.47 359.52M578.3 352.76 578.48 352.5 581.34 348.5 582.95 346.26M587.79 339.51 589.95 336.5 592.46 333.02M597.32 326.29 598.61 324.5 601.5 320.5 602 319.8M606.88 313.08 607.3 312.5 610.21 308.5 611.58 306.61M616.47 299.91 618.96 296.5 621.19 293.45M626.1 286.75 627.75 284.5 630.69 280.5 630.83 280.31M635.76 273.62 636.59 272.5 639.54 268.5 640.51 267.19M645.45 260.52 645.46 260.5 648.43 256.5 650.21 254.09M655.17 247.43 657.35 244.5 659.95 241.02M664.92 234.37 666.32 232.5 669.32 228.5 669.72 227.97M674.7 221.33 675.32 220.5 678.33 216.5 679.51 214.94M684.51 208.31 687.39 204.5 689.33 201.93M694.35 195.32 696.49 192.5 697.5 191.17M504.93 500.22 507.35 496.5 509.29 493.51M513.83 486.56 515.17 484.5 517.79 480.5 518.21 479.86M522.76 472.93 523.04 472.5 525.68 468.5 527.17 466.25M531.75 459.33 533.62 456.5 536.17 452.66M540.78 445.76 541.62 444.5 544.29 440.5 545.22 439.11M549.85 432.21 552.35 428.5 554.32 425.58M558.97 418.7 560.46 416.5 563.17 412.5 563.45 412.08M568.12 405.22 568.61 404.5 571.34 400.5 572.63 398.61M577.32 391.76 579.56 388.5 581.85 385.17M586.56 378.33 587.83 376.5 590.59 372.5 591.11 371.75M595.84 364.93 596.14 364.5 598.92 360.5 600.41 358.36M605.16 351.56 607.3 348.5 609.75 345M614.51 338.21 615.72 336.5 618.53 332.5 619.12 331.67M623.91 324.89 624.18 324.5 627.01 320.5 628.53 318.36M633.34 311.59 635.54 308.5 637.98 305.08M642.8 298.32 644.1 296.5 646.97 292.5 647.46 291.82M652.3 285.08 652.71 284.5 655.59 280.5 656.98 278.58M661.83 271.86 664.26 268.5 666.53 265.38M671.4 258.66 672.97 256.5 675.89 252.5 676.11 252.19M681 245.49 681.72 244.5 684.65 240.5 685.73 239.03M690.64 232.34 693.46 228.5 695.38 225.89M527.7 500.19 530.04 496.5 531.98 493.44M536.45 486.44 537.68 484.5 540.24 480.5 540.76 479.7M545.24 472.72 545.38 472.5 547.96 468.5 549.58 465.99M554.09 459.03 555.73 456.5 558.33 452.5 558.45 452.32M562.99 445.37 563.55 444.5 566.17 440.5 567.37 438.67M571.93 431.74 574.06 428.5 576.33 425.06M580.92 418.14 582 416.5 584.66 412.5 585.34 411.48M589.95 404.57 590 404.5 592.67 400.5 594.4 397.92M599.03 391.03 600.73 388.5 603.43 384.5 603.5 384.4M608.14 377.52 608.84 376.5 611.55 372.5 612.64 370.9M617.31 364.04 619.72 360.5 621.82 357.43M626.51 350.59 627.94 348.5 630.69 344.5 631.04 343.99M635.75 337.16 636.21 336.5 638.97 332.5 640.3 330.58M645.03 323.76 647.3 320.5 649.6 317.2M654.35 310.39 655.68 308.5 658.48 304.5 658.94 303.84M663.71 297.04 664.1 296.5 666.91 292.5 668.32 290.5M673.11 283.72 675.39 280.5 677.73 277.2M682.54 270.43 683.92 268.5 686.77 264.5 687.18 263.92M692.01 257.16 692.48 256.5 695.35 252.5 696.67 250.66M546.68 500.17 548.96 496.5 550.91 493.37M555.31 486.34 556.46 484.5 558.97 480.5 559.56 479.56M563.99 472.54 564.01 472.5 566.54 468.5 568.27 465.78M572.72 458.77 574.17 456.5 576.72 452.5 577.02 452.03M581.5 445.04 581.84 444.5 584.42 440.5 585.83 438.31M590.33 431.34 592.17 428.5 594.68 424.62M599.21 417.67 599.97 416.5 602.58 412.5 603.58 410.97M608.13 404.03 610.45 400.5 612.53 397.35M617.1 390.42 618.37 388.5 621.03 384.5 621.52 383.75M626.12 376.84 626.35 376.5 629.01 372.5 630.56 370.19M635.18 363.29 637.05 360.5 639.64 356.65M644.28 349.77 645.14 348.5 647.85 344.5 648.77 343.14M653.43 336.28 656 332.5 657.93 329.67M662.62 322.81 664.2 320.5 666.95 316.5 667.14 316.22M671.85 309.38 672.45 308.5 675.21 304.5 676.39 302.79M681.11 295.97 683.52 292.5 685.68 289.4M690.42 282.59 691.88 280.5 694.67 276.5 695 276.03M570.4 500.13 572.6 496.5 574.55 493.29M578.86 486.21 579.91 484.5 582.36 480.5 583.04 479.38M587.39 472.31 589.74 468.5 591.59 465.51M595.97 458.45 597.18 456.5 599.67 452.5 600.2 451.66M604.6 444.63 604.68 444.5 607.19 440.5 608.86 437.85M613.28 430.83 614.76 428.5 617.3 424.5 617.57 424.08M622.02 417.07 622.39 416.5 624.94 412.5 626.33 410.33M630.81 403.34 632.64 400.5 635.14 396.62M639.65 389.65 640.39 388.5 642.98 384.5 644 382.94M648.53 375.98 650.8 372.5 652.91 369.29M657.46 362.35 658.68 360.5 661.31 356.5 661.86 355.67M666.44 348.74 666.6 348.5 669.25 344.5 670.86 342.08M675.46 335.17 677.24 332.5 679.91 328.52M684.53 321.62 685.28 320.5 687.97 316.5 689 314.98M693.64 308.11 696.08 304.5 697.5 302.41M601.72 500.09 603.82 496.5 605.76 493.19M609.97 486.04 610.88 484.5 613.24 480.5 614.04 479.15M618.28 472.01 620.38 468.5 622.39 465.15M626.66 458.03 627.57 456.5 629.99 452.5 630.79 451.18M635.09 444.08 637.26 440.5 639.24 437.24M643.57 430.16 644.59 428.5 647.05 424.5 647.76 423.34M652.12 416.28 654.46 412.5 656.33 409.48M660.72 402.43 661.92 400.5 664.42 396.5 664.96 395.65M669.37 388.62 669.44 388.5 671.96 384.5 673.63 381.85M678.07 374.84 679.56 372.5 682.1 368.5 682.36 368.09M686.83 361.09 687.21 360.5 689.77 356.5 691.15 354.35M695.63 347.37 697.49 344.5 697.5 344.48M626.59 500.06 628.61 496.5 630.54 493.11M634.66 485.9 635.46 484.5 637.76 480.5 638.64 478.96M642.79 471.77 644.69 468.5 646.81 464.86M650.99 457.69 651.69 456.5 654.03 452.5 655.04 450.79M659.26 443.64 661.11 440.5 663.34 436.76M667.58 429.62 668.25 428.5 670.65 424.5 671.69 422.76M675.97 415.65 677.87 412.5 680.1 408.8M684.41 401.7 685.14 400.5 687.58 396.5 688.58 394.87M692.91 387.8 694.94 384.5 697.1 380.98M647.25 500.03 649.2 496.5 651.12 493.04M655.16 485.78 655.88 484.5 658.12 480.5 659.07 478.81M663.15 471.57 664.89 468.5 667.09 464.61M671.2 457.4 671.72 456.5 674.01 452.5 675.18 450.46M679.32 443.27 680.93 440.5 683.24 436.5 683.33 436.35M687.51 429.17 687.9 428.5 690.24 424.5 691.55 422.27M695.76 415.12 697.3 412.5 697.5 412.17M680.42 499.99 682.27 496.5 684.17 492.92M688.08 485.6 688.67 484.5 690.82 480.5 691.87 478.55M695.82 471.25 697.31 468.5 697.5 468.15" stroke="#50008c" stroke-width="1" fill="none" shape-rendering="crispEdges"/>
</g>
<path d="M602.7 473.5H603.0M601.5 470.5H602.5M600.3 467.5H602.0M599.0 464.5H601.5M597.8 460.5H601.0M596.5 457.5H600.5M595.2 454.5H600.0M593.9 450.5H599.5M592.6 447.5H599.0M590.9 443.5H598.5M589.2 440.5H598.0M587.5 436.5H597.5M585.7 432.5H596.9M583.9 428.5H596.3M581.9 424.5H595.5M579.9 420.5H594.7M577.8 416.5H593.9M575.7 412.5H593.1M573.5 408.5H592.3M571.3 403.5H591.4M569.3 399.5H590.3M567.4 394.5H589.0M565.5 389.5H587.6M563.5 384.5H586.2M561.3 379.5H584.8M559.1 374.5H583.3M556.9 369.5H581.4M553.3 363.5H579.2M549.3 357.5H576.8M545.0 352.5H574.1M540.5 346.5H571.3M535.8 339.5H568.2M530.9 333.5H564.9M525.7 326.5H561.3M518.7 319.5H556.4M511.4 312.5H551.2M503.7 304.5H546.6M496.2 296.5H542.0M488.9 288.5H535.6M481.3 279.5H528.6M473.2 270.5H521.2M464.8 261.5H513.1M455.7 251.5H504.5M445.0 240.5H495.3M438.9 229.5H481.5M431.6 216.5H468.4M423.7 203.5H454.4M420.9 189.5H440.7" stroke="#50008c" stroke-width="1" fill="none" shape-rendering="crispEdges"/>
<path d="M337.6 74.8 386.6 132 440.3 189.3 452.8 202.2 490 236.7 495.2 240 520 269 541.1 295 550 310.3 562 327.2 570.1 343.3 577.9 360 582.8 372.4 588.3 391.7 591 401.4 596.6 430 600.1 454.9 603.1 474.3 604.6 487.8 624.1 496.4M337.6 75.8 386.6 133 440.3 190.3 452.8 203.2 490 237.7 495.2 241 520 270 541.1 296 550 311.3 562 328.2 570.1 344.3 577.9 361 582.8 373.4 588.3 392.7 591 402.4 596.6 431 600.1 455.9 603.1 475.3 604.6 488.8 624.1 497.4" stroke="#50008c" stroke-width="1" fill="none" stroke-linejoin="round" shape-rendering="crispEdges"/>
<path d="M374.5 74.5 371.4 98.2 370 113.4 368.6 132 367.7 138.3 366.6 148.6 369.3 156.9 375.5 174.1 380.3 190 384.5 201.6 397.6 216.7 411.4 233.3 420.3 245 440.7 275.9 444.8 300 447.7 312.7 450.1 327.2 455.6 355 457.5 361.3 458.5 368.75 469.4 380 488.8 401.3 500 410 521.3 424.4 544.8 444.4 564.3 463.9 580.7 476.6 599.4 496.7M374.5 75.5 371.4 99.2 370 114.4 368.6 133 367.7 139.3 366.6 149.6 369.3 157.9 375.5 175.1 380.3 191 384.5 202.6 397.6 217.7 411.4 234.3 420.3 246 440.7 276.9 444.8 301 447.7 313.7 450.1 328.2 455.6 356 457.5 362.3 458.5 369.75 469.4 381 488.8 402.3 500 411 521.3 425.4 544.8 445.4 564.3 464.9 580.7 477.6 599.4 497.7" stroke="#0000ff" stroke-width="1" fill="none" stroke-linejoin="round" shape-rendering="crispEdges"/>
<path d="M441.5 74.5 431.4 103.7 421.7 132 419.7 134.8 414.8 148.6 415.9 159 417.6 175.5 420.3 185 422.4 201.6 430.7 215.3 437.6 226.4 444.8 240 456.6 251.7 499.3 300 526.6 327.2 543.5 349.8 551 360 556.6 368.3 564.8 387.6 570.3 401.4 584.1 429 592.7 447.4 602.4 472.8 604.6 478 622.6 495.3M441.5 75.5 431.4 104.7 421.7 133 419.7 135.8 414.8 149.6 415.9 160 417.6 176.5 420.3 186 422.4 202.6 430.7 216.3 437.6 227.4 444.8 241 456.6 252.7 499.3 301 526.6 328.2 543.5 350.8 551 361 556.6 369.3 564.8 388.6 570.3 402.4 584.1 430 592.7 448.4 602.4 473.8 604.6 479 622.6 496.3" stroke="#ff0000" stroke-width="1" fill="none" stroke-linejoin="round" shape-rendering="crispEdges"/>
<path d="M440 75h3v2h-3z" fill="#ff0000"/><path d="M373 75h3v2h-3z" fill="#0000ff" shape-rendering="crispEdges"/>
<path d="M456.89 251.5 457.6 252.2 500.3 300.5 500.3 300.5" stroke="#ff0000" stroke-width="1" fill="none" shape-rendering="crispEdges"/>
<path d="M604.75 476.5 605.6 478.5 623.6 495.8" stroke="#ff0000" stroke-width="1" fill="none" shape-rendering="crispEdges"/>
<path d="M89.24 40.47L85.00 51.60M89.24 40.47L93.48 51.60M86.59 47.89L91.89 47.89M95.77 40.47L95.77 51.60M99.85 40.47L99.85 51.60M99.85 40.47L104.62 40.47L106.21 41.00L106.74 41.53L107.27 42.59L107.27 43.65L106.74 44.71L106.21 45.24L104.62 45.77L99.85 45.77M103.56 45.77L107.27 51.60M117.45 42.06L116.39 41.00L114.80 40.47L112.68 40.47L111.09 41.00L110.03 42.06L110.03 43.12L110.56 44.18L111.09 44.71L112.15 45.24L115.33 46.30L116.39 46.83L116.92 47.36L117.45 48.42L117.45 50.01L116.39 51.07L114.80 51.60L112.68 51.60L111.09 51.07L110.03 50.01M135.81 42.06L134.75 41.00L133.16 40.47L131.04 40.47L129.45 41.00L128.39 42.06L128.39 43.12L128.92 44.18L129.45 44.71L130.51 45.24L133.69 46.30L134.75 46.83L135.28 47.36L135.81 48.42L135.81 50.01L134.75 51.07L133.16 51.60L131.04 51.60L129.45 51.07L128.39 50.01M139.12 40.47L139.12 51.60M144.42 44.18L139.12 49.48M141.24 47.36L144.95 51.60M147.26 47.36L153.62 47.36L153.62 46.30L153.09 45.24L152.56 44.71L151.50 44.18L149.91 44.18L148.85 44.71L147.79 45.77L147.26 47.36L147.26 48.42L147.79 50.01L148.85 51.07L149.91 51.60L151.50 51.60L152.56 51.07L153.62 50.01M156.44 44.18L158.56 51.60M160.68 44.18L158.56 51.60M160.68 44.18L162.80 51.60M164.92 44.18L162.80 51.60M170.31 40.47L170.31 51.60M166.60 40.47L174.02 40.47M184.51 40.47L184.51 51.60M184.51 40.47L188.22 40.47L189.81 41.00L190.87 42.06L191.40 43.12L191.93 44.71L191.93 47.36L191.40 48.95L190.87 50.01L189.81 51.07L188.22 51.60L184.51 51.60M195.22 44.18L195.22 51.60M205.13 44.18L205.13 51.60M205.13 45.77L204.07 44.71L203.01 44.18L201.42 44.18L200.36 44.71L199.30 45.77L198.77 47.36L198.77 48.42L199.30 50.01L200.36 51.07L201.42 51.60L203.01 51.60L204.07 51.07L205.13 50.01M214.82 44.18L214.82 52.66L214.29 54.25L213.76 54.78L212.70 55.31L211.11 55.31L210.05 54.78M214.82 45.77L213.76 44.71L212.70 44.18L211.11 44.18L210.05 44.71L208.99 45.77L208.46 47.36L208.46 48.42L208.99 50.01L210.05 51.07L211.11 51.60L212.70 51.60L213.76 51.07L214.82 50.01M218.68 44.18L218.68 51.60M218.68 47.36L219.21 45.77L220.27 44.71L221.33 44.18L222.92 44.18M231.14 44.18L231.14 51.60M231.14 45.77L230.08 44.71L229.02 44.18L227.43 44.18L226.37 44.71L225.31 45.77L224.78 47.36L224.78 48.42L225.31 50.01L226.37 51.07L227.43 51.60L229.02 51.60L230.08 51.07L231.14 50.01M235.00 44.18L235.00 51.60M235.00 46.30L236.59 44.71L237.65 44.18L239.24 44.18L240.30 44.71L240.83 46.30L240.83 51.60M240.83 46.30L242.42 44.71L243.48 44.18L245.07 44.18L246.13 44.71L246.66 46.30L246.66 51.60M258.46 43.12L258.46 42.59L258.99 41.53L259.52 41.00L260.58 40.47L262.70 40.47L263.76 41.00L264.29 41.53L264.82 42.59L264.82 43.65L264.29 44.71L263.23 46.30L257.93 51.60L265.35 51.60M271.31 40.47L269.72 41.00L268.66 42.59L268.13 45.24L268.13 46.83L268.66 49.48L269.72 51.07L271.31 51.60L272.37 51.60L273.96 51.07L275.02 49.48L275.55 46.83L275.55 45.24L275.02 42.59L273.96 41.00L272.37 40.47L271.31 40.47M279.92 42.59L280.98 42.06L282.57 40.47L282.57 51.60M291.71 40.47L290.12 41.00L289.06 42.59L288.53 45.24L288.53 46.83L289.06 49.48L290.12 51.07L291.71 51.60L292.77 51.60L294.36 51.07L295.42 49.48L295.95 46.83L295.95 45.24L295.42 42.59L294.36 41.00L292.77 40.47L291.71 40.47M299.26 46.83L308.80 46.83M315.17 40.47L313.58 41.00L312.52 42.59L311.99 45.24L311.99 46.83L312.52 49.48L313.58 51.07L315.17 51.60L316.23 51.60L317.82 51.07L318.88 49.48L319.41 46.83L319.41 45.24L318.88 42.59L317.82 41.00L316.23 40.47L315.17 40.47M329.08 44.18L328.55 45.77L327.49 46.83L325.90 47.36L325.37 47.36L323.78 46.83L322.72 45.77L322.19 44.18L322.19 43.65L322.72 42.06L323.78 41.00L325.37 40.47L325.90 40.47L327.49 41.00L328.55 42.06L329.08 44.18L329.08 46.83L328.55 49.48L327.49 51.07L325.90 51.60L324.84 51.60L323.25 51.07L322.72 50.01M332.92 46.83L342.46 46.83M346.18 43.12L346.18 42.59L346.71 41.53L347.24 41.00L348.30 40.47L350.42 40.47L351.48 41.00L352.01 41.53L352.54 42.59L352.54 43.65L352.01 44.71L350.95 46.30L345.65 51.60L353.07 51.60M356.38 43.12L356.38 42.59L356.91 41.53L357.44 41.00L358.50 40.47L360.62 40.47L361.68 41.00L362.21 41.53L362.74 42.59L362.74 43.65L362.21 44.71L361.15 46.30L355.85 51.60L363.27 51.60M375.06 38.35L365.52 55.31M380.45 40.47L378.86 41.00L377.80 42.59L377.27 45.24L377.27 46.83L377.80 49.48L378.86 51.07L380.45 51.60L381.51 51.60L383.10 51.07L384.16 49.48L384.69 46.83L384.69 45.24L384.16 42.59L383.10 41.00L381.51 40.47L380.45 40.47M388.53 40.47L394.36 40.47L391.18 44.71L392.77 44.71L393.83 45.24L394.36 45.77L394.89 47.36L394.89 48.42L394.36 50.01L393.30 51.07L391.71 51.60L390.12 51.60L388.53 51.07L388.00 50.54L387.47 49.48M402.28 43.12L402.28 42.59L402.81 41.53L403.34 41.00L404.40 40.47L406.52 40.47L407.58 41.00L408.11 41.53L408.64 42.59L408.64 43.65L408.11 44.71L407.05 46.30L401.75 51.60L409.17 51.60M419.37 40.47L414.07 51.60M411.95 40.47L419.37 40.47M432.59 40.47L427.29 40.47L426.76 45.24L427.29 44.71L428.88 44.18L430.47 44.18L432.06 44.71L433.12 45.77L433.65 47.36L433.65 48.42L433.12 50.01L432.06 51.07L430.47 51.60L428.88 51.60L427.29 51.07L426.76 50.54L426.23 49.48M441.73 40.47L436.43 47.89L444.38 47.89M441.73 40.47L441.73 51.60M453.36 40.47L451.77 41.00L451.24 42.06L451.24 43.12L451.77 44.18L452.83 44.71L454.95 45.24L456.54 45.77L457.60 46.83L458.13 47.89L458.13 49.48L457.60 50.54L457.07 51.07L455.48 51.60L453.36 51.60L451.77 51.07L450.71 50.54L450.18 49.48L450.18 47.89L450.71 46.83L451.77 45.77L453.36 45.24L455.48 44.71L456.54 44.18L457.07 43.12L457.07 42.06L456.54 41.00L454.95 40.47L453.36 40.47M468.33 40.47L463.03 51.60M460.91 40.47L468.33 40.47M483.51 38.35L482.45 39.41L481.39 41.00L480.33 43.12L479.80 45.77L479.80 47.89L480.33 50.54L481.39 52.66L482.45 54.25L483.51 55.31M486.94 40.47L486.94 51.60M486.94 51.60L493.30 51.60M501.44 44.18L501.44 51.60M501.44 45.77L500.38 44.71L499.32 44.18L497.73 44.18L496.67 44.71L495.61 45.77L495.08 47.36L495.08 48.42L495.61 50.01L496.67 51.07L497.73 51.60L499.32 51.60L500.38 51.07L501.44 50.01M505.83 40.47L505.83 49.48L506.36 51.07L507.42 51.60L508.48 51.60M504.24 44.18L507.95 44.18M519.90 38.35L510.36 55.31M522.64 40.47L522.64 51.60M522.64 51.60L529.00 51.60M533.43 44.18L532.37 44.71L531.31 45.77L530.78 47.36L530.78 48.42L531.31 50.01L532.37 51.07L533.43 51.60L535.02 51.60L536.08 51.07L537.14 50.01L537.67 48.42L537.67 47.36L537.14 45.77L536.08 44.71L535.02 44.18L533.43 44.18M541.00 44.18L541.00 51.60M541.00 46.30L542.59 44.71L543.65 44.18L545.24 44.18L546.30 44.71L546.83 46.30L546.83 51.60M558.85 43.12L558.85 42.59L559.38 41.53L559.91 41.00L560.97 40.47L563.09 40.47L564.15 41.00L564.68 41.53L565.21 42.59L565.21 43.65L564.68 44.71L563.62 46.30L558.32 51.60L565.74 51.60M575.41 44.18L574.88 45.77L573.82 46.83L572.23 47.36L571.70 47.36L570.11 46.83L569.05 45.77L568.52 44.18L568.52 43.65L569.05 42.06L570.11 41.00L571.70 40.47L572.23 40.47L573.82 41.00L574.88 42.06L575.41 44.18L575.41 46.83L574.88 49.48L573.82 51.07L572.23 51.60L571.17 51.60L569.58 51.07L569.05 50.01M584.39 42.59L585.45 42.06L587.04 40.47L587.04 51.60M596.18 40.47L594.59 41.00L593.53 42.59L593.00 45.24L593.00 46.83L593.53 49.48L594.59 51.07L596.18 51.60L597.24 51.60L598.83 51.07L599.89 49.48L600.42 46.83L600.42 45.24L599.89 42.59L598.83 41.00L597.24 40.47L596.18 40.47M612.21 38.35L602.67 55.31M616.01 42.59L617.07 42.06L618.66 40.47L618.66 51.60M629.92 40.47L624.62 47.89L632.57 47.89M629.92 40.47L629.92 51.60M640.12 40.47L634.82 47.89L642.77 47.89M640.12 40.47L640.12 51.60M655.46 40.47L650.16 40.47L649.63 45.24L650.16 44.71L651.75 44.18L653.34 44.18L654.93 44.71L655.99 45.77L656.52 47.36L656.52 48.42L655.99 50.01L654.93 51.07L653.34 51.60L651.75 51.60L650.16 51.07L649.63 50.54L649.10 49.48M660.89 42.59L661.95 42.06L663.54 40.47L663.54 51.60M684.02 40.47L684.02 51.60M684.02 45.77L682.96 44.71L681.90 44.18L680.31 44.18L679.25 44.71L678.19 45.77L677.66 47.36L677.66 48.42L678.19 50.01L679.25 51.07L680.31 51.60L681.90 51.60L682.96 51.07L684.02 50.01M687.35 47.36L693.71 47.36L693.71 46.30L693.18 45.24L692.65 44.71L691.59 44.18L690.00 44.18L688.94 44.71L687.88 45.77L687.35 47.36L687.35 48.42L687.88 50.01L688.94 51.07L690.00 51.60L691.59 51.60L692.65 51.07L693.71 50.01M702.89 44.18L702.89 52.66L702.36 54.25L701.83 54.78L700.77 55.31L699.18 55.31L698.12 54.78M702.89 45.77L701.83 44.71L700.77 44.18L699.18 44.18L698.12 44.71L697.06 45.77L696.53 47.36L696.53 48.42L697.06 50.01L698.12 51.07L699.18 51.60L700.77 51.60L701.83 51.07L702.89 50.01M706.22 38.35L707.28 39.41L708.34 41.00L709.40 43.12L709.93 45.77L709.93 47.89L709.40 50.54L708.34 52.66L707.28 54.25L706.22 55.31M48.55 68.57L49.33 68.18L50.50 67.01L50.50 75.20M56.80 67.01L55.63 67.40L54.85 68.57L54.46 70.52L54.46 71.69L54.85 73.64L55.63 74.81L56.80 75.20L57.58 75.20L58.75 74.81L59.53 73.64L59.92 71.69L59.92 70.52L59.53 68.57L58.75 67.40L57.58 67.01L56.80 67.01M63.88 67.01L62.71 67.40L61.93 68.57L61.54 70.52L61.54 71.69L61.93 73.64L62.71 74.81L63.88 75.20L64.66 75.20L65.83 74.81L66.61 73.64L67.00 71.69L67.00 70.52L66.61 68.57L65.83 67.40L64.66 67.01L63.88 67.01M47.77 195.96L47.77 195.57L48.16 194.79L48.55 194.40L49.33 194.01L50.89 194.01L51.67 194.40L52.06 194.79L52.45 195.57L52.45 196.35L52.06 197.13L51.28 198.30L47.38 202.20L52.84 202.20M56.80 194.01L55.63 194.40L54.85 195.57L54.46 197.52L54.46 198.69L54.85 200.64L55.63 201.81L56.80 202.20L57.58 202.20L58.75 201.81L59.53 200.64L59.92 198.69L59.92 197.52L59.53 195.57L58.75 194.40L57.58 194.01L56.80 194.01M63.88 194.01L62.71 194.40L61.93 195.57L61.54 197.52L61.54 198.69L61.93 200.64L62.71 201.81L63.88 202.20L64.66 202.20L65.83 201.81L66.61 200.64L67.00 198.69L67.00 197.52L66.61 195.57L65.83 194.40L64.66 194.01L63.88 194.01M48.16 268.01L52.45 268.01L50.11 271.13L51.28 271.13L52.06 271.52L52.45 271.91L52.84 273.08L52.84 273.86L52.45 275.03L51.67 275.81L50.50 276.20L49.33 276.20L48.16 275.81L47.77 275.42L47.38 274.64M56.80 268.01L55.63 268.40L54.85 269.57L54.46 271.52L54.46 272.69L54.85 274.64L55.63 275.81L56.80 276.20L57.58 276.20L58.75 275.81L59.53 274.64L59.92 272.69L59.92 271.52L59.53 269.57L58.75 268.40L57.58 268.01L56.80 268.01M63.88 268.01L62.71 268.40L61.93 269.57L61.54 271.52L61.54 272.69L61.93 274.64L62.71 275.81L63.88 276.20L64.66 276.20L65.83 275.81L66.61 274.64L67.00 272.69L67.00 271.52L66.61 269.57L65.83 268.40L64.66 268.01L63.88 268.01M51.28 320.01L47.38 325.47L53.23 325.47M51.28 320.01L51.28 328.20M56.80 320.01L55.63 320.40L54.85 321.57L54.46 323.52L54.46 324.69L54.85 326.64L55.63 327.81L56.80 328.20L57.58 328.20L58.75 327.81L59.53 326.64L59.92 324.69L59.92 323.52L59.53 321.57L58.75 320.40L57.58 320.01L56.80 320.01M63.88 320.01L62.71 320.40L61.93 321.57L61.54 323.52L61.54 324.69L61.93 326.64L62.71 327.81L63.88 328.20L64.66 328.20L65.83 327.81L66.61 326.64L67.00 324.69L67.00 323.52L66.61 321.57L65.83 320.40L64.66 320.01L63.88 320.01M52.06 361.01L48.16 361.01L47.77 364.52L48.16 364.13L49.33 363.74L50.50 363.74L51.67 364.13L52.45 364.91L52.84 366.08L52.84 366.86L52.45 368.03L51.67 368.81L50.50 369.20L49.33 369.20L48.16 368.81L47.77 368.42L47.38 367.64M56.80 361.01L55.63 361.40L54.85 362.57L54.46 364.52L54.46 365.69L54.85 367.64L55.63 368.81L56.80 369.20L57.58 369.20L58.75 368.81L59.53 367.64L59.92 365.69L59.92 364.52L59.53 362.57L58.75 361.40L57.58 361.01L56.80 361.01M63.88 361.01L62.71 361.40L61.93 362.57L61.54 364.52L61.54 365.69L61.93 367.64L62.71 368.81L63.88 369.20L64.66 369.20L65.83 368.81L66.61 367.64L67.00 365.69L67.00 364.52L66.61 362.57L65.83 361.40L64.66 361.01L63.88 361.01M52.45 395.18L52.06 394.40L50.89 394.01L50.11 394.01L48.94 394.40L48.16 395.57L47.77 397.52L47.77 399.47L48.16 401.03L48.94 401.81L50.11 402.20L50.50 402.20L51.67 401.81L52.45 401.03L52.84 399.86L52.84 399.47L52.45 398.30L51.67 397.52L50.50 397.13L50.11 397.13L48.94 397.52L48.16 398.30L47.77 399.47M56.80 394.01L55.63 394.40L54.85 395.57L54.46 397.52L54.46 398.69L54.85 400.64L55.63 401.81L56.80 402.20L57.58 402.20L58.75 401.81L59.53 400.64L59.92 398.69L59.92 397.52L59.53 395.57L58.75 394.40L57.58 394.01L56.80 394.01M63.88 394.01L62.71 394.40L61.93 395.57L61.54 397.52L61.54 398.69L61.93 400.64L62.71 401.81L63.88 402.20L64.66 402.20L65.83 401.81L66.61 400.64L67.00 398.69L67.00 397.52L66.61 395.57L65.83 394.40L64.66 394.01L63.88 394.01M52.84 422.01L48.94 430.20M47.38 422.01L52.84 422.01M56.80 422.01L55.63 422.40L54.85 423.57L54.46 425.52L54.46 426.69L54.85 428.64L55.63 429.81L56.80 430.20L57.58 430.20L58.75 429.81L59.53 428.64L59.92 426.69L59.92 425.52L59.53 423.57L58.75 422.40L57.58 422.01L56.80 422.01M63.88 422.01L62.71 422.40L61.93 423.57L61.54 425.52L61.54 426.69L61.93 428.64L62.71 429.81L63.88 430.20L64.66 430.20L65.83 429.81L66.61 428.64L67.00 426.69L67.00 425.52L66.61 423.57L65.83 422.40L64.66 422.01L63.88 422.01M49.33 446.01L48.16 446.40L47.77 447.18L47.77 447.96L48.16 448.74L48.94 449.13L50.50 449.52L51.67 449.91L52.45 450.69L52.84 451.47L52.84 452.64L52.45 453.42L52.06 453.81L50.89 454.20L49.33 454.20L48.16 453.81L47.38 453.42L46.99 452.64L46.99 451.47L47.38 450.69L48.16 449.91L49.33 449.52L50.89 449.13L51.67 448.74L52.06 447.96L52.06 447.18L51.67 446.40L50.50 446.01L49.33 446.01M56.80 446.01L55.63 446.40L54.85 447.57L54.46 449.52L54.46 450.69L54.85 452.64L55.63 453.81L56.80 454.20L57.58 454.20L58.75 453.81L59.53 452.64L59.92 450.69L59.92 449.52L59.53 447.57L58.75 446.40L57.58 446.01L56.80 446.01M63.88 446.01L62.71 446.40L61.93 447.57L61.54 449.52L61.54 450.69L61.93 452.64L62.71 453.81L63.88 454.20L64.66 454.20L65.83 453.81L66.61 452.64L67.00 450.69L67.00 449.52L66.61 447.57L65.83 446.40L64.66 446.01L63.88 446.01M52.45 470.74L52.06 471.91L51.28 472.69L50.11 473.08L49.72 473.08L48.55 472.69L47.77 471.91L47.38 470.74L47.38 470.35L47.77 469.18L48.55 468.40L49.72 468.01L50.11 468.01L51.28 468.40L52.06 469.18L52.45 470.74L52.45 472.69L52.06 474.64L51.28 475.81L50.11 476.20L49.33 476.20L48.16 475.81L47.77 475.03M56.80 468.01L55.63 468.40L54.85 469.57L54.46 471.52L54.46 472.69L54.85 474.64L55.63 475.81L56.80 476.20L57.58 476.20L58.75 475.81L59.53 474.64L59.92 472.69L59.92 471.52L59.53 469.57L58.75 468.40L57.58 468.01L56.80 468.01M63.88 468.01L62.71 468.40L61.93 469.57L61.54 471.52L61.54 472.69L61.93 474.64L62.71 475.81L63.88 476.20L64.66 476.20L65.83 475.81L66.61 474.64L67.00 472.69L67.00 471.52L66.61 469.57L65.83 468.40L64.66 468.01L63.88 468.01M41.47 488.57L42.25 488.18L43.42 487.01L43.42 495.20M49.72 487.01L48.55 487.40L47.77 488.57L47.38 490.52L47.38 491.69L47.77 493.64L48.55 494.81L49.72 495.20L50.50 495.20L51.67 494.81L52.45 493.64L52.84 491.69L52.84 490.52L52.45 488.57L51.67 487.40L50.50 487.01L49.72 487.01M56.80 487.01L55.63 487.40L54.85 488.57L54.46 490.52L54.46 491.69L54.85 493.64L55.63 494.81L56.80 495.20L57.58 495.20L58.75 494.81L59.53 493.64L59.92 491.69L59.92 490.52L59.53 488.57L58.75 487.40L57.58 487.01L56.80 487.01M63.88 487.01L62.71 487.40L61.93 488.57L61.54 490.52L61.54 491.69L61.93 493.64L62.71 494.81L63.88 495.20L64.66 495.20L65.83 494.81L66.61 493.64L67.00 491.69L67.00 490.52L66.61 488.57L65.83 487.40L64.66 487.01L63.88 487.01M704.32 75.24L704.32 84.90M701.10 75.24L707.54 75.24M709.36 75.24L709.36 84.90M709.36 75.24L713.50 75.24L714.88 75.70L715.34 76.16L715.80 77.08L715.80 78.46L715.34 79.38L714.88 79.84L713.50 80.30L709.36 80.30M722.75 77.08L723.67 76.62L725.05 75.24L725.05 84.90M732.73 75.24L731.35 75.70L730.43 77.08L729.97 79.38L729.97 80.76L730.43 83.06L731.35 84.44L732.73 84.90L733.65 84.90L735.03 84.44L735.95 83.06L736.41 80.76L736.41 79.38L735.95 77.08L735.03 75.70L733.65 75.24L732.73 75.24M741.33 75.24L739.95 75.70L739.03 77.08L738.57 79.38L738.57 80.76L739.03 83.06L739.95 84.44L741.33 84.90L742.25 84.90L743.63 84.44L744.55 83.06L745.01 80.76L745.01 79.38L744.55 77.08L743.63 75.70L742.25 75.24L741.33 75.24M701.10 90.95L701.10 100.61M701.10 90.95L704.78 100.61M708.46 90.95L704.78 100.61M708.46 90.95L708.46 100.61M710.50 90.95L712.80 100.61M715.10 90.95L712.80 100.61M715.10 90.95L717.40 100.61M719.70 90.95L717.40 100.61M725.18 90.95L725.18 100.61M725.18 90.95L731.62 100.61M731.62 90.95L731.62 100.61M742.00 89.11L733.72 103.83M746.40 90.95L742.72 100.61M746.40 90.95L750.08 100.61M744.10 97.39L748.70 97.39M701.10 106.66L701.10 116.32M701.10 106.66L707.08 106.66M701.10 111.26L704.78 111.26M708.84 106.66L708.84 116.32M708.84 106.66L712.98 106.66L714.36 107.12L714.82 107.58L715.28 108.50L715.28 109.42L714.82 110.34L714.36 110.80L712.98 111.26L708.84 111.26M712.06 111.26L715.28 116.32M723.85 106.66L717.41 116.32M717.41 106.66L723.85 106.66M717.41 116.32L723.85 116.32M734.97 106.66L730.37 106.66L729.91 110.80L730.37 110.34L731.75 109.88L733.13 109.88L734.51 110.34L735.43 111.26L735.89 112.64L735.89 113.56L735.43 114.94L734.51 115.86L733.13 116.32L731.75 116.32L730.37 115.86L729.91 115.40L729.45 114.48M743.57 106.66L738.97 106.66L738.51 110.80L738.97 110.34L740.35 109.88L741.73 109.88L743.11 110.34L744.03 111.26L744.49 112.64L744.49 113.56L744.03 114.94L743.11 115.86L741.73 116.32L740.35 116.32L738.97 115.86L738.51 115.40L738.05 114.48M748.95 106.66L747.57 107.12L747.11 108.04L747.11 108.96L747.57 109.88L748.49 110.34L750.33 110.80L751.71 111.26L752.63 112.18L753.09 113.10L753.09 114.48L752.63 115.40L752.17 115.86L750.79 116.32L748.95 116.32L747.57 115.86L746.65 115.40L746.19 114.48L746.19 113.10L746.65 112.18L747.57 111.26L748.95 110.80L750.79 110.34L751.71 109.88L752.17 108.96L752.17 108.04L751.71 107.12L750.33 106.66L748.95 106.66M700.30 122.37L702.60 132.03M704.90 122.37L702.60 132.03M704.90 122.37L707.20 132.03M709.50 122.37L707.20 132.03M711.54 122.37L711.54 132.03M711.54 122.37L715.68 122.37L717.06 122.83L717.52 123.29L717.98 124.21L717.98 125.13L717.52 126.05L717.06 126.51L715.68 126.97M711.54 126.97L715.68 126.97L717.06 127.43L717.52 127.89L717.98 128.81L717.98 130.19L717.52 131.11L717.06 131.57L715.68 132.03L711.54 132.03M722.87 122.37L721.49 122.83L720.57 124.21L720.11 126.51L720.11 127.89L720.57 130.19L721.49 131.57L722.87 132.03L723.79 132.03L725.17 131.57L726.09 130.19L726.55 127.89L726.55 126.51L726.09 124.21L725.17 122.83L723.79 122.37L722.87 122.37M736.75 122.37L732.15 128.81L739.05 128.81M736.75 122.37L736.75 132.03M746.73 125.59L746.27 126.97L745.35 127.89L743.97 128.35L743.51 128.35L742.13 127.89L741.21 126.97L740.75 125.59L740.75 125.13L741.21 123.75L742.13 122.83L743.51 122.37L743.97 122.37L745.35 122.83L746.27 123.75L746.73 125.59L746.73 127.89L746.27 130.19L745.35 131.57L743.97 132.03L743.05 132.03L741.67 131.57L741.21 130.65M751.65 122.37L750.27 122.83L749.81 123.75L749.81 124.67L750.27 125.59L751.19 126.05L753.03 126.51L754.41 126.97L755.33 127.89L755.79 128.81L755.79 130.19L755.33 131.11L754.87 131.57L753.49 132.03L751.65 132.03L750.27 131.57L749.35 131.11L748.89 130.19L748.89 128.81L749.35 127.89L750.27 126.97L751.65 126.51L753.49 126.05L754.41 125.59L754.87 124.67L754.87 123.75L754.41 122.83L753.03 122.37L751.65 122.37M700.20 138.08L700.20 147.74M700.20 138.08L704.34 138.08L705.72 138.54L706.18 139.00L706.64 139.92L706.64 141.30L706.18 142.22L705.72 142.68L704.34 143.14L700.20 143.14M708.31 138.08L710.61 147.74M712.91 138.08L710.61 147.74M712.91 138.08L715.21 147.74M717.51 138.08L715.21 147.74M723.45 138.08L728.51 138.08L725.75 141.76L727.13 141.76L728.05 142.22L728.51 142.68L728.97 144.06L728.97 144.98L728.51 146.36L727.59 147.28L726.21 147.74L724.83 147.74L723.45 147.28L722.99 146.82L722.53 145.90M732.05 138.08L737.11 138.08L734.35 141.76L735.73 141.76L736.65 142.22L737.11 142.68L737.57 144.06L737.57 144.98L737.11 146.36L736.19 147.28L734.81 147.74L733.43 147.74L732.05 147.28L731.59 146.82L731.13 145.90M749.15 139.46L748.69 138.54L747.31 138.08L746.39 138.08L745.01 138.54L744.09 139.92L743.63 142.22L743.63 144.52L744.09 146.36L745.01 147.28L746.39 147.74L746.85 147.74L748.23 147.28L749.15 146.36L749.61 144.98L749.61 144.52L749.15 143.14L748.23 142.22L746.85 141.76L746.39 141.76L745.01 142.22L744.09 143.14L743.63 144.52M753.15 139.92L754.07 139.46L755.45 138.08L755.45 147.74M700.70 153.79L700.70 163.45M700.70 153.79L704.84 153.79L706.22 154.25L706.68 154.71L707.14 155.63L707.14 156.55L706.68 157.47L706.22 157.93L704.84 158.39L700.70 158.39M703.92 158.39L707.14 163.45M709.73 153.79L709.73 163.45M716.17 153.79L716.17 163.45M709.73 158.39L716.17 158.39M728.15 155.17L727.69 154.25L726.31 153.79L725.39 153.79L724.01 154.25L723.09 155.63L722.63 157.93L722.63 160.23L723.09 162.07L724.01 162.99L725.39 163.45L725.85 163.45L727.23 162.99L728.15 162.07L728.61 160.69L728.61 160.23L728.15 158.85L727.23 157.93L725.85 157.47L725.39 157.47L724.01 157.93L723.09 158.85L722.63 160.23M732.15 155.63L733.07 155.17L734.45 153.79L734.45 163.45M743.73 153.79L748.79 153.79L746.03 157.47L747.41 157.47L748.33 157.93L748.79 158.39L749.25 159.77L749.25 160.69L748.79 162.07L747.87 162.99L746.49 163.45L745.11 163.45L743.73 162.99L743.27 162.53L742.81 161.61M699.70 169.50L699.70 179.16M699.70 169.50L703.38 179.16M707.06 169.50L703.38 179.16M707.06 169.50L707.06 179.16M712.32 169.50L708.64 179.16M712.32 169.50L716.00 179.16M710.02 175.94L714.62 175.94M717.30 169.50L723.74 179.16M723.74 169.50L717.30 179.16M728.20 169.50L728.20 179.16M724.98 169.50L731.42 169.50M737.14 169.50L742.20 169.50L739.44 173.18L740.82 173.18L741.74 173.64L742.20 174.10L742.66 175.48L742.66 176.40L742.20 177.78L741.28 178.70L739.90 179.16L738.52 179.16L737.14 178.70L736.68 178.24L736.22 177.32M745.28 171.80L745.28 171.34L745.74 170.42L746.20 169.96L747.12 169.50L748.96 169.50L749.88 169.96L750.34 170.42L750.80 171.34L750.80 172.26L750.34 173.18L749.42 174.56L744.82 179.16L751.26 179.16M762.84 172.72L762.38 174.10L761.46 175.02L760.08 175.48L759.62 175.48L758.24 175.02L757.32 174.10L756.86 172.72L756.86 172.26L757.32 170.88L758.24 169.96L759.62 169.50L760.08 169.50L761.46 169.96L762.38 170.88L762.84 172.72L762.84 175.02L762.38 177.32L761.46 178.70L760.08 179.16L759.16 179.16L757.78 178.70L757.32 177.78M703.12 185.21L703.12 194.87M699.90 185.21L706.34 185.21M708.16 185.21L708.16 194.87M714.60 185.21L714.60 194.87M708.16 189.81L714.60 189.81M726.12 185.21L721.52 185.21L721.06 189.35L721.52 188.89L722.90 188.43L724.28 188.43L725.66 188.89L726.58 189.81L727.04 191.19L727.04 192.11L726.58 193.49L725.66 194.41L724.28 194.87L722.90 194.87L721.52 194.41L721.06 193.95L720.60 193.03M733.80 185.21L729.20 191.65L736.10 191.65M733.80 185.21L733.80 194.87M743.78 186.59L743.32 185.67L741.94 185.21L741.02 185.21L739.64 185.67L738.72 187.05L738.26 189.35L738.26 191.65L738.72 193.49L739.64 194.41L741.02 194.87L741.48 194.87L742.86 194.41L743.78 193.49L744.24 192.11L744.24 191.65L743.78 190.27L742.86 189.35L741.48 188.89L741.02 188.89L739.64 189.35L738.72 190.27L738.26 191.65M747.32 185.21L752.38 185.21L749.62 188.89L751.00 188.89L751.92 189.35L752.38 189.81L752.84 191.19L752.84 192.11L752.38 193.49L751.46 194.41L750.08 194.87L748.70 194.87L747.32 194.41L746.86 193.95L746.40 193.03M701.00 200.92L701.00 210.58M701.00 210.58L706.52 210.58M713.37 200.92L708.77 200.92L708.31 205.06L708.77 204.60L710.15 204.14L711.53 204.14L712.91 204.60L713.83 205.52L714.29 206.90L714.29 207.82L713.83 209.20L712.91 210.12L711.53 210.58L710.15 210.58L708.77 210.12L708.31 209.66L707.85 208.74M722.89 200.92L718.29 210.58M716.45 200.92L722.89 200.92M734.01 200.92L729.41 200.92L728.95 205.06L729.41 204.60L730.79 204.14L732.17 204.14L733.55 204.60L734.47 205.52L734.93 206.90L734.93 207.82L734.47 209.20L733.55 210.12L732.17 210.58L730.79 210.58L729.41 210.12L728.95 209.66L728.49 208.74M746.51 204.14L746.05 205.52L745.13 206.44L743.75 206.90L743.29 206.90L741.91 206.44L740.99 205.52L740.53 204.14L740.53 203.68L740.99 202.30L741.91 201.38L743.29 200.92L743.75 200.92L745.13 201.38L746.05 202.30L746.51 204.14L746.51 206.44L746.05 208.74L745.13 210.12L743.75 210.58L742.83 210.58L741.45 210.12L740.99 209.20M701.00 216.63L701.00 226.29M701.00 226.29L706.52 226.29M714.75 218.93L714.29 218.01L713.37 217.09L712.45 216.63L710.61 216.63L709.69 217.09L708.77 218.01L708.31 218.93L707.85 220.31L707.85 222.61L708.31 223.99L708.77 224.91L709.69 225.83L710.61 226.29L712.45 226.29L713.37 225.83L714.29 224.91L714.75 223.99M717.34 216.63L717.34 226.29M717.34 226.29L722.86 226.29M733.61 219.85L733.15 221.23L732.23 222.15L730.85 222.61L730.39 222.61L729.01 222.15L728.09 221.23L727.63 219.85L727.63 219.39L728.09 218.01L729.01 217.09L730.39 216.63L730.85 216.63L732.23 217.09L733.15 218.01L733.61 219.85L733.61 222.15L733.15 224.45L732.23 225.83L730.85 226.29L729.93 226.29L728.55 225.83L728.09 224.91M742.21 218.01L741.75 217.09L740.37 216.63L739.45 216.63L738.07 217.09L737.15 218.47L736.69 220.77L736.69 223.07L737.15 224.91L738.07 225.83L739.45 226.29L739.91 226.29L741.29 225.83L742.21 224.91L742.67 223.53L742.67 223.07L742.21 221.69L741.29 220.77L739.91 220.31L739.45 220.31L738.07 220.77L737.15 221.69L736.69 223.07M745.29 218.93L745.29 218.47L745.75 217.55L746.21 217.09L747.13 216.63L748.97 216.63L749.89 217.09L750.35 217.55L750.81 218.47L750.81 219.39L750.35 220.31L749.43 221.69L744.83 226.29L751.27 226.29M701.70 232.34L701.70 242.00M701.70 242.00L707.22 242.00M709.01 232.34L709.01 242.00M715.89 237.86L724.17 237.86M727.53 232.34L732.59 232.34L729.83 236.02L731.21 236.02L732.13 236.48L732.59 236.94L733.05 238.32L733.05 239.24L732.59 240.62L731.67 241.54L730.29 242.00L728.91 242.00L727.53 241.54L727.07 241.08L726.61 240.16M744.63 233.72L744.17 232.80L742.79 232.34L741.87 232.34L740.49 232.80L739.57 234.18L739.11 236.48L739.11 238.78L739.57 240.62L740.49 241.54L741.87 242.00L742.33 242.00L743.71 241.54L744.63 240.62L745.09 239.24L745.09 238.78L744.63 237.40L743.71 236.48L742.33 236.02L741.87 236.02L740.49 236.48L739.57 237.40L739.11 238.78M708.14 249.43L707.22 248.51L705.84 248.05L704.00 248.05L702.62 248.51L701.70 249.43L701.70 250.35L702.16 251.27L702.62 251.73L703.54 252.19L706.30 253.11L707.22 253.57L707.68 254.03L708.14 254.95L708.14 256.33L707.22 257.25L705.84 257.71L704.00 257.71L702.62 257.25L701.70 256.33M710.76 248.05L710.76 257.71M718.56 249.89L719.48 249.43L720.86 248.05L720.86 257.71M734.74 248.05L730.14 248.05L729.68 252.19L730.14 251.73L731.52 251.27L732.90 251.27L734.28 251.73L735.20 252.65L735.66 254.03L735.66 254.95L735.20 256.33L734.28 257.25L732.90 257.71L731.52 257.71L730.14 257.25L729.68 256.79L729.22 255.87M703.22 263.76L703.22 273.42M700.00 263.76L706.44 263.76M710.10 263.76L710.10 273.42M706.88 263.76L713.32 263.76M722.72 263.76L718.12 270.20L725.02 270.20M722.72 263.76L722.72 273.42M727.18 266.06L727.18 265.60L727.64 264.68L728.10 264.22L729.02 263.76L730.86 263.76L731.78 264.22L732.24 264.68L732.70 265.60L732.70 266.52L732.24 267.44L731.32 268.82L726.72 273.42L733.16 273.42M741.52 263.76L740.14 264.22L739.22 265.60L738.76 267.90L738.76 269.28L739.22 271.58L740.14 272.96L741.52 273.42L742.44 273.42L743.82 272.96L744.74 271.58L745.20 269.28L745.20 267.90L744.74 265.60L743.82 264.22L742.44 263.76L741.52 263.76M701.70 279.47L701.70 289.13M708.14 279.47L701.70 285.91M704.00 283.61L708.14 289.13M710.73 279.47L710.73 289.13M718.07 279.47L723.13 279.47L720.37 283.15L721.75 283.15L722.67 283.61L723.13 284.07L723.59 285.45L723.59 286.37L723.13 287.75L722.21 288.67L720.83 289.13L719.45 289.13L718.07 288.67L717.61 288.21L717.15 287.29M728.51 279.47L727.13 279.93L726.21 281.31L725.75 283.61L725.75 284.99L726.21 287.29L727.13 288.67L728.51 289.13L729.43 289.13L730.81 288.67L731.73 287.29L732.19 284.99L732.19 283.61L731.73 281.31L730.81 279.93L729.43 279.47L728.51 279.47M734.81 281.77L734.81 281.31L735.27 280.39L735.73 279.93L736.65 279.47L738.49 279.47L739.41 279.93L739.87 280.39L740.33 281.31L740.33 282.23L739.87 283.15L738.95 284.53L734.35 289.13L740.79 289.13M707.24 296.56L706.32 295.64L704.94 295.18L703.10 295.18L701.72 295.64L700.80 296.56L700.80 297.48L701.26 298.40L701.72 298.86L702.64 299.32L705.40 300.24L706.32 300.70L706.78 301.16L707.24 302.08L707.24 303.46L706.32 304.38L704.94 304.84L703.10 304.84L701.72 304.38L700.80 303.46M708.94 295.18L711.24 304.84M713.54 295.18L711.24 304.84M713.54 295.18L715.84 304.84M718.14 295.18L715.84 304.84M723.62 295.18L723.62 304.84M723.62 295.18L730.06 304.84M730.06 295.18L730.06 304.84M740.44 293.34L732.16 308.06M744.84 295.18L741.16 304.84M744.84 295.18L748.52 304.84M742.54 301.62L747.14 301.62M702.90 310.89L702.90 320.55M702.90 310.89L708.88 310.89M702.90 315.49L706.58 315.49M702.90 320.55L708.88 320.55M711.07 310.89L711.07 320.55M720.25 310.89L718.87 311.35L717.95 312.73L717.49 315.03L717.49 316.41L717.95 318.71L718.87 320.09L720.25 320.55L721.17 320.55L722.55 320.09L723.47 318.71L723.93 316.41L723.93 315.03L723.47 312.73L722.55 311.35L721.17 310.89L720.25 310.89M729.99 313.19L729.99 312.73L730.45 311.81L730.91 311.35L731.83 310.89L733.67 310.89L734.59 311.35L735.05 311.81L735.51 312.73L735.51 313.65L735.05 314.57L734.13 315.95L729.53 320.55L735.97 320.55M699.40 332.12L707.68 332.12M710.58 326.60L710.58 336.26M710.58 326.60L714.72 326.60L716.10 327.06L716.56 327.52L717.02 328.44L717.02 329.82L716.56 330.74L716.10 331.20L714.72 331.66L710.58 331.66M721.91 326.60L718.23 336.26M721.91 326.60L725.59 336.26M719.61 333.04L724.21 333.04M727.35 326.60L727.35 336.26M727.35 326.60L731.49 326.60L732.87 327.06L733.33 327.52L733.79 328.44L733.79 329.36L733.33 330.28L732.87 330.74L731.49 331.20L727.35 331.20M730.57 331.20L733.79 336.26M742.82 328.90L742.36 327.98L741.44 327.06L740.52 326.60L738.68 326.60L737.76 327.06L736.84 327.98L736.38 328.90L735.92 330.28L735.92 332.58L736.38 333.96L736.84 334.88L737.76 335.80L738.68 336.26L740.52 336.26L741.44 335.80L742.36 334.88L742.82 333.96M745.41 326.60L745.41 336.26M745.41 326.60L751.39 326.60M745.41 331.20L749.09 331.20M745.41 336.26L751.39 336.26M753.58 326.60L753.58 336.26M753.58 336.26L759.10 336.26M760.89 332.12L769.17 332.12M706.30 344.61L705.84 343.69L704.92 342.77L704.00 342.31L702.16 342.31L701.24 342.77L700.32 343.69L699.86 344.61L699.40 345.99L699.40 348.29L699.86 349.67L700.32 350.59L701.24 351.51L702.16 351.97L704.00 351.97L704.92 351.51L705.84 350.59L706.30 349.67M711.19 342.31L707.51 351.97M711.19 342.31L714.87 351.97M708.89 348.75L713.49 348.75M716.63 342.31L716.63 351.97M716.63 342.31L720.77 342.31L722.15 342.77L722.61 343.23L723.07 344.15L723.07 345.53L722.61 346.45L722.15 346.91L720.77 347.37L716.63 347.37M725.66 342.31L725.66 351.97M725.66 342.31L731.64 342.31M725.66 346.91L729.34 346.91M725.66 351.97L731.64 351.97M738.19 344.15L739.11 343.69L740.49 342.31L740.49 351.97M751.39 345.53L750.93 346.91L750.01 347.83L748.63 348.29L748.17 348.29L746.79 347.83L745.87 346.91L745.41 345.53L745.41 345.07L745.87 343.69L746.79 342.77L748.17 342.31L748.63 342.31L750.01 342.77L750.93 343.69L751.39 345.53L751.39 347.83L750.93 350.13L750.01 351.51L748.63 351.97L747.71 351.97L746.33 351.51L745.87 350.59M754.47 344.61L754.47 344.15L754.93 343.23L755.39 342.77L756.31 342.31L758.15 342.31L759.07 342.77L759.53 343.23L759.99 344.15L759.99 345.07L759.53 345.99L758.61 347.37L754.01 351.97L760.45 351.97M768.59 345.53L768.13 346.91L767.21 347.83L765.83 348.29L765.37 348.29L763.99 347.83L763.07 346.91L762.61 345.53L762.61 345.07L763.07 343.69L763.99 342.77L765.37 342.31L765.83 342.31L767.21 342.77L768.13 343.69L768.59 345.53L768.59 347.83L768.13 350.13L767.21 351.51L765.83 351.97L764.91 351.97L763.53 351.51L763.07 350.59M707.70 360.32L707.24 359.40L706.32 358.48L705.40 358.02L703.56 358.02L702.64 358.48L701.72 359.40L701.26 360.32L700.80 361.70L700.80 364.00L701.26 365.38L701.72 366.30L702.64 367.22L703.56 367.68L705.40 367.68L706.32 367.22L707.24 366.30L707.70 365.38M710.29 358.02L710.29 367.68M713.73 358.02L713.73 367.68M713.73 358.02L720.17 367.68M720.17 358.02L720.17 367.68M723.19 358.02L723.19 367.68M729.63 358.02L729.63 367.68M723.19 362.62L729.63 362.62M736.09 360.32L736.09 359.86L736.55 358.94L737.01 358.48L737.93 358.02L739.77 358.02L740.69 358.48L741.15 358.94L741.61 359.86L741.61 360.78L741.15 361.70L740.23 363.08L735.63 367.68L742.07 367.68M746.99 358.02L745.61 358.48L744.69 359.86L744.23 362.16L744.23 363.54L744.69 365.84L745.61 367.22L746.99 367.68L747.91 367.68L749.29 367.22L750.21 365.84L750.67 363.54L750.67 362.16L750.21 359.86L749.29 358.48L747.91 358.02L746.99 358.02M701.10 373.73L701.10 383.39M701.10 383.39L706.62 383.39M714.85 376.03L714.39 375.11L713.47 374.19L712.55 373.73L710.71 373.73L709.79 374.19L708.87 375.11L708.41 376.03L707.95 377.41L707.95 379.71L708.41 381.09L708.87 382.01L709.79 382.93L710.71 383.39L712.55 383.39L713.47 382.93L714.39 382.01L714.85 381.09M717.44 373.73L717.44 383.39M717.44 383.39L722.96 383.39M733.71 376.95L733.25 378.33L732.33 379.25L730.95 379.71L730.49 379.71L729.11 379.25L728.19 378.33L727.73 376.95L727.73 376.49L728.19 375.11L729.11 374.19L730.49 373.73L730.95 373.73L732.33 374.19L733.25 375.11L733.71 376.95L733.71 379.25L733.25 381.55L732.33 382.93L730.95 383.39L730.03 383.39L728.65 382.93L728.19 382.01M742.31 375.11L741.85 374.19L740.47 373.73L739.55 373.73L738.17 374.19L737.25 375.57L736.79 377.87L736.79 380.17L737.25 382.01L738.17 382.93L739.55 383.39L740.01 383.39L741.39 382.93L742.31 382.01L742.77 380.63L742.77 380.17L742.31 378.79L741.39 377.87L740.01 377.41L739.55 377.41L738.17 377.87L737.25 378.79L736.79 380.17M745.39 376.03L745.39 375.57L745.85 374.65L746.31 374.19L747.23 373.73L749.07 373.73L749.99 374.19L750.45 374.65L750.91 375.57L750.91 376.49L750.45 377.41L749.53 378.79L744.93 383.39L751.37 383.39M708.00 391.74L707.54 390.82L706.62 389.90L705.70 389.44L703.86 389.44L702.94 389.90L702.02 390.82L701.56 391.74L701.10 393.12L701.10 395.42L701.56 396.80L702.02 397.72L702.94 398.64L703.86 399.10L705.70 399.10L706.62 398.64L707.54 397.72L708.00 396.80M712.89 389.44L709.21 399.10M712.89 389.44L716.57 399.10M710.59 395.88L715.19 395.88M718.33 389.44L718.33 399.10M718.33 389.44L722.47 389.44L723.85 389.90L724.31 390.36L724.77 391.28L724.77 392.66L724.31 393.58L723.85 394.04L722.47 394.50L718.33 394.50M733.10 389.44L731.72 389.90L730.80 391.28L730.34 393.58L730.34 394.96L730.80 397.26L731.72 398.64L733.10 399.10L734.02 399.10L735.40 398.64L736.32 397.26L736.78 394.96L736.78 393.58L736.32 391.28L735.40 389.90L734.02 389.44L733.10 389.44M745.14 389.44L743.76 389.90L742.84 391.28L742.38 393.58L742.38 394.96L742.84 397.26L743.76 398.64L745.14 399.10L746.06 399.10L747.44 398.64L748.36 397.26L748.82 394.96L748.82 393.58L748.36 391.28L747.44 389.90L746.06 389.44L745.14 389.44M701.10 405.15L701.10 414.81M701.10 414.81L706.62 414.81M708.41 405.15L708.41 414.81M708.41 405.15L714.39 405.15M708.41 409.75L712.09 409.75M722.59 407.45L722.13 406.53L721.21 405.61L720.29 405.15L718.45 405.15L717.53 405.61L716.61 406.53L716.15 407.45L715.69 408.83L715.69 411.13L716.15 412.51L716.61 413.43L717.53 414.35L718.45 414.81L720.29 414.81L721.21 414.35L722.13 413.43L722.59 412.51M730.46 405.15L729.08 405.61L728.62 406.53L728.62 407.45L729.08 408.37L730.00 408.83L731.84 409.29L733.22 409.75L734.14 410.67L734.60 411.59L734.60 412.97L734.14 413.89L733.68 414.35L732.30 414.81L730.46 414.81L729.08 414.35L728.16 413.89L727.70 412.97L727.70 411.59L728.16 410.67L729.08 409.75L730.46 409.29L732.30 408.83L733.22 408.37L733.68 407.45L733.68 406.53L733.22 405.61L731.84 405.15L730.46 405.15M742.74 408.37L742.28 409.75L741.36 410.67L739.98 411.13L739.52 411.13L738.14 410.67L737.22 409.75L736.76 408.37L736.76 407.91L737.22 406.53L738.14 405.61L739.52 405.15L739.98 405.15L741.36 405.61L742.28 406.53L742.74 408.37L742.74 410.67L742.28 412.97L741.36 414.35L739.98 414.81L739.06 414.81L737.68 414.35L737.22 413.43M746.28 405.15L751.34 405.15L748.58 408.83L749.96 408.83L750.88 409.29L751.34 409.75L751.80 411.13L751.80 412.05L751.34 413.43L750.42 414.35L749.04 414.81L747.66 414.81L746.28 414.35L745.82 413.89L745.36 412.97M701.50 420.86L701.50 430.52M701.50 420.86L707.48 420.86M701.50 425.46L705.18 425.46M701.50 430.52L707.48 430.52M709.67 420.86L709.67 430.52M709.67 430.52L715.19 430.52M721.34 422.70L722.26 422.24L723.64 420.86L723.64 430.52M734.54 422.24L734.08 421.32L732.70 420.86L731.78 420.86L730.40 421.32L729.48 422.70L729.02 425.00L729.02 427.30L729.48 429.14L730.40 430.06L731.78 430.52L732.24 430.52L733.62 430.06L734.54 429.14L735.00 427.76L735.00 427.30L734.54 425.92L733.62 425.00L732.24 424.54L731.78 424.54L730.40 425.00L729.48 425.92L729.02 427.30M742.68 420.86L738.08 420.86L737.62 425.00L738.08 424.54L739.46 424.08L740.84 424.08L742.22 424.54L743.14 425.46L743.60 426.84L743.60 427.76L743.14 429.14L742.22 430.06L740.84 430.52L739.46 430.52L738.08 430.06L737.62 429.60L737.16 428.68M701.00 436.57L701.00 446.23M701.00 436.57L704.68 446.23M708.36 436.57L704.68 446.23M708.36 436.57L708.36 446.23M711.32 436.57L711.32 446.23M711.32 436.57L715.46 436.57L716.84 437.03L717.30 437.49L717.76 438.41L717.76 439.79L717.30 440.71L716.84 441.17L715.46 441.63L711.32 441.63M720.35 436.57L720.35 446.23M720.35 446.23L725.87 446.23M732.02 438.41L732.94 437.95L734.32 436.57L734.32 446.23M742.00 436.57L740.62 437.03L739.70 438.41L739.24 440.71L739.24 442.09L739.70 444.39L740.62 445.77L742.00 446.23L742.92 446.23L744.30 445.77L745.22 444.39L745.68 442.09L745.68 440.71L745.22 438.41L744.30 437.03L742.92 436.57L742.00 436.57M749.22 438.41L750.14 437.95L751.52 436.57L751.52 446.23M701.30 457.80L709.58 457.80M711.56 452.28L713.86 461.94M716.16 452.28L713.86 461.94M716.16 452.28L718.46 461.94M720.76 452.28L718.46 461.94M722.80 452.28L722.80 461.94M726.24 452.28L726.24 461.94M726.24 452.28L732.68 461.94M732.68 452.28L732.68 461.94M735.70 452.28L735.70 461.94M735.70 452.28L738.92 452.28L740.30 452.74L741.22 453.66L741.68 454.58L742.14 455.96L742.14 458.26L741.68 459.64L741.22 460.56L740.30 461.48L738.92 461.94L735.70 461.94M744.73 457.80L753.01 457.80M703.90 467.99L703.90 477.65M703.90 467.99L710.34 477.65M710.34 467.99L710.34 477.65M715.66 467.99L714.74 468.45L713.82 469.37L713.36 470.29L712.90 471.67L712.90 473.97L713.36 475.35L713.82 476.27L714.74 477.19L715.66 477.65L717.50 477.65L718.42 477.19L719.34 476.27L719.80 475.35L720.26 473.97L720.26 471.67L719.80 470.29L719.34 469.37L718.42 468.45L717.50 467.99L715.66 467.99M724.66 467.99L724.66 477.65M721.44 467.99L727.88 467.99M706.28 483.70L702.60 493.36M706.28 483.70L709.96 493.36M703.98 490.14L708.58 490.14M710.34 483.70L714.02 493.36M717.70 483.70L714.02 493.36M721.76 483.70L718.08 493.36M721.76 483.70L725.44 493.36M719.46 490.14L724.06 490.14M727.20 483.70L727.20 493.36M730.64 483.70L730.64 493.36M730.64 493.36L736.16 493.36M72.34 331.26L82.00 331.26M72.34 331.26L72.34 327.12L72.80 325.74L73.26 325.28L74.18 324.82L75.56 324.82L76.48 325.28L76.94 325.74L77.40 327.12L77.40 331.26M72.34 322.34L82.00 322.34M72.34 322.34L72.34 318.20L72.80 316.81L73.26 316.36L74.18 315.90L75.10 315.90L76.02 316.36L76.48 316.81L76.94 318.20L76.94 322.34M76.94 319.12L82.00 315.90M72.34 313.41L82.00 313.41M72.34 313.41L72.34 307.43M76.94 313.41L76.94 309.73M82.00 313.41L82.00 307.43M73.72 299.36L72.80 300.28L72.34 301.66L72.34 303.50L72.80 304.88L73.72 305.80L74.64 305.80L75.56 305.34L76.02 304.88L76.48 303.96L77.40 301.20L77.86 300.28L78.32 299.81L79.24 299.36L80.62 299.36L81.54 300.28L82.00 301.66L82.00 303.50L81.54 304.88L80.62 305.80M73.72 290.86L72.80 291.78L72.34 293.16L72.34 295.00L72.80 296.38L73.72 297.30L74.64 297.30L75.56 296.84L76.02 296.38L76.48 295.46L77.40 292.70L77.86 291.78L78.32 291.32L79.24 290.86L80.62 290.86L81.54 291.78L82.00 293.16L82.00 295.00L81.54 296.38L80.62 297.30M72.34 288.34L79.24 288.34L80.62 287.88L81.54 286.96L82.00 285.58L82.00 284.66L81.54 283.28L80.62 282.36L79.24 281.90L72.34 281.90M72.34 278.99L82.00 278.99M72.34 278.99L72.34 274.85L72.80 273.47L73.26 273.00L74.18 272.55L75.10 272.55L76.02 273.00L76.48 273.47L76.94 274.85L76.94 278.99M76.94 275.77L82.00 272.55M72.34 270.06L82.00 270.06M72.34 270.06L72.34 264.08M76.94 270.06L76.94 266.38M82.00 270.06L82.00 264.08M70.50 251.97L71.42 252.89L72.80 253.81L74.64 254.73L76.94 255.19L78.78 255.19L81.08 254.73L82.92 253.81L84.30 252.89L85.22 251.97M72.34 249.24L82.00 249.24M72.34 249.24L82.00 245.56M72.34 241.88L82.00 245.56M72.34 241.88L82.00 241.88M72.34 239.04L82.00 239.04M72.34 239.04L72.34 234.90L72.80 233.52L73.26 233.06L74.18 232.60L75.10 232.60L76.02 233.06L76.48 233.52L76.94 234.90M76.94 239.04L76.94 234.90L77.40 233.52L77.86 233.06L78.78 232.60L80.16 232.60L81.08 233.06L81.54 233.52L82.00 234.90L82.00 239.04M70.50 230.57L71.42 229.65L72.80 228.73L74.64 227.81L76.94 227.35L78.78 227.35L81.08 227.81L82.92 228.73L84.30 229.65L85.22 230.57" stroke="#000000" stroke-width="1" fill="none" shape-rendering="crispEdges"/>
<path d="M114.00 62.69L121.02 62.69M123.98 59.57L124.76 59.18L125.93 58.01L125.93 66.20M130.28 59.96L130.28 59.57L130.67 58.79L131.06 58.40L131.84 58.01L133.40 58.01L134.18 58.40L134.57 58.79L134.96 59.57L134.96 60.35L134.57 61.13L133.79 62.30L129.89 66.20L135.35 66.20M139.31 58.01L138.14 58.40L137.36 59.57L136.97 61.52L136.97 62.69L137.36 64.64L138.14 65.81L139.31 66.20L140.09 66.20L141.26 65.81L142.04 64.64L142.43 62.69L142.43 61.52L142.04 59.57L141.26 58.40L140.09 58.01L139.31 58.01M182.00 62.69L189.02 62.69M191.98 59.57L192.76 59.18L193.93 58.01L193.93 66.20M199.06 59.57L199.84 59.18L201.01 58.01L201.01 66.20M207.31 58.01L206.14 58.40L205.36 59.57L204.97 61.52L204.97 62.69L205.36 64.64L206.14 65.81L207.31 66.20L208.09 66.20L209.26 65.81L210.04 64.64L210.43 62.69L210.43 61.52L210.04 59.57L209.26 58.40L208.09 58.01L207.31 58.01M250.00 62.69L257.02 62.69M259.98 59.57L260.76 59.18L261.93 58.01L261.93 66.20M268.23 58.01L267.06 58.40L266.28 59.57L265.89 61.52L265.89 62.69L266.28 64.64L267.06 65.81L268.23 66.20L269.01 66.20L270.18 65.81L270.96 64.64L271.35 62.69L271.35 61.52L270.96 59.57L270.18 58.40L269.01 58.01L268.23 58.01M275.31 58.01L274.14 58.40L273.36 59.57L272.97 61.52L272.97 62.69L273.36 64.64L274.14 65.81L275.31 66.20L276.09 66.20L277.26 65.81L278.04 64.64L278.43 62.69L278.43 61.52L278.04 59.57L277.26 58.40L276.09 58.01L275.31 58.01M324.50 62.69L331.52 62.69M338.38 60.74L337.99 61.91L337.21 62.69L336.04 63.08L335.65 63.08L334.48 62.69L333.70 61.91L333.31 60.74L333.31 60.35L333.70 59.18L334.48 58.40L335.65 58.01L336.04 58.01L337.21 58.40L337.99 59.18L338.38 60.74L338.38 62.69L337.99 64.64L337.21 65.81L336.04 66.20L335.26 66.20L334.09 65.81L333.70 65.03M342.73 58.01L341.56 58.40L340.78 59.57L340.39 61.52L340.39 62.69L340.78 64.64L341.56 65.81L342.73 66.20L343.51 66.20L344.68 65.81L345.46 64.64L345.85 62.69L345.85 61.52L345.46 59.57L344.68 58.40L343.51 58.01L342.73 58.01M392.50 62.69L399.52 62.69M403.26 58.01L402.09 58.40L401.70 59.18L401.70 59.96L402.09 60.74L402.87 61.13L404.43 61.52L405.60 61.91L406.38 62.69L406.77 63.47L406.77 64.64L406.38 65.42L405.99 65.81L404.82 66.20L403.26 66.20L402.09 65.81L401.31 65.42L400.92 64.64L400.92 63.47L401.31 62.69L402.09 61.91L403.26 61.52L404.82 61.13L405.60 60.74L405.99 59.96L405.99 59.18L405.60 58.40L404.43 58.01L403.26 58.01M410.73 58.01L409.56 58.40L408.78 59.57L408.39 61.52L408.39 62.69L408.78 64.64L409.56 65.81L410.73 66.20L411.51 66.20L412.68 65.81L413.46 64.64L413.85 62.69L413.85 61.52L413.46 59.57L412.68 58.40L411.51 58.01L410.73 58.01M460.00 62.69L467.02 62.69M474.27 58.01L470.37 66.20M468.81 58.01L474.27 58.01M478.23 58.01L477.06 58.40L476.28 59.57L475.89 61.52L475.89 62.69L476.28 64.64L477.06 65.81L478.23 66.20L479.01 66.20L480.18 65.81L480.96 64.64L481.35 62.69L481.35 61.52L480.96 59.57L480.18 58.40L479.01 58.01L478.23 58.01M527.00 62.69L534.02 62.69M540.88 59.18L540.49 58.40L539.32 58.01L538.54 58.01L537.37 58.40L536.59 59.57L536.20 61.52L536.20 63.47L536.59 65.03L537.37 65.81L538.54 66.20L538.93 66.20L540.10 65.81L540.88 65.03L541.27 63.86L541.27 63.47L540.88 62.30L540.10 61.52L538.93 61.13L538.54 61.13L537.37 61.52L536.59 62.30L536.20 63.47M545.23 58.01L544.06 58.40L543.28 59.57L542.89 61.52L542.89 62.69L543.28 64.64L544.06 65.81L545.23 66.20L546.01 66.20L547.18 65.81L547.96 64.64L548.35 62.69L548.35 61.52L547.96 59.57L547.18 58.40L546.01 58.01L545.23 58.01M595.00 62.69L602.02 62.69M608.49 58.01L604.59 58.01L604.20 61.52L604.59 61.13L605.76 60.74L606.93 60.74L608.10 61.13L608.88 61.91L609.27 63.08L609.27 63.86L608.88 65.03L608.10 65.81L606.93 66.20L605.76 66.20L604.59 65.81L604.20 65.42L603.81 64.64M613.23 58.01L612.06 58.40L611.28 59.57L610.89 61.52L610.89 62.69L611.28 64.64L612.06 65.81L613.23 66.20L614.01 66.20L615.18 65.81L615.96 64.64L616.35 62.69L616.35 61.52L615.96 59.57L615.18 58.40L614.01 58.01L613.23 58.01M663.00 62.69L670.02 62.69M675.71 58.01L671.81 63.47L677.66 63.47M675.71 58.01L675.71 66.20M681.23 58.01L680.06 58.40L679.28 59.57L678.89 61.52L678.89 62.69L679.28 64.64L680.06 65.81L681.23 66.20L682.01 66.20L683.18 65.81L683.96 64.64L684.35 62.69L684.35 61.52L683.96 59.57L683.18 58.40L682.01 58.01L681.23 58.01M88.00 513.19L95.02 513.19M101.49 508.51L97.59 508.51L97.20 512.02L97.59 511.63L98.76 511.24L99.93 511.24L101.10 511.63L101.88 512.41L102.27 513.58L102.27 514.36L101.88 515.53L101.10 516.31L99.93 516.70L98.76 516.70L97.59 516.31L97.20 515.92L96.81 515.14M106.23 508.51L105.06 508.90L104.28 510.07L103.89 512.02L103.89 513.19L104.28 515.14L105.06 516.31L106.23 516.70L107.01 516.70L108.18 516.31L108.96 515.14L109.35 513.19L109.35 512.02L108.96 510.07L108.18 508.90L107.01 508.51L106.23 508.51M154.50 513.19L161.52 513.19M167.21 508.51L163.31 513.97L169.16 513.97M167.21 508.51L167.21 516.70M172.73 508.51L171.56 508.90L170.78 510.07L170.39 512.02L170.39 513.19L170.78 515.14L171.56 516.31L172.73 516.70L173.51 516.70L174.68 516.31L175.46 515.14L175.85 513.19L175.85 512.02L175.46 510.07L174.68 508.90L173.51 508.51L172.73 508.51M222.50 513.19L229.52 513.19M232.09 508.51L236.38 508.51L234.04 511.63L235.21 511.63L235.99 512.02L236.38 512.41L236.77 513.58L236.77 514.36L236.38 515.53L235.60 516.31L234.43 516.70L233.26 516.70L232.09 516.31L231.70 515.92L231.31 515.14M240.73 508.51L239.56 508.90L238.78 510.07L238.39 512.02L238.39 513.19L238.78 515.14L239.56 516.31L240.73 516.70L241.51 516.70L242.68 516.31L243.46 515.14L243.85 513.19L243.85 512.02L243.46 510.07L242.68 508.90L241.51 508.51L240.73 508.51M290.70 513.19L297.72 513.19M299.90 510.46L299.90 510.07L300.29 509.29L300.68 508.90L301.46 508.51L303.02 508.51L303.80 508.90L304.19 509.29L304.58 510.07L304.58 510.85L304.19 511.63L303.41 512.80L299.51 516.70L304.97 516.70M308.93 508.51L307.76 508.90L306.98 510.07L306.59 512.02L306.59 513.19L306.98 515.14L307.76 516.31L308.93 516.70L309.71 516.70L310.88 516.31L311.66 515.14L312.05 513.19L312.05 512.02L311.66 510.07L310.88 508.90L309.71 508.51L308.93 508.51M358.60 513.19L365.62 513.19M368.58 510.07L369.36 509.68L370.53 508.51L370.53 516.70M376.83 508.51L375.66 508.90L374.88 510.07L374.49 512.02L374.49 513.19L374.88 515.14L375.66 516.31L376.83 516.70L377.61 516.70L378.78 516.31L379.56 515.14L379.95 513.19L379.95 512.02L379.56 510.07L378.78 508.90L377.61 508.51L376.83 508.51M436.14 508.51L434.97 508.90L434.19 510.07L433.80 512.02L433.80 513.19L434.19 515.14L434.97 516.31L436.14 516.70L436.92 516.70L438.09 516.31L438.87 515.14L439.26 513.19L439.26 512.02L438.87 510.07L438.09 508.90L436.92 508.51L436.14 508.51M498.60 510.07L499.38 509.68L500.55 508.51L500.55 516.70M506.85 508.51L505.68 508.90L504.90 510.07L504.51 512.02L504.51 513.19L504.90 515.14L505.68 516.31L506.85 516.70L507.63 516.70L508.80 516.31L509.58 515.14L509.97 513.19L509.97 512.02L509.58 510.07L508.80 508.90L507.63 508.51L506.85 508.51M565.89 510.46L565.89 510.07L566.28 509.29L566.67 508.90L567.45 508.51L569.01 508.51L569.79 508.90L570.18 509.29L570.57 510.07L570.57 510.85L570.18 511.63L569.40 512.80L565.50 516.70L570.96 516.70M574.92 508.51L573.75 508.90L572.97 510.07L572.58 512.02L572.58 513.19L572.97 515.14L573.75 516.31L574.92 516.70L575.70 516.70L576.87 516.31L577.65 515.14L578.04 513.19L578.04 512.02L577.65 510.07L576.87 508.90L575.70 508.51L574.92 508.51M634.58 508.51L638.87 508.51L636.53 511.63L637.70 511.63L638.48 512.02L638.87 512.41L639.26 513.58L639.26 514.36L638.87 515.53L638.09 516.31L636.92 516.70L635.75 516.70L634.58 516.31L634.19 515.92L633.80 515.14M643.22 508.51L642.05 508.90L641.27 510.07L640.88 512.02L640.88 513.19L641.27 515.14L642.05 516.31L643.22 516.70L644.00 516.70L645.17 516.31L645.95 515.14L646.34 513.19L646.34 512.02L645.95 510.07L645.17 508.90L644.00 508.51L643.22 508.51M679.73 508.51L679.73 516.70M677.00 508.51L682.46 508.51M686.56 506.95L685.78 507.73L685.00 508.90L684.22 510.46L683.83 512.41L683.83 513.97L684.22 515.92L685.00 517.48L685.78 518.65L686.56 519.43M694.25 510.46L693.86 509.68L693.08 508.90L692.30 508.51L690.74 508.51L689.96 508.90L689.18 509.68L688.79 510.46L688.40 511.63L688.40 513.58L688.79 514.75L689.18 515.53L689.96 516.31L690.74 516.70L692.30 516.70L693.08 516.31L693.86 515.53L694.25 514.75M695.83 506.95L696.61 507.73L697.39 508.90L698.17 510.46L698.56 512.41L698.56 513.97L698.17 515.92L697.39 517.48L696.61 518.65L695.83 519.43M122.48 103.29L117.30 116.90M122.48 103.29L127.67 116.90M119.24 112.36L125.72 112.36M129.86 107.83L129.86 116.90M129.86 110.42L131.81 108.48L133.10 107.83L135.05 107.83L136.34 108.48L136.99 110.42L136.99 116.90M136.99 110.42L138.94 108.48L140.23 107.83L142.18 107.83L143.47 108.48L144.12 110.42L144.12 116.90M147.56 103.29L147.56 116.90M147.56 109.77L148.86 108.48L150.16 107.83L152.10 107.83L153.40 108.48L154.69 109.77L155.34 111.72L155.34 113.01L154.69 114.96L153.40 116.25L152.10 116.90L150.16 116.90L148.86 116.25L147.56 114.96M158.77 107.83L158.77 116.90M162.85 111.72L170.62 111.72L170.62 110.42L169.97 109.12L169.33 108.48L168.03 107.83L166.09 107.83L164.79 108.48L163.49 109.77L162.85 111.72L162.85 113.01L163.49 114.96L164.79 116.25L166.09 116.90L168.03 116.90L169.33 116.25L170.62 114.96M174.11 107.83L174.11 116.90M174.11 110.42L176.06 108.48L177.35 107.83L179.30 107.83L180.59 108.48L181.24 110.42L181.24 116.90M185.97 103.29L185.97 114.31L186.62 116.25L187.92 116.90L189.21 116.90M184.03 107.83L188.56 107.83M205.08 103.29L199.90 116.90M205.08 103.29L210.27 116.90M201.84 112.36L208.32 112.36M212.46 107.83L212.46 116.90M217.18 107.83L217.18 116.90M217.18 111.72L217.83 109.77L219.13 108.48L220.42 107.83L222.37 107.83M236.89 103.29L236.89 116.90M232.35 103.29L241.42 103.29M243.09 111.72L250.86 111.72L250.86 110.42L250.21 109.12L249.57 108.48L248.27 107.83L246.33 107.83L245.03 108.48L243.73 109.77L243.09 111.72L243.09 113.01L243.73 114.96L245.03 116.25L246.33 116.90L248.27 116.90L249.57 116.25L250.86 114.96M254.35 107.83L254.35 116.90M254.35 110.42L256.30 108.48L257.59 107.83L259.54 107.83L260.83 108.48L261.48 110.42L261.48 116.90M261.48 110.42L263.43 108.48L264.72 107.83L266.67 107.83L267.96 108.48L268.61 110.42L268.61 116.90M272.05 107.83L272.05 121.44M272.05 109.77L273.35 108.48L274.65 107.83L276.59 107.83L277.89 108.48L279.18 109.77L279.83 111.72L279.83 113.01L279.18 114.96L277.89 116.25L276.59 116.90L274.65 116.90L273.35 116.25L272.05 114.96" stroke="#ff0000" stroke-width="1" fill="none" shape-rendering="crispEdges"/>
<path d="M119.30 123.89L119.30 137.50M119.30 123.89L123.84 123.89L125.78 124.54L127.08 125.84L127.72 127.13L128.37 129.08L128.37 132.32L127.72 134.26L127.08 135.56L125.78 136.85L123.84 137.50L119.30 137.50M131.04 132.32L138.82 132.32L138.82 131.02L138.17 129.72L137.52 129.08L136.23 128.43L134.28 128.43L132.99 129.08L131.69 130.37L131.04 132.32L131.04 133.61L131.69 135.56L132.99 136.85L134.28 137.50L136.23 137.50L137.52 136.85L138.82 135.56M141.66 128.43L144.25 137.50M146.85 128.43L144.25 137.50M146.85 128.43L149.44 137.50M152.03 128.43L149.44 137.50M164.73 123.89L164.73 137.50M164.73 123.89L170.56 123.89L172.51 124.54L173.15 125.19L173.80 126.48L173.80 128.43L173.15 129.72L172.51 130.37L170.56 131.02L164.73 131.02M179.71 128.43L178.42 129.08L177.12 130.37L176.47 132.32L176.47 133.61L177.12 135.56L178.42 136.85L179.71 137.50L181.66 137.50L182.95 136.85L184.25 135.56L184.90 133.61L184.90 132.32L184.25 130.37L182.95 129.08L181.66 128.43L179.71 128.43M188.33 128.43L188.33 137.50M193.05 128.43L193.05 137.50M193.05 131.02L194.99 129.08L196.29 128.43L198.23 128.43L199.53 129.08L200.18 131.02L200.18 137.50M204.91 123.89L204.91 134.91L205.56 136.85L206.85 137.50L208.15 137.50M202.96 128.43L207.50 128.43M223.37 123.89L223.37 137.50M218.84 123.89L227.91 123.89M229.57 132.32L237.35 132.32L237.35 131.02L236.70 129.72L236.05 129.08L234.76 128.43L232.81 128.43L231.52 129.08L230.22 130.37L229.57 132.32L229.57 133.61L230.22 135.56L231.52 136.85L232.81 137.50L234.76 137.50L236.05 136.85L237.35 135.56M240.84 128.43L240.84 137.50M240.84 131.02L242.78 129.08L244.08 128.43L246.02 128.43L247.32 129.08L247.97 131.02L247.97 137.50M247.97 131.02L249.91 129.08L251.21 128.43L253.15 128.43L254.45 129.08L255.10 131.02L255.10 137.50M258.54 128.43L258.54 142.04M258.54 130.37L259.84 129.08L261.13 128.43L263.08 128.43L264.37 129.08L265.67 130.37L266.32 132.32L266.32 133.61L265.67 135.56L264.37 136.85L263.08 137.50L261.13 137.50L259.84 136.85L258.54 135.56" stroke="#0000ff" stroke-width="1" fill="none" shape-rendering="crispEdges"/>
<path d="M122.48 146.29L117.30 159.90M122.48 146.29L127.67 159.90M119.24 155.36L125.72 155.36M129.86 150.83L129.86 159.90M134.58 150.83L134.58 159.90M134.58 154.72L135.23 152.77L136.53 151.48L137.82 150.83L139.77 150.83M151.69 146.29L151.69 159.90M151.69 146.29L157.53 146.29L159.47 146.94L160.12 147.59L160.77 148.88L160.77 150.83L160.12 152.12L159.47 152.77L157.53 153.42L151.69 153.42M171.21 150.83L171.21 159.90M171.21 152.77L169.92 151.48L168.62 150.83L166.68 150.83L165.38 151.48L164.08 152.77L163.44 154.72L163.44 156.01L164.08 157.96L165.38 159.25L166.68 159.90L168.62 159.90L169.92 159.25L171.21 157.96M175.29 150.83L175.29 159.90M175.29 154.72L175.94 152.77L177.24 151.48L178.53 150.83L180.48 150.83M190.09 152.77L188.80 151.48L187.50 150.83L185.56 150.83L184.26 151.48L182.96 152.77L182.32 154.72L182.32 156.01L182.96 157.96L184.26 159.25L185.56 159.90L187.50 159.90L188.80 159.25L190.09 157.96M192.94 154.72L200.71 154.72L200.71 153.42L200.06 152.12L199.42 151.48L198.12 150.83L196.18 150.83L194.88 151.48L193.58 152.77L192.94 154.72L192.94 156.01L193.58 157.96L194.88 159.25L196.18 159.90L198.12 159.90L199.42 159.25L200.71 157.96M204.20 146.29L204.20 159.90M220.96 146.29L220.96 159.90M216.42 146.29L225.49 146.29M227.16 154.72L234.93 154.72L234.93 153.42L234.28 152.12L233.64 151.48L232.34 150.83L230.40 150.83L229.10 151.48L227.80 152.77L227.16 154.72L227.16 156.01L227.80 157.96L229.10 159.25L230.40 159.90L232.34 159.90L233.64 159.25L234.93 157.96M238.42 150.83L238.42 159.90M238.42 153.42L240.37 151.48L241.66 150.83L243.61 150.83L244.90 151.48L245.55 153.42L245.55 159.90M245.55 153.42L247.50 151.48L248.79 150.83L250.74 150.83L252.03 151.48L252.68 153.42L252.68 159.90M256.12 150.83L256.12 164.44M256.12 152.77L257.42 151.48L258.72 150.83L260.66 150.83L261.96 151.48L263.25 152.77L263.90 154.72L263.90 156.01L263.25 157.96L261.96 159.25L260.66 159.90L258.72 159.90L257.42 159.25L256.12 157.96M676.86 517.10L676.13 517.83L675.40 518.93L674.67 520.39L674.30 522.22L674.30 523.69L674.67 525.52L675.40 526.98L676.13 528.08L676.86 528.81M683.16 521.13L683.16 526.98L682.79 528.08L682.42 528.45L681.69 528.81L680.59 528.81L679.86 528.45M683.16 522.22L682.42 521.49L681.69 521.13L680.59 521.13L679.86 521.49L679.13 522.22L678.76 523.32L678.76 524.05L679.13 525.15L679.86 525.88L680.59 526.25L681.69 526.25L682.42 525.88L683.16 525.15M691.54 517.10L684.95 528.81M693.27 518.56L693.27 526.25M696.93 521.13L693.27 524.79M694.74 523.32L697.30 526.25M703.17 521.13L703.17 526.98L702.80 528.08L702.43 528.45L701.70 528.81L700.60 528.81L699.87 528.45M703.17 522.22L702.43 521.49L701.70 521.13L700.60 521.13L699.87 521.49L699.14 522.22L698.77 523.32L698.77 524.05L699.14 525.15L699.87 525.88L700.60 526.25L701.70 526.25L702.43 525.88L703.17 525.15M705.33 517.10L706.06 517.83L706.79 518.93L707.52 520.39L707.89 522.22L707.89 523.69L707.52 525.52L706.79 526.98L706.06 528.08L705.33 528.81M135.57 521.93L135.07 522.94L135.32 524.20L136.33 525.71L137.09 526.47L138.60 527.48L139.86 527.73L140.87 527.23L141.38 526.72L141.88 525.71L141.63 524.45L140.62 522.94L139.86 522.18L138.35 521.17L137.09 520.92L136.08 521.42L135.57 521.93M142.36 517.16L142.61 516.40L142.61 514.89L147.91 520.19M181.57 521.93L181.07 522.94L181.32 524.20L182.33 525.71L183.09 526.47L184.60 527.48L185.86 527.73L186.87 527.23L187.38 526.72L187.88 525.71L187.63 524.45L186.62 522.94L185.86 522.18L184.35 521.17L183.09 520.92L182.08 521.42L181.57 521.93M188.10 517.92L187.85 517.67L187.60 516.91L187.60 516.40L187.85 515.65L188.86 514.64L189.62 514.38L190.12 514.38L190.88 514.64L191.39 515.14L191.64 515.90L191.89 517.16L191.89 522.21L195.43 518.67M246.97 521.93L246.47 522.94L246.72 524.20L247.73 525.71L248.49 526.47L250.00 527.48L251.26 527.73L252.27 527.23L252.78 526.72L253.28 525.71L253.03 524.45L252.02 522.94L251.26 522.18L249.75 521.17L248.49 520.92L247.48 521.42L246.97 521.93M255.02 513.88L252.49 516.40L254.51 518.93L254.51 518.42L255.02 517.41L255.78 516.66L256.79 516.15L257.80 516.15L258.81 516.66L259.31 517.16L259.82 518.17L259.82 519.18L259.31 520.19L258.55 520.95L257.54 521.45L257.04 521.45L256.28 521.20M305.02 522.89L305.28 522.14L305.28 520.62L310.58 525.92M334.72 523.69L334.98 522.94L334.98 521.42L340.28 526.72M342.52 513.88L339.99 516.40L342.01 518.93L342.01 518.42L342.52 517.41L343.28 516.66L344.29 516.15L345.30 516.15L346.31 516.66L346.81 517.16L347.32 518.17L347.32 519.18L346.81 520.19L346.05 520.95L345.04 521.45L344.54 521.45L343.78 521.20M362.27 523.95L362.02 523.70L361.77 522.94L361.77 522.44L362.02 521.68L363.03 520.67L363.79 520.42L364.29 520.42L365.05 520.67L365.55 521.17L365.80 521.93L366.06 523.19L366.06 528.24L369.59 524.71M395.26 521.44L398.04 518.66L398.54 522.19L399.30 521.44L400.06 521.18L400.56 521.18L401.57 521.69L402.08 522.19L402.58 523.20L402.58 524.21L402.08 525.22L401.32 525.98L400.31 526.49L399.80 526.49L399.05 526.23M424.98 519.42L425.99 525.48L429.78 521.69M424.98 519.42L430.28 524.72M464.80 519.42L464.04 519.16L463.03 519.67L462.52 520.17L462.02 521.18L462.27 522.45L463.28 523.96L464.54 525.22L465.80 525.98L466.81 525.98L467.82 525.48L468.08 525.22L468.58 524.21L468.58 523.20L468.08 522.19L467.82 521.94L466.81 521.44L465.80 521.44L464.80 521.94L464.54 522.19L464.04 523.20L464.04 524.21L464.54 525.22M490.42 520.68L489.91 521.69L490.17 522.45L490.67 522.95L491.43 523.20L492.19 522.95L493.45 522.19L494.46 521.69L495.47 521.69L496.22 521.94L496.98 522.70L497.23 523.46L497.23 523.96L496.73 524.97L495.72 525.98L494.71 526.49L493.95 526.74L493.20 526.49L492.44 525.73L492.19 524.97L492.19 523.96L492.69 522.95L493.45 521.69L493.70 520.93L493.45 520.17L492.94 519.67L492.19 519.42L491.18 519.92L490.42 520.68M511.32 523.69L511.58 522.94L511.58 521.42L516.88 526.72M515.74 517.26L515.23 518.27L515.49 519.53L516.49 521.05L517.25 521.80L518.77 522.81L520.03 523.07L521.04 522.56L521.54 522.06L522.05 521.05L521.80 519.78L520.79 518.27L520.03 517.51L518.51 516.50L517.25 516.25L516.24 516.76L515.74 517.26M531.42 523.69L531.68 522.94L531.68 521.42L536.98 526.72M535.84 519.78L535.59 519.53L535.33 518.77L535.33 518.27L535.59 517.51L536.59 516.50L537.35 516.25L537.86 516.25L538.61 516.50L539.12 517.01L539.37 517.76L539.62 519.03L539.62 524.08L543.16 520.54M554.22 523.69L554.48 522.94L554.48 521.42L559.78 526.72M560.15 515.75L557.63 518.27L559.65 520.79L559.65 520.29L560.15 519.28L560.91 518.52L561.92 518.02L562.93 518.02L563.94 518.52L564.44 519.03L564.95 520.04L564.95 521.05L564.44 522.06L563.69 522.81L562.68 523.32L562.17 523.32L561.41 523.07M584.17 524.45L583.92 524.20L583.67 523.44L583.67 522.94L583.92 522.18L584.93 521.17L585.69 520.92L586.19 520.92L586.95 521.17L587.45 521.67L587.70 522.43L587.96 523.69L587.96 528.74L591.49 525.21M588.84 517.26L588.33 518.27L588.59 519.53L589.59 521.05L590.35 521.80L591.87 522.81L593.13 523.07L594.14 522.56L594.64 522.06L595.15 521.05L594.90 519.78L593.89 518.27L593.13 517.51L591.61 516.50L590.35 516.25L589.34 516.76L588.84 517.26M608.47 524.45L608.22 524.20L607.97 523.44L607.97 522.94L608.22 522.18L609.23 521.17L609.99 520.92L610.49 520.92L611.25 521.17L611.75 521.67L612.00 522.43L612.26 523.69L612.26 528.74L615.79 525.21M614.65 515.75L612.13 518.27L614.15 520.79L614.15 520.29L614.65 519.28L615.41 518.52L616.42 518.02L617.43 518.02L618.44 518.52L618.94 519.03L619.45 520.04L619.45 521.05L618.94 522.06L618.19 522.81L617.18 523.32L616.67 523.32L615.91 523.07M627.96 522.94L630.74 520.16L631.24 523.69L632.00 522.94L632.76 522.68L633.26 522.68L634.27 523.19L634.78 523.69L635.28 524.70L635.28 525.71L634.78 526.72L634.02 527.48L633.01 527.99L632.50 527.99L631.75 527.73M633.64 517.26L633.13 518.27L633.39 519.53L634.39 521.05L635.15 521.80L636.67 522.81L637.93 523.07L638.94 522.56L639.44 522.06L639.95 521.05L639.70 519.78L638.69 518.27L637.93 517.51L636.41 516.50L635.15 516.25L634.14 516.76L633.64 517.26M663.78 520.92L664.79 526.98L668.58 523.19M663.78 520.92L669.08 526.22M667.44 517.26L666.93 518.27L667.19 519.53L668.19 521.05L668.95 521.80L670.47 522.81L671.73 523.07L672.74 522.56L673.24 522.06L673.75 521.05L673.50 519.78L672.49 518.27L671.73 517.51L670.21 516.50L668.95 516.25L667.94 516.76L667.44 517.26" stroke="#50008c" stroke-width="1" fill="none" shape-rendering="crispEdges"/>
<path d="M195 39h1v2h-1zM398 44h1v2h-1zM398 50h1v2h-1zM422 44h1v2h-1zM422 50h1v2h-1zM447 50h1v2h-1zM579 50h1v2h-1zM645 50h1v2h-1zM718 78h1v2h-1zM718 83h1v2h-1zM721 94h1v2h-1zM721 99h1v2h-1zM726 109h1v2h-1zM726 114h1v2h-1zM729 125h1v2h-1zM729 130h1v2h-1zM719 141h1v2h-1zM719 146h1v2h-1zM740 146h1v2h-1zM719 156h1v2h-1zM719 162h1v2h-1zM739 162h1v2h-1zM733 172h1v2h-1zM733 177h1v2h-1zM753 178h1v2h-1zM717 188h1v2h-1zM717 193h1v2h-1zM725 204h1v2h-1zM725 209h1v2h-1zM737 209h1v2h-1zM724 219h1v2h-1zM724 224h1v2h-1zM712 235h1v2h-1zM712 240h1v2h-1zM735 241h1v2h-1zM714 251h1v2h-1zM714 256h1v2h-1zM726 256h1v2h-1zM715 266h1v2h-1zM715 272h1v2h-1zM735 272h1v2h-1zM714 282h1v2h-1zM714 287h1v2h-1zM720 298h1v2h-1zM720 303h1v2h-1zM714 313h1v2h-1zM714 319h1v2h-1zM726 319h1v2h-1zM733 345h1v2h-1zM733 350h1v2h-1zM732 361h1v2h-1zM732 366h1v2h-1zM724 376h1v2h-1zM724 381h1v2h-1zM727 392h1v2h-1zM727 397h1v2h-1zM739 398h1v2h-1zM725 408h1v2h-1zM725 413h1v2h-1zM716 423h1v2h-1zM716 429h1v2h-1zM727 439h1v2h-1zM727 444h1v2h-1z" fill="#000000" shape-rendering="crispEdges"/>
<path d="M158 102h1v2h-1zM212 102h1v2h-1z" fill="#ff0000" shape-rendering="crispEdges"/>
<path d="M188 123h1v2h-1z" fill="#0000ff" shape-rendering="crispEdges"/>
<path d="M129 145h1v2h-1zM144 523h1v2h-1zM190 523h1v2h-1zM255 523h1v2h-1zM342 523h1v2h-1z" fill="#50008c" shape-rendering="crispEdges"/>
</svg></body></html>
